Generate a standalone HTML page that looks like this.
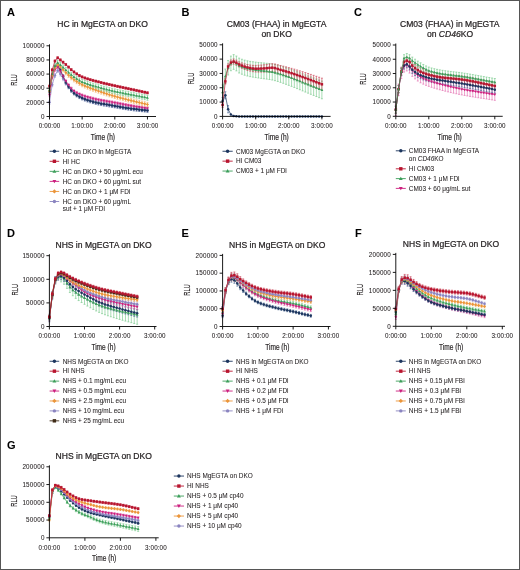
<!DOCTYPE html>
<html><head><meta charset="utf-8"><style>
html,body{margin:0;padding:0;background:#fff;}
svg{display:block;filter:blur(0.35px);}
text{font-family:"Liberation Sans", sans-serif;stroke:#231f20;stroke-width:0.06px;}
</style></head><body>
<svg width="520" height="570" viewBox="0 0 520 570">
<rect x="0" y="0" width="520" height="570" fill="#fff"/>
<text x="7.00" y="16.30" font-size="11" text-anchor="start" font-weight="bold" fill="#000" >A</text>
<text x="102.50" y="26.70" font-size="8.55" text-anchor="middle" font-weight="normal" fill="#231f20" style="stroke-width:0.22px">HC in MgEGTA on DKO</text>
<path d="M49.50 100.38V104.34M48.50 100.38h2M48.50 104.34h2M52.22 82.66V86.62M51.22 82.66h2M51.22 86.62h2M54.94 73.54V77.50M53.94 73.54h2M53.94 77.50h2M57.66 68.57V72.52M56.66 68.57h2M56.66 72.52h2M60.38 72.12V76.08M59.38 72.12h2M59.38 76.08h2M63.10 76.76V80.72M62.10 76.76h2M62.10 80.72h2M65.83 81.29V85.25M64.83 81.29h2M64.83 85.25h2M68.55 84.83V88.79M67.55 84.83h2M67.55 88.79h2M71.27 87.93V91.89M70.27 87.93h2M70.27 91.89h2M73.99 90.48V94.44M72.99 90.48h2M72.99 94.44h2M76.71 92.58V96.54M75.71 92.58h2M75.71 96.54h2M79.43 94.36V98.32M78.43 94.36h2M78.43 98.32h2M82.15 95.78V99.74M81.15 95.78h2M81.15 99.74h2M84.87 96.94V100.90M83.87 96.94h2M83.87 100.90h2M87.59 97.97V101.93M86.59 97.97h2M86.59 101.93h2M90.31 98.89V102.85M89.31 98.89h2M89.31 102.85h2M93.03 99.71V103.67M92.03 99.71h2M92.03 103.67h2M95.75 100.44V104.40M94.75 100.44h2M94.75 104.40h2M98.47 101.09V105.05M97.47 101.09h2M97.47 105.05h2M101.20 101.66V105.62M100.20 101.66h2M100.20 105.62h2M103.92 102.17V106.13M102.92 102.17h2M102.92 106.13h2M106.64 102.63V106.59M105.64 102.63h2M105.64 106.59h2M109.36 103.06V107.02M108.36 103.06h2M108.36 107.02h2M112.08 103.49V107.45M111.08 103.49h2M111.08 107.45h2M114.80 103.92V107.87M113.80 103.92h2M113.80 107.87h2M117.52 104.36V108.32M116.52 104.36h2M116.52 108.32h2M120.24 104.80V108.75M119.24 104.80h2M119.24 108.75h2M122.96 105.22V109.18M121.96 105.22h2M121.96 109.18h2M125.68 105.64V109.60M124.68 105.64h2M124.68 109.60h2M128.40 106.03V109.99M127.40 106.03h2M127.40 109.99h2M131.12 106.39V110.35M130.12 106.39h2M130.12 110.35h2M133.85 106.72V110.68M132.85 106.72h2M132.85 110.68h2M136.57 107.02V110.98M135.57 107.02h2M135.57 110.98h2M139.29 107.31V111.27M138.29 107.31h2M138.29 111.27h2M142.01 107.59V111.55M141.01 107.59h2M141.01 111.55h2M144.73 107.87V111.83M143.73 107.87h2M143.73 111.83h2M147.45 108.16V112.12M146.45 108.16h2M146.45 112.12h2" stroke="#aaa4d6" stroke-width="0.6" fill="none"/>
<path d="M49.50 89.99V93.52M48.50 89.99h2M48.50 93.52h2M52.22 73.68V77.22M51.22 73.68h2M51.22 77.22h2M54.94 65.25V68.79M53.94 65.25h2M53.94 68.79h2M57.66 63.83V67.36M56.66 63.83h2M56.66 67.36h2M60.38 68.09V71.63M59.38 68.09h2M59.38 71.63h2M63.10 74.54V78.07M62.10 74.54h2M62.10 78.07h2M65.83 80.80V84.33M64.83 80.80h2M64.83 84.33h2M68.55 85.10V88.64M67.55 85.10h2M67.55 88.64h2M71.27 88.68V92.22M70.27 88.68h2M70.27 92.22h2M73.99 91.40V94.94M72.99 91.40h2M72.99 94.94h2M76.71 93.43V96.97M75.71 93.43h2M75.71 96.97h2M79.43 95.06V98.59M78.43 95.06h2M78.43 98.59h2M82.15 96.35V99.89M81.15 96.35h2M81.15 99.89h2M84.87 97.43V100.96M83.87 97.43h2M83.87 100.96h2M87.59 98.38V101.92M86.59 98.38h2M86.59 101.92h2M90.31 99.23V102.77M89.31 99.23h2M89.31 102.77h2M93.03 99.99V103.53M92.03 99.99h2M92.03 103.53h2M95.75 100.67V104.21M94.75 100.67h2M94.75 104.21h2M98.47 101.30V104.83M97.47 101.30h2M97.47 104.83h2M101.20 101.86V105.40M100.20 101.86h2M100.20 105.40h2M103.92 102.36V105.89M102.92 102.36h2M102.92 105.89h2M106.64 102.81V106.34M105.64 102.81h2M105.64 106.34h2M109.36 103.24V106.78M108.36 103.24h2M108.36 106.78h2M112.08 103.67V107.21M111.08 103.67h2M111.08 107.21h2M114.80 104.13V107.66M113.80 104.13h2M113.80 107.66h2M117.52 104.61V108.15M116.52 104.61h2M116.52 108.15h2M120.24 105.12V108.65M119.24 105.12h2M119.24 108.65h2M122.96 105.62V109.16M121.96 105.62h2M121.96 109.16h2M125.68 106.11V109.64M124.68 106.11h2M124.68 109.64h2M128.40 106.56V110.09M127.40 106.56h2M127.40 110.09h2M131.12 106.96V110.49M130.12 106.96h2M130.12 110.49h2M133.85 107.30V110.83M132.85 107.30h2M132.85 110.83h2M136.57 107.61V111.14M135.57 107.61h2M135.57 111.14h2M139.29 107.89V111.43M138.29 107.89h2M138.29 111.43h2M142.01 108.16V111.70M141.01 108.16h2M141.01 111.70h2M144.73 108.44V111.97M143.73 108.44h2M143.73 111.97h2M147.45 108.72V112.26M146.45 108.72h2M146.45 112.26h2" stroke="#3a5a8a" stroke-width="0.6" fill="none"/>
<path d="M49.50 93.88V96.70M48.50 93.88h2M48.50 96.70h2M52.22 76.16V78.99M51.22 76.16h2M51.22 78.99h2M54.94 68.44V71.27M53.94 68.44h2M53.94 71.27h2M57.66 65.60V68.42M56.66 65.60h2M56.66 68.42h2M60.38 69.86V72.68M59.38 69.86h2M59.38 72.68h2M63.10 74.93V77.76M62.10 74.93h2M62.10 77.76h2M65.83 79.74V82.56M64.83 79.74h2M64.83 82.56h2M68.55 83.64V86.47M67.55 83.64h2M67.55 86.47h2M71.27 87.08V89.91M70.27 87.08h2M70.27 89.91h2M73.99 89.63V92.46M72.99 89.63h2M72.99 92.46h2M76.71 91.39V94.21M75.71 91.39h2M75.71 94.21h2M79.43 92.76V95.59M78.43 92.76h2M78.43 95.59h2M82.15 93.88V96.70M81.15 93.88h2M81.15 96.70h2M84.87 94.85V97.68M83.87 94.85h2M83.87 97.68h2M87.59 95.72V98.55M86.59 95.72h2M86.59 98.55h2M90.31 96.51V99.33M89.31 96.51h2M89.31 99.33h2M93.03 97.22V100.05M92.03 97.22h2M92.03 100.05h2M95.75 97.87V100.70M94.75 97.87h2M94.75 100.70h2M98.47 98.47V101.30M97.47 98.47h2M97.47 101.30h2M101.20 99.02V101.84M100.20 99.02h2M100.20 101.84h2M103.92 99.50V102.33M102.92 99.50h2M102.92 102.33h2M106.64 99.95V102.78M105.64 99.95h2M105.64 102.78h2M109.36 100.38V103.21M108.36 100.38h2M108.36 103.21h2M112.08 100.82V103.65M111.08 100.82h2M111.08 103.65h2M114.80 101.30V104.13M113.80 101.30h2M113.80 104.13h2M117.52 101.82V104.65M116.52 101.82h2M116.52 104.65h2M120.24 102.36V105.19M119.24 102.36h2M119.24 105.19h2M122.96 102.92V105.74M121.96 102.92h2M121.96 105.74h2M125.68 103.47V106.29M124.68 103.47h2M124.68 106.29h2M128.40 103.99V106.82M127.40 103.99h2M127.40 106.82h2M131.12 104.48V107.31M130.12 104.48h2M130.12 107.31h2M133.85 104.93V107.76M132.85 104.93h2M132.85 107.76h2M136.57 105.35V108.18M135.57 105.35h2M135.57 108.18h2M139.29 105.76V108.58M138.29 105.76h2M138.29 108.58h2M142.01 106.15V108.98M141.01 106.15h2M141.01 108.98h2M144.73 106.55V109.38M143.73 106.55h2M143.73 109.38h2M147.45 106.96V109.78M146.45 106.96h2M146.45 109.78h2" stroke="#e060a8" stroke-width="0.6" fill="none"/>
<path d="M49.50 88.93V93.17M48.50 88.93h2M48.50 93.17h2M52.22 73.33V77.57M51.22 73.33h2M51.22 77.57h2M54.94 65.61V69.85M53.94 65.61h2M53.94 69.85h2M57.66 62.77V67.01M56.66 62.77h2M56.66 67.01h2M60.38 64.90V69.14M59.38 64.90h2M59.38 69.14h2M63.10 67.67V71.92M62.10 67.67h2M62.10 71.92h2M65.83 70.54V74.79M64.83 70.54h2M64.83 74.79h2M68.55 73.10V77.34M67.55 73.10h2M67.55 77.34h2M71.27 75.49V79.74M70.27 75.49h2M70.27 79.74h2M73.99 77.61V81.86M72.99 77.61h2M72.99 81.86h2M76.71 79.47V83.71M75.71 79.47h2M75.71 83.71h2M79.43 81.12V85.37M78.43 81.12h2M78.43 85.37h2M82.15 82.56V86.81M81.15 82.56h2M81.15 86.81h2M84.87 83.82V88.06M83.87 83.82h2M83.87 88.06h2M87.59 84.96V89.20M86.59 84.96h2M86.59 89.20h2M90.31 86.01V90.26M89.31 86.01h2M89.31 90.26h2M93.03 87.01V91.25M92.03 87.01h2M92.03 91.25h2M95.75 87.97V92.21M94.75 87.97h2M94.75 92.21h2M98.47 88.93V93.17M97.47 88.93h2M97.47 93.17h2M101.20 89.88V94.12M100.20 89.88h2M100.20 94.12h2M103.92 90.81V95.05M102.92 90.81h2M102.92 95.05h2M106.64 91.71V95.95M105.64 91.71h2M105.64 95.95h2M109.36 92.58V96.83M108.36 92.58h2M108.36 96.83h2M112.08 93.43V97.67M111.08 93.43h2M111.08 97.67h2M114.80 94.23V98.47M113.80 94.23h2M113.80 98.47h2M117.52 95.00V99.24M116.52 95.00h2M116.52 99.24h2M120.24 95.73V99.97M119.24 95.73h2M119.24 99.97h2M122.96 96.43V100.67M121.96 96.43h2M121.96 100.67h2M125.68 97.12V101.36M124.68 97.12h2M124.68 101.36h2M128.40 97.80V102.04M127.40 97.80h2M127.40 102.04h2M131.12 98.47V102.71M130.12 98.47h2M130.12 102.71h2M133.85 99.14V103.38M132.85 99.14h2M132.85 103.38h2M136.57 99.79V104.03M135.57 99.79h2M135.57 104.03h2M139.29 100.44V104.68M138.29 100.44h2M138.29 104.68h2M142.01 101.08V105.32M141.01 101.08h2M141.01 105.32h2M144.73 101.72V105.96M143.73 101.72h2M143.73 105.96h2M147.45 102.36V106.60M146.45 102.36h2M146.45 106.60h2" stroke="#f2b062" stroke-width="0.6" fill="none"/>
<path d="M49.50 87.16V92.11M48.50 87.16h2M48.50 92.11h2M52.22 71.56V76.51M51.22 71.56h2M51.22 76.51h2M54.94 63.14V68.09M53.94 63.14h2M53.94 68.09h2M57.66 60.29V65.24M56.66 60.29h2M56.66 65.24h2M60.38 62.42V67.37M59.38 62.42h2M59.38 67.37h2M63.10 64.86V69.81M62.10 64.86h2M62.10 69.81h2M65.83 67.36V72.31M64.83 67.36h2M64.83 72.31h2M68.55 69.84V74.79M67.55 69.84h2M67.55 74.79h2M71.27 72.27V77.22M70.27 72.27h2M70.27 77.22h2M73.99 74.43V79.38M72.99 74.43h2M72.99 79.38h2M76.71 76.31V81.26M75.71 76.31h2M75.71 81.26h2M79.43 78.00V82.95M78.43 78.00h2M78.43 82.95h2M82.15 79.38V84.33M81.15 79.38h2M81.15 84.33h2M84.87 80.49V85.44M83.87 80.49h2M83.87 85.44h2M87.59 81.47V86.42M86.59 81.47h2M86.59 86.42h2M90.31 82.34V87.29M89.31 82.34h2M89.31 87.29h2M93.03 83.14V88.09M92.03 83.14h2M92.03 88.09h2M95.75 83.91V88.86M94.75 83.91h2M94.75 88.86h2M98.47 84.69V89.63M97.47 84.69h2M97.47 89.63h2M101.20 85.46V90.41M100.20 85.46h2M100.20 90.41h2M103.92 86.21V91.16M102.92 86.21h2M102.92 91.16h2M106.64 86.94V91.89M105.64 86.94h2M105.64 91.89h2M109.36 87.64V92.59M108.36 87.64h2M108.36 92.59h2M112.08 88.30V93.25M111.08 88.30h2M111.08 93.25h2M114.80 88.93V93.88M113.80 88.93h2M113.80 93.88h2M117.52 89.51V94.46M116.52 89.51h2M116.52 94.46h2M120.24 90.05V95.00M119.24 90.05h2M119.24 95.00h2M122.96 90.57V95.52M121.96 90.57h2M121.96 95.52h2M125.68 91.08V96.03M124.68 91.08h2M124.68 96.03h2M128.40 91.59V96.54M127.40 91.59h2M127.40 96.54h2M131.12 92.11V97.06M130.12 92.11h2M130.12 97.06h2M133.85 92.64V97.59M132.85 92.64h2M132.85 97.59h2M136.57 93.17V98.12M135.57 93.17h2M135.57 98.12h2M139.29 93.70V98.65M138.29 93.70h2M138.29 98.65h2M142.01 94.23V99.18M141.01 94.23h2M141.01 99.18h2M144.73 94.76V99.71M143.73 94.76h2M143.73 99.71h2M147.45 95.29V100.24M146.45 95.29h2M146.45 100.24h2" stroke="#6cc482" stroke-width="0.6" fill="none"/>
<path d="M49.50 85.04V87.16M48.50 85.04h2M48.50 87.16h2M52.22 68.73V70.85M51.22 68.73h2M51.22 70.85h2M54.94 59.96V62.08M53.94 59.96h2M53.94 62.08h2M57.66 56.76V58.88M56.66 56.76h2M56.66 58.88h2M60.38 58.89V61.01M59.38 58.89h2M59.38 61.01h2M63.10 61.14V63.26M62.10 61.14h2M62.10 63.26h2M65.83 63.47V65.60M64.83 63.47h2M64.83 65.60h2M68.55 66.01V68.14M67.55 66.01h2M67.55 68.14h2M71.27 68.62V70.74M70.27 68.62h2M70.27 70.74h2M73.99 70.90V73.02M72.99 70.90h2M72.99 73.02h2M76.71 72.81V74.93M75.71 72.81h2M75.71 74.93h2M79.43 74.50V76.62M78.43 74.50h2M78.43 76.62h2M82.15 75.85V77.97M81.15 75.85h2M81.15 77.97h2M84.87 76.91V79.03M83.87 76.91h2M83.87 79.03h2M87.59 77.82V79.94M86.59 77.82h2M86.59 79.94h2M90.31 78.63V80.76M89.31 78.63h2M89.31 80.76h2M93.03 79.38V81.50M92.03 79.38h2M92.03 81.50h2M95.75 80.08V82.21M94.75 80.08h2M94.75 82.21h2M98.47 80.80V82.92M97.47 80.80h2M97.47 82.92h2M101.20 81.50V83.62M100.20 81.50h2M100.20 83.62h2M103.92 82.18V84.30M102.92 82.18h2M102.92 84.30h2M106.64 82.82V84.94M105.64 82.82h2M105.64 84.94h2M109.36 83.45V85.57M108.36 83.45h2M108.36 85.57h2M112.08 84.07V86.19M111.08 84.07h2M111.08 86.19h2M114.80 84.69V86.81M113.80 84.69h2M113.80 86.81h2M117.52 85.29V87.41M116.52 85.29h2M116.52 87.41h2M120.24 85.89V88.01M119.24 85.89h2M119.24 88.01h2M122.96 86.47V88.59M121.96 86.47h2M121.96 88.59h2M125.68 87.05V89.18M124.68 87.05h2M124.68 89.18h2M128.40 87.63V89.76M127.40 87.63h2M127.40 89.76h2M131.12 88.22V90.34M130.12 88.22h2M130.12 90.34h2M133.85 88.81V90.93M132.85 88.81h2M132.85 90.93h2M136.57 89.40V91.52M135.57 89.40h2M135.57 91.52h2M139.29 89.99V92.11M138.29 89.99h2M138.29 92.11h2M142.01 90.58V92.70M141.01 90.58h2M141.01 92.70h2M144.73 91.17V93.29M143.73 91.17h2M143.73 93.29h2M147.45 91.75V93.88M146.45 91.75h2M146.45 93.88h2" stroke="#c8384c" stroke-width="0.6" fill="none"/>
<polyline points="49.50,102.36 52.22,84.64 54.94,75.52 57.66,70.54 60.38,74.10 63.10,78.74 65.83,83.27 68.55,86.81 71.27,89.91 73.99,92.46 76.71,94.56 79.43,96.34 82.15,97.76 84.87,98.92 87.59,99.95 90.31,100.87 93.03,101.69 95.75,102.42 98.47,103.07 101.20,103.64 103.92,104.15 106.64,104.61 109.36,105.04 112.08,105.47 114.80,105.89 117.52,106.34 120.24,106.77 122.96,107.20 125.68,107.62 128.40,108.01 131.12,108.37 133.85,108.70 136.57,109.00 139.29,109.29 142.01,109.57 144.73,109.85 147.45,110.14" fill="none" stroke="#8a84c0" stroke-width="0.7"/><circle cx="49.50" cy="102.36" r="1.25" fill="#8a84c0"/><circle cx="52.22" cy="84.64" r="1.25" fill="#8a84c0"/><circle cx="54.94" cy="75.52" r="1.25" fill="#8a84c0"/><circle cx="57.66" cy="70.54" r="1.25" fill="#8a84c0"/><circle cx="60.38" cy="74.10" r="1.25" fill="#8a84c0"/><circle cx="63.10" cy="78.74" r="1.25" fill="#8a84c0"/><circle cx="65.83" cy="83.27" r="1.25" fill="#8a84c0"/><circle cx="68.55" cy="86.81" r="1.25" fill="#8a84c0"/><circle cx="71.27" cy="89.91" r="1.25" fill="#8a84c0"/><circle cx="73.99" cy="92.46" r="1.25" fill="#8a84c0"/><circle cx="76.71" cy="94.56" r="1.25" fill="#8a84c0"/><circle cx="79.43" cy="96.34" r="1.25" fill="#8a84c0"/><circle cx="82.15" cy="97.76" r="1.25" fill="#8a84c0"/><circle cx="84.87" cy="98.92" r="1.25" fill="#8a84c0"/><circle cx="87.59" cy="99.95" r="1.25" fill="#8a84c0"/><circle cx="90.31" cy="100.87" r="1.25" fill="#8a84c0"/><circle cx="93.03" cy="101.69" r="1.25" fill="#8a84c0"/><circle cx="95.75" cy="102.42" r="1.25" fill="#8a84c0"/><circle cx="98.47" cy="103.07" r="1.25" fill="#8a84c0"/><circle cx="101.20" cy="103.64" r="1.25" fill="#8a84c0"/><circle cx="103.92" cy="104.15" r="1.25" fill="#8a84c0"/><circle cx="106.64" cy="104.61" r="1.25" fill="#8a84c0"/><circle cx="109.36" cy="105.04" r="1.25" fill="#8a84c0"/><circle cx="112.08" cy="105.47" r="1.25" fill="#8a84c0"/><circle cx="114.80" cy="105.89" r="1.25" fill="#8a84c0"/><circle cx="117.52" cy="106.34" r="1.25" fill="#8a84c0"/><circle cx="120.24" cy="106.77" r="1.25" fill="#8a84c0"/><circle cx="122.96" cy="107.20" r="1.25" fill="#8a84c0"/><circle cx="125.68" cy="107.62" r="1.25" fill="#8a84c0"/><circle cx="128.40" cy="108.01" r="1.25" fill="#8a84c0"/><circle cx="131.12" cy="108.37" r="1.25" fill="#8a84c0"/><circle cx="133.85" cy="108.70" r="1.25" fill="#8a84c0"/><circle cx="136.57" cy="109.00" r="1.25" fill="#8a84c0"/><circle cx="139.29" cy="109.29" r="1.25" fill="#8a84c0"/><circle cx="142.01" cy="109.57" r="1.25" fill="#8a84c0"/><circle cx="144.73" cy="109.85" r="1.25" fill="#8a84c0"/><circle cx="147.45" cy="110.14" r="1.25" fill="#8a84c0"/>
<polyline points="49.50,91.75 52.22,75.45 54.94,67.02 57.66,65.60 60.38,69.86 63.10,76.31 65.83,82.56 68.55,86.87 71.27,90.45 73.99,93.17 76.71,95.20 79.43,96.83 82.15,98.12 84.87,99.19 87.59,100.15 90.31,101.00 93.03,101.76 95.75,102.44 98.47,103.07 101.20,103.63 103.92,104.12 106.64,104.58 109.36,105.01 112.08,105.44 114.80,105.89 117.52,106.38 120.24,106.89 122.96,107.39 125.68,107.88 128.40,108.33 131.12,108.72 133.85,109.06 136.57,109.37 139.29,109.66 142.01,109.93 144.73,110.21 147.45,110.49" fill="none" stroke="#1c355e" stroke-width="0.7"/><circle cx="49.50" cy="91.75" r="1.25" fill="#1c355e"/><circle cx="52.22" cy="75.45" r="1.25" fill="#1c355e"/><circle cx="54.94" cy="67.02" r="1.25" fill="#1c355e"/><circle cx="57.66" cy="65.60" r="1.25" fill="#1c355e"/><circle cx="60.38" cy="69.86" r="1.25" fill="#1c355e"/><circle cx="63.10" cy="76.31" r="1.25" fill="#1c355e"/><circle cx="65.83" cy="82.56" r="1.25" fill="#1c355e"/><circle cx="68.55" cy="86.87" r="1.25" fill="#1c355e"/><circle cx="71.27" cy="90.45" r="1.25" fill="#1c355e"/><circle cx="73.99" cy="93.17" r="1.25" fill="#1c355e"/><circle cx="76.71" cy="95.20" r="1.25" fill="#1c355e"/><circle cx="79.43" cy="96.83" r="1.25" fill="#1c355e"/><circle cx="82.15" cy="98.12" r="1.25" fill="#1c355e"/><circle cx="84.87" cy="99.19" r="1.25" fill="#1c355e"/><circle cx="87.59" cy="100.15" r="1.25" fill="#1c355e"/><circle cx="90.31" cy="101.00" r="1.25" fill="#1c355e"/><circle cx="93.03" cy="101.76" r="1.25" fill="#1c355e"/><circle cx="95.75" cy="102.44" r="1.25" fill="#1c355e"/><circle cx="98.47" cy="103.07" r="1.25" fill="#1c355e"/><circle cx="101.20" cy="103.63" r="1.25" fill="#1c355e"/><circle cx="103.92" cy="104.12" r="1.25" fill="#1c355e"/><circle cx="106.64" cy="104.58" r="1.25" fill="#1c355e"/><circle cx="109.36" cy="105.01" r="1.25" fill="#1c355e"/><circle cx="112.08" cy="105.44" r="1.25" fill="#1c355e"/><circle cx="114.80" cy="105.89" r="1.25" fill="#1c355e"/><circle cx="117.52" cy="106.38" r="1.25" fill="#1c355e"/><circle cx="120.24" cy="106.89" r="1.25" fill="#1c355e"/><circle cx="122.96" cy="107.39" r="1.25" fill="#1c355e"/><circle cx="125.68" cy="107.88" r="1.25" fill="#1c355e"/><circle cx="128.40" cy="108.33" r="1.25" fill="#1c355e"/><circle cx="131.12" cy="108.72" r="1.25" fill="#1c355e"/><circle cx="133.85" cy="109.06" r="1.25" fill="#1c355e"/><circle cx="136.57" cy="109.37" r="1.25" fill="#1c355e"/><circle cx="139.29" cy="109.66" r="1.25" fill="#1c355e"/><circle cx="142.01" cy="109.93" r="1.25" fill="#1c355e"/><circle cx="144.73" cy="110.21" r="1.25" fill="#1c355e"/><circle cx="147.45" cy="110.49" r="1.25" fill="#1c355e"/>
<polyline points="49.50,95.29 52.22,77.57 54.94,69.85 57.66,67.01 60.38,71.27 63.10,76.34 65.83,81.15 68.55,85.06 71.27,88.49 73.99,91.05 76.71,92.80 79.43,94.17 82.15,95.29 84.87,96.26 87.59,97.14 90.31,97.92 93.03,98.63 95.75,99.28 98.47,99.89 101.20,100.43 103.92,100.92 106.64,101.36 109.36,101.80 112.08,102.24 114.80,102.71 117.52,103.23 120.24,103.78 122.96,104.33 125.68,104.88 128.40,105.41 131.12,105.89 133.85,106.34 136.57,106.77 139.29,107.17 142.01,107.57 144.73,107.96 147.45,108.37" fill="none" stroke="#cc1f7e" stroke-width="0.7"/><path d="M49.50 96.73L50.94 94.21L48.06 94.21Z" fill="#cc1f7e"/><path d="M52.22 79.01L53.66 76.49L50.78 76.49Z" fill="#cc1f7e"/><path d="M54.94 71.29L56.38 68.78L53.50 68.78Z" fill="#cc1f7e"/><path d="M57.66 68.45L59.10 65.93L56.23 65.93Z" fill="#cc1f7e"/><path d="M60.38 72.71L61.82 70.19L58.95 70.19Z" fill="#cc1f7e"/><path d="M63.10 77.78L64.54 75.27L61.67 75.27Z" fill="#cc1f7e"/><path d="M65.83 82.59L67.26 80.07L64.39 80.07Z" fill="#cc1f7e"/><path d="M68.55 86.50L69.98 83.98L67.11 83.98Z" fill="#cc1f7e"/><path d="M71.27 89.93L72.70 87.41L69.83 87.41Z" fill="#cc1f7e"/><path d="M73.99 92.49L75.42 89.97L72.55 89.97Z" fill="#cc1f7e"/><path d="M76.71 94.24L78.15 91.72L75.27 91.72Z" fill="#cc1f7e"/><path d="M79.43 95.61L80.87 93.10L77.99 93.10Z" fill="#cc1f7e"/><path d="M82.15 96.73L83.59 94.21L80.71 94.21Z" fill="#cc1f7e"/><path d="M84.87 97.70L86.31 95.18L83.43 95.18Z" fill="#cc1f7e"/><path d="M87.59 98.57L89.03 96.06L86.15 96.06Z" fill="#cc1f7e"/><path d="M90.31 99.36L91.75 96.84L88.88 96.84Z" fill="#cc1f7e"/><path d="M93.03 100.07L94.47 97.55L91.60 97.55Z" fill="#cc1f7e"/><path d="M95.75 100.72L97.19 98.20L94.32 98.20Z" fill="#cc1f7e"/><path d="M98.47 101.32L99.91 98.81L97.04 98.81Z" fill="#cc1f7e"/><path d="M101.20 101.87L102.63 99.35L99.76 99.35Z" fill="#cc1f7e"/><path d="M103.92 102.35L105.35 99.84L102.48 99.84Z" fill="#cc1f7e"/><path d="M106.64 102.80L108.07 100.28L105.20 100.28Z" fill="#cc1f7e"/><path d="M109.36 103.23L110.80 100.72L107.92 100.72Z" fill="#cc1f7e"/><path d="M112.08 103.68L113.52 101.16L110.64 101.16Z" fill="#cc1f7e"/><path d="M114.80 104.15L116.24 101.64L113.36 101.64Z" fill="#cc1f7e"/><path d="M117.52 104.67L118.96 102.15L116.08 102.15Z" fill="#cc1f7e"/><path d="M120.24 105.21L121.68 102.70L118.80 102.70Z" fill="#cc1f7e"/><path d="M122.96 105.77L124.40 103.25L121.52 103.25Z" fill="#cc1f7e"/><path d="M125.68 106.32L127.12 103.80L124.25 103.80Z" fill="#cc1f7e"/><path d="M128.40 106.84L129.84 104.33L126.97 104.33Z" fill="#cc1f7e"/><path d="M131.12 107.33L132.56 104.82L129.69 104.82Z" fill="#cc1f7e"/><path d="M133.85 107.78L135.28 105.27L132.41 105.27Z" fill="#cc1f7e"/><path d="M136.57 108.20L138.00 105.69L135.13 105.69Z" fill="#cc1f7e"/><path d="M139.29 108.61L140.72 106.09L137.85 106.09Z" fill="#cc1f7e"/><path d="M142.01 109.01L143.45 106.49L140.57 106.49Z" fill="#cc1f7e"/><path d="M144.73 109.40L146.17 106.89L143.29 106.89Z" fill="#cc1f7e"/><path d="M147.45 109.81L148.89 107.29L146.01 107.29Z" fill="#cc1f7e"/>
<polyline points="49.50,91.05 52.22,75.45 54.94,67.73 57.66,64.89 60.38,67.02 63.10,69.80 65.83,72.67 68.55,75.22 71.27,77.61 73.99,79.74 76.71,81.59 79.43,83.25 82.15,84.69 84.87,85.94 87.59,87.08 90.31,88.14 93.03,89.13 95.75,90.09 98.47,91.05 101.20,92.00 103.92,92.93 106.64,93.83 109.36,94.71 112.08,95.55 114.80,96.35 117.52,97.12 120.24,97.85 122.96,98.55 125.68,99.24 128.40,99.92 131.12,100.59 133.85,101.26 136.57,101.91 139.29,102.56 142.01,103.20 144.73,103.84 147.45,104.48" fill="none" stroke="#eb953a" stroke-width="0.7"/><path d="M49.50 89.49L51.06 91.05L49.50 92.61L47.94 91.05Z" fill="#eb953a"/><path d="M52.22 73.89L53.78 75.45L52.22 77.02L50.66 75.45Z" fill="#eb953a"/><path d="M54.94 66.17L56.50 67.73L54.94 69.30L53.38 67.73Z" fill="#eb953a"/><path d="M57.66 63.33L59.23 64.89L57.66 66.45L56.10 64.89Z" fill="#eb953a"/><path d="M60.38 65.46L61.95 67.02L60.38 68.58L58.82 67.02Z" fill="#eb953a"/><path d="M63.10 68.23L64.67 69.80L63.10 71.36L61.54 69.80Z" fill="#eb953a"/><path d="M65.83 71.10L67.39 72.67L65.83 74.23L64.26 72.67Z" fill="#eb953a"/><path d="M68.55 73.65L70.11 75.22L68.55 76.78L66.98 75.22Z" fill="#eb953a"/><path d="M71.27 76.05L72.83 77.61L71.27 79.18L69.70 77.61Z" fill="#eb953a"/><path d="M73.99 78.17L75.55 79.74L73.99 81.30L72.42 79.74Z" fill="#eb953a"/><path d="M76.71 80.03L78.27 81.59L76.71 83.15L75.15 81.59Z" fill="#eb953a"/><path d="M79.43 81.68L80.99 83.25L79.43 84.81L77.87 83.25Z" fill="#eb953a"/><path d="M82.15 83.12L83.71 84.69L82.15 86.25L80.59 84.69Z" fill="#eb953a"/><path d="M84.87 84.38L86.43 85.94L84.87 87.50L83.31 85.94Z" fill="#eb953a"/><path d="M87.59 85.52L89.15 87.08L87.59 88.64L86.03 87.08Z" fill="#eb953a"/><path d="M90.31 86.57L91.88 88.14L90.31 89.70L88.75 88.14Z" fill="#eb953a"/><path d="M93.03 87.57L94.60 89.13L93.03 90.69L91.47 89.13Z" fill="#eb953a"/><path d="M95.75 88.53L97.32 90.09L95.75 91.65L94.19 90.09Z" fill="#eb953a"/><path d="M98.47 89.49L100.04 91.05L98.47 92.61L96.91 91.05Z" fill="#eb953a"/><path d="M101.20 90.44L102.76 92.00L101.20 93.56L99.63 92.00Z" fill="#eb953a"/><path d="M103.92 91.37L105.48 92.93L103.92 94.49L102.35 92.93Z" fill="#eb953a"/><path d="M106.64 92.27L108.20 93.83L106.64 95.40L105.07 93.83Z" fill="#eb953a"/><path d="M109.36 93.14L110.92 94.71L109.36 96.27L107.80 94.71Z" fill="#eb953a"/><path d="M112.08 93.98L113.64 95.55L112.08 97.11L110.52 95.55Z" fill="#eb953a"/><path d="M114.80 94.79L116.36 96.35L114.80 97.91L113.24 96.35Z" fill="#eb953a"/><path d="M117.52 95.55L119.08 97.12L117.52 98.68L115.96 97.12Z" fill="#eb953a"/><path d="M120.24 96.29L121.80 97.85L120.24 99.41L118.68 97.85Z" fill="#eb953a"/><path d="M122.96 96.99L124.52 98.55L122.96 100.12L121.40 98.55Z" fill="#eb953a"/><path d="M125.68 97.68L127.25 99.24L125.68 100.80L124.12 99.24Z" fill="#eb953a"/><path d="M128.40 98.36L129.97 99.92L128.40 101.48L126.84 99.92Z" fill="#eb953a"/><path d="M131.12 99.03L132.69 100.59L131.12 102.16L129.56 100.59Z" fill="#eb953a"/><path d="M133.85 99.70L135.41 101.26L133.85 102.82L132.28 101.26Z" fill="#eb953a"/><path d="M136.57 100.35L138.13 101.91L136.57 103.48L135.00 101.91Z" fill="#eb953a"/><path d="M139.29 101.00L140.85 102.56L139.29 104.12L137.72 102.56Z" fill="#eb953a"/><path d="M142.01 101.63L143.57 103.20L142.01 104.76L140.45 103.20Z" fill="#eb953a"/><path d="M144.73 102.27L146.29 103.84L144.73 105.40L143.17 103.84Z" fill="#eb953a"/><path d="M147.45 102.92L149.01 104.48L147.45 106.04L145.89 104.48Z" fill="#eb953a"/>
<polyline points="49.50,89.63 52.22,74.04 54.94,65.61 57.66,62.77 60.38,64.90 63.10,67.33 65.83,69.84 68.55,72.31 71.27,74.75 73.99,76.91 76.71,78.79 79.43,80.48 82.15,81.86 84.87,82.97 87.59,83.94 90.31,84.81 93.03,85.62 95.75,86.39 98.47,87.16 101.20,87.94 103.92,88.69 106.64,89.42 109.36,90.11 112.08,90.78 114.80,91.40 117.52,91.98 120.24,92.53 122.96,93.05 125.68,93.56 128.40,94.06 131.12,94.58 133.85,95.11 136.57,95.64 139.29,96.17 142.01,96.70 144.73,97.23 147.45,97.76" fill="none" stroke="#3c9e5a" stroke-width="0.7"/><path d="M49.50 88.20L50.94 90.71L48.06 90.71Z" fill="#3c9e5a"/><path d="M52.22 72.60L53.66 75.11L50.78 75.11Z" fill="#3c9e5a"/><path d="M54.94 64.18L56.38 66.69L53.50 66.69Z" fill="#3c9e5a"/><path d="M57.66 61.33L59.10 63.85L56.23 63.85Z" fill="#3c9e5a"/><path d="M60.38 63.46L61.82 65.98L58.95 65.98Z" fill="#3c9e5a"/><path d="M63.10 65.89L64.54 68.41L61.67 68.41Z" fill="#3c9e5a"/><path d="M65.83 68.40L67.26 70.92L64.39 70.92Z" fill="#3c9e5a"/><path d="M68.55 70.88L69.98 73.39L67.11 73.39Z" fill="#3c9e5a"/><path d="M71.27 73.31L72.70 75.83L69.83 75.83Z" fill="#3c9e5a"/><path d="M73.99 75.47L75.42 77.99L72.55 77.99Z" fill="#3c9e5a"/><path d="M76.71 77.35L78.15 79.87L75.27 79.87Z" fill="#3c9e5a"/><path d="M79.43 79.04L80.87 81.55L77.99 81.55Z" fill="#3c9e5a"/><path d="M82.15 80.42L83.59 82.94L80.71 82.94Z" fill="#3c9e5a"/><path d="M84.87 81.53L86.31 84.05L83.43 84.05Z" fill="#3c9e5a"/><path d="M87.59 82.50L89.03 85.02L86.15 85.02Z" fill="#3c9e5a"/><path d="M90.31 83.37L91.75 85.89L88.88 85.89Z" fill="#3c9e5a"/><path d="M93.03 84.18L94.47 86.69L91.60 86.69Z" fill="#3c9e5a"/><path d="M95.75 84.95L97.19 87.46L94.32 87.46Z" fill="#3c9e5a"/><path d="M98.47 85.72L99.91 88.24L97.04 88.24Z" fill="#3c9e5a"/><path d="M101.20 86.50L102.63 89.01L99.76 89.01Z" fill="#3c9e5a"/><path d="M103.92 87.25L105.35 89.77L102.48 89.77Z" fill="#3c9e5a"/><path d="M106.64 87.98L108.07 90.49L105.20 90.49Z" fill="#3c9e5a"/><path d="M109.36 88.67L110.80 91.19L107.92 91.19Z" fill="#3c9e5a"/><path d="M112.08 89.34L113.52 91.85L110.64 91.85Z" fill="#3c9e5a"/><path d="M114.80 89.96L116.24 92.48L113.36 92.48Z" fill="#3c9e5a"/><path d="M117.52 90.55L118.96 93.06L116.08 93.06Z" fill="#3c9e5a"/><path d="M120.24 91.09L121.68 93.61L118.80 93.61Z" fill="#3c9e5a"/><path d="M122.96 91.61L124.40 94.13L121.52 94.13Z" fill="#3c9e5a"/><path d="M125.68 92.12L127.12 94.63L124.25 94.63Z" fill="#3c9e5a"/><path d="M128.40 92.63L129.84 95.14L126.97 95.14Z" fill="#3c9e5a"/><path d="M131.12 93.15L132.56 95.66L129.69 95.66Z" fill="#3c9e5a"/><path d="M133.85 93.68L135.28 96.19L132.41 96.19Z" fill="#3c9e5a"/><path d="M136.57 94.21L138.00 96.72L135.13 96.72Z" fill="#3c9e5a"/><path d="M139.29 94.74L140.72 97.25L137.85 97.25Z" fill="#3c9e5a"/><path d="M142.01 95.27L143.45 97.78L140.57 97.78Z" fill="#3c9e5a"/><path d="M144.73 95.80L146.17 98.31L143.29 98.31Z" fill="#3c9e5a"/><path d="M147.45 96.33L148.89 98.84L146.01 98.84Z" fill="#3c9e5a"/>
<polyline points="49.50,86.10 52.22,69.79 54.94,61.02 57.66,57.82 60.38,59.95 63.10,62.20 65.83,64.54 68.55,67.08 71.27,69.68 73.99,71.96 76.71,73.87 79.43,75.56 82.15,76.91 84.87,77.97 87.59,78.88 90.31,79.69 93.03,80.44 95.75,81.14 98.47,81.86 101.20,82.56 103.92,83.24 106.64,83.88 109.36,84.51 112.08,85.13 114.80,85.75 117.52,86.35 120.24,86.95 122.96,87.53 125.68,88.11 128.40,88.70 131.12,89.28 133.85,89.87 136.57,90.46 139.29,91.05 142.01,91.64 144.73,92.23 147.45,92.82" fill="none" stroke="#b8152f" stroke-width="0.7"/><rect x="48.25" y="84.85" width="2.50" height="2.50" fill="#b8152f"/><rect x="50.97" y="68.54" width="2.50" height="2.50" fill="#b8152f"/><rect x="53.69" y="59.77" width="2.50" height="2.50" fill="#b8152f"/><rect x="56.41" y="56.57" width="2.50" height="2.50" fill="#b8152f"/><rect x="59.13" y="58.70" width="2.50" height="2.50" fill="#b8152f"/><rect x="61.85" y="60.95" width="2.50" height="2.50" fill="#b8152f"/><rect x="64.58" y="63.29" width="2.50" height="2.50" fill="#b8152f"/><rect x="67.30" y="65.83" width="2.50" height="2.50" fill="#b8152f"/><rect x="70.02" y="68.43" width="2.50" height="2.50" fill="#b8152f"/><rect x="72.74" y="70.71" width="2.50" height="2.50" fill="#b8152f"/><rect x="75.46" y="72.62" width="2.50" height="2.50" fill="#b8152f"/><rect x="78.18" y="74.31" width="2.50" height="2.50" fill="#b8152f"/><rect x="80.90" y="75.66" width="2.50" height="2.50" fill="#b8152f"/><rect x="83.62" y="76.72" width="2.50" height="2.50" fill="#b8152f"/><rect x="86.34" y="77.63" width="2.50" height="2.50" fill="#b8152f"/><rect x="89.06" y="78.44" width="2.50" height="2.50" fill="#b8152f"/><rect x="91.78" y="79.19" width="2.50" height="2.50" fill="#b8152f"/><rect x="94.50" y="79.89" width="2.50" height="2.50" fill="#b8152f"/><rect x="97.22" y="80.61" width="2.50" height="2.50" fill="#b8152f"/><rect x="99.95" y="81.31" width="2.50" height="2.50" fill="#b8152f"/><rect x="102.67" y="81.99" width="2.50" height="2.50" fill="#b8152f"/><rect x="105.39" y="82.63" width="2.50" height="2.50" fill="#b8152f"/><rect x="108.11" y="83.26" width="2.50" height="2.50" fill="#b8152f"/><rect x="110.83" y="83.88" width="2.50" height="2.50" fill="#b8152f"/><rect x="113.55" y="84.50" width="2.50" height="2.50" fill="#b8152f"/><rect x="116.27" y="85.10" width="2.50" height="2.50" fill="#b8152f"/><rect x="118.99" y="85.70" width="2.50" height="2.50" fill="#b8152f"/><rect x="121.71" y="86.28" width="2.50" height="2.50" fill="#b8152f"/><rect x="124.43" y="86.86" width="2.50" height="2.50" fill="#b8152f"/><rect x="127.15" y="87.45" width="2.50" height="2.50" fill="#b8152f"/><rect x="129.88" y="88.03" width="2.50" height="2.50" fill="#b8152f"/><rect x="132.60" y="88.62" width="2.50" height="2.50" fill="#b8152f"/><rect x="135.32" y="89.21" width="2.50" height="2.50" fill="#b8152f"/><rect x="138.04" y="89.80" width="2.50" height="2.50" fill="#b8152f"/><rect x="140.76" y="90.39" width="2.50" height="2.50" fill="#b8152f"/><rect x="143.48" y="90.98" width="2.50" height="2.50" fill="#b8152f"/><rect x="146.20" y="91.57" width="2.50" height="2.50" fill="#b8152f"/>
<path d="M49.50 44.30V116.50H156.00" stroke="#000" stroke-width="0.9" fill="none"/>
<text x="44.70" y="118.75" font-size="6.3" text-anchor="end" font-weight="normal" fill="#231f20" letter-spacing="0.2">0</text>
<text x="44.70" y="104.61" font-size="6.3" text-anchor="end" font-weight="normal" fill="#231f20" letter-spacing="0.2">20000</text>
<text x="44.70" y="90.47" font-size="6.3" text-anchor="end" font-weight="normal" fill="#231f20" letter-spacing="0.2">40000</text>
<text x="44.70" y="76.33" font-size="6.3" text-anchor="end" font-weight="normal" fill="#231f20" letter-spacing="0.2">60000</text>
<text x="44.70" y="62.19" font-size="6.3" text-anchor="end" font-weight="normal" fill="#231f20" letter-spacing="0.2">80000</text>
<text x="44.70" y="48.05" font-size="6.3" text-anchor="end" font-weight="normal" fill="#231f20" letter-spacing="0.2">100000</text>
<text x="49.55" y="128.40" font-size="6.3" text-anchor="middle" font-weight="normal" fill="#231f20" letter-spacing="0.1">0:00:00</text>
<text x="82.20" y="128.40" font-size="6.3" text-anchor="middle" font-weight="normal" fill="#231f20" letter-spacing="0.1">1:00:00</text>
<text x="114.85" y="128.40" font-size="6.3" text-anchor="middle" font-weight="normal" fill="#231f20" letter-spacing="0.1">2:00:00</text>
<text x="147.50" y="128.40" font-size="6.3" text-anchor="middle" font-weight="normal" fill="#231f20" letter-spacing="0.1">3:00:00</text>
<path d="M46.50 116.50H49.50M46.50 102.36H49.50M46.50 88.22H49.50M46.50 74.08H49.50M46.50 59.94H49.50M46.50 45.80H49.50M49.50 116.50V119.50M82.15 116.50V119.50M114.80 116.50V119.50M147.45 116.50V119.50" stroke="#000" stroke-width="0.9" fill="none"/>
<text x="0" y="0" font-size="8.4" text-anchor="middle" fill="#231f20" textLength="11.6" lengthAdjust="spacingAndGlyphs" style="stroke-width:0.18px" transform="translate(17.00 80.00) rotate(-90)">RLU</text>
<text x="102.90" y="139.60" font-size="8.4" text-anchor="middle" fill="#231f20" textLength="24.2" lengthAdjust="spacingAndGlyphs" style="stroke-width:0.18px">Time (h)</text>
<path d="M49.60 151.25H59.20" stroke="#1c355e" stroke-width="0.9"/>
<circle cx="54.40" cy="151.25" r="1.70" fill="#1c355e"/>
<text x="62.70" y="153.55" font-size="6.45" text-anchor="start" font-weight="normal" fill="#231f20" >HC on DKO in MgEGTA</text>
<path d="M49.60 161.30H59.20" stroke="#b8152f" stroke-width="0.9"/>
<rect x="52.70" y="159.60" width="3.40" height="3.40" fill="#b8152f"/>
<text x="62.70" y="163.60" font-size="6.45" text-anchor="start" font-weight="normal" fill="#231f20" >HI HC</text>
<path d="M49.60 171.35H59.20" stroke="#3c9e5a" stroke-width="0.9"/>
<path d="M54.40 169.40L56.36 172.82L52.45 172.82Z" fill="#3c9e5a"/>
<text x="62.70" y="173.65" font-size="6.45" text-anchor="start" font-weight="normal" fill="#231f20" >HC on DKO + 50 μg/mL ecu</text>
<path d="M49.60 181.40H59.20" stroke="#cc1f7e" stroke-width="0.9"/>
<path d="M54.40 183.36L56.36 179.93L52.45 179.93Z" fill="#cc1f7e"/>
<text x="62.70" y="183.70" font-size="6.45" text-anchor="start" font-weight="normal" fill="#231f20" >HC on DKO + 60 μg/mL sut</text>
<path d="M49.60 191.45H59.20" stroke="#eb953a" stroke-width="0.9"/>
<path d="M54.40 189.33L56.53 191.45L54.40 193.58L52.28 191.45Z" fill="#eb953a"/>
<text x="62.70" y="193.75" font-size="6.45" text-anchor="start" font-weight="normal" fill="#231f20" >HC on DKO + 1 μM FDi</text>
<path d="M49.60 201.50H59.20" stroke="#8a84c0" stroke-width="0.9"/>
<circle cx="54.40" cy="201.50" r="1.70" fill="#8a84c0"/>
<text x="62.70" y="203.80" font-size="6.45" text-anchor="start" font-weight="normal" fill="#231f20" >HC on DKO + 60 μg/mL</text>
<text x="62.70" y="211.20" font-size="6.45" text-anchor="start" font-weight="normal" fill="#231f20" >sut + 1 μM FDi</text>
<text x="181.50" y="16.30" font-size="11" text-anchor="start" font-weight="bold" fill="#000" >B</text>
<text x="276.60" y="26.60" font-size="8.55" text-anchor="middle" font-weight="normal" fill="#231f20" style="stroke-width:0.22px">CM03 (FHAA) in MgEGTA</text>
<text x="276.60" y="37.30" font-size="8.55" text-anchor="middle" font-weight="normal" fill="#231f20" style="stroke-width:0.22px">on DKO</text>
<path d="M222.60 84.90V99.22M221.60 84.90h2M221.60 99.22h2M225.36 69.05V83.47M224.36 69.05h2M224.36 83.47h2M228.12 60.48V74.99M227.12 60.48h2M227.12 74.99h2M230.88 56.11V70.72M229.88 56.11h2M229.88 70.72h2M233.63 54.63V69.33M232.63 54.63h2M232.63 69.33h2M236.39 56.06V70.86M235.39 56.06h2M235.39 70.86h2M239.15 58.12V73.01M238.15 58.12h2M238.15 73.01h2M241.91 59.24V74.22M240.91 59.24h2M240.91 74.22h2M244.67 60.14V75.23M243.67 60.14h2M243.67 75.23h2M247.43 60.84V76.02M246.43 60.84h2M246.43 76.02h2M250.18 61.35V76.63M249.18 61.35h2M249.18 76.63h2M252.94 61.76V77.13M251.94 61.76h2M251.94 77.13h2M255.70 62.13V77.59M254.70 62.13h2M254.70 77.59h2M258.46 62.46V78.02M257.46 62.46h2M257.46 78.02h2M261.22 62.74V78.39M260.22 62.74h2M260.22 78.39h2M263.98 62.99V78.75M262.98 62.99h2M262.98 78.75h2M266.73 63.27V79.11M265.73 63.27h2M265.73 79.11h2M269.49 63.59V79.53M268.49 63.59h2M268.49 79.53h2M272.25 63.99V80.03M271.25 63.99h2M271.25 80.03h2M275.01 64.53V80.66M274.01 64.53h2M274.01 80.66h2M277.77 65.22V81.45M276.77 65.22h2M276.77 81.45h2M280.52 66.02V82.35M279.52 66.02h2M279.52 82.35h2M283.28 66.90V83.32M282.28 66.90h2M282.28 83.32h2M286.04 67.81V84.32M285.04 67.81h2M285.04 84.32h2M288.80 68.71V85.33M287.80 68.71h2M287.80 85.33h2M291.56 69.65V86.35M290.56 69.65h2M290.56 86.35h2M294.32 70.65V87.45M293.32 70.65h2M293.32 87.45h2M297.07 71.69V88.59M296.07 71.69h2M296.07 88.59h2M299.83 72.76V89.75M298.83 72.76h2M298.83 89.75h2M302.59 73.83V90.92M301.59 73.83h2M301.59 90.92h2M305.35 74.87V92.06M304.35 74.87h2M304.35 92.06h2M308.11 75.90V93.18M307.11 75.90h2M307.11 93.18h2M310.87 76.92V94.30M309.87 76.92h2M309.87 94.30h2M313.62 77.95V95.42M312.62 77.95h2M312.62 95.42h2M316.38 78.98V96.54M315.38 78.98h2M315.38 96.54h2M319.14 80.00V97.66M318.14 80.00h2M318.14 97.66h2M321.90 81.03V98.79M320.90 81.03h2M320.90 98.79h2" stroke="#6cc482" stroke-width="0.6" fill="none"/>
<path d="M222.60 102.37V107.52M221.60 102.37h2M221.60 107.52h2M225.36 78.81V83.96M224.36 78.81h2M224.36 83.96h2M228.12 63.87V69.03M227.12 63.87h2M227.12 69.03h2M230.88 59.98V65.13M229.88 59.98h2M229.88 65.13h2M233.63 58.98V64.13M232.63 58.98h2M232.63 64.13h2M236.39 60.11V65.27M235.39 60.11h2M235.39 65.27h2M239.15 61.84V67.00M238.15 61.84h2M238.15 67.00h2M241.91 62.90V68.29M240.91 62.90h2M240.91 68.29h2M244.67 63.83V69.46M243.67 63.83h2M243.67 69.46h2M247.43 64.49V70.36M246.43 64.49h2M246.43 70.36h2M250.18 64.97V71.08M249.18 64.97h2M249.18 71.08h2M252.94 65.34V71.69M251.94 65.34h2M251.94 71.69h2M255.70 65.42V72.01M254.70 65.42h2M254.70 72.01h2M258.46 65.26V72.08M257.46 65.26h2M257.46 72.08h2M261.22 65.03V72.10M260.22 65.03h2M260.22 72.10h2M263.98 64.78V72.08M262.98 64.78h2M262.98 72.08h2M266.73 64.41V71.95M265.73 64.41h2M265.73 71.95h2M269.49 63.98V71.76M268.49 63.98h2M268.49 71.76h2M272.25 63.70V71.72M271.25 63.70h2M271.25 71.72h2M275.01 63.97V72.23M274.01 63.97h2M274.01 72.23h2M277.77 64.72V73.21M276.77 64.72h2M276.77 73.21h2M280.52 65.49V74.23M279.52 65.49h2M279.52 74.23h2M283.28 66.15V75.12M282.28 66.15h2M282.28 75.12h2M286.04 66.84V76.05M285.04 66.84h2M285.04 76.05h2M288.80 67.57V77.02M287.80 67.57h2M287.80 77.02h2M291.56 68.34V78.03M290.56 68.34h2M290.56 78.03h2M294.32 69.14V79.07M293.32 69.14h2M293.32 79.07h2M297.07 69.98V80.14M296.07 69.98h2M296.07 80.14h2M299.83 70.83V81.24M298.83 70.83h2M298.83 81.24h2M302.59 71.70V82.35M301.59 71.70h2M301.59 82.35h2M305.35 72.58V83.46M304.35 72.58h2M304.35 83.46h2M308.11 73.48V84.60M307.11 73.48h2M307.11 84.60h2M310.87 74.40V85.76M309.87 74.40h2M309.87 85.76h2M313.62 75.34V86.93M312.62 75.34h2M312.62 86.93h2M316.38 76.28V88.12M315.38 76.28h2M315.38 88.12h2M319.14 77.23V89.30M318.14 77.23h2M318.14 89.30h2M321.90 78.17V90.48M320.90 78.17h2M320.90 90.48h2" stroke="#c8384c" stroke-width="0.6" fill="none"/>
<path d="M222.60 97.50V104.66M221.60 97.50h2M221.60 104.66h2M225.36 91.77V98.93M224.36 91.77h2M224.36 98.93h2M228.12 105.63V112.79M227.12 105.63h2M227.12 112.79h2" stroke="#3a5a8a" stroke-width="0.6" fill="none"/>
<polyline points="222.60,92.06 225.36,76.26 228.12,67.73 230.88,63.42 233.63,61.98 236.39,63.46 239.15,65.56 241.91,66.73 244.67,67.68 247.43,68.43 250.18,68.99 252.94,69.45 255.70,69.86 258.46,70.24 261.22,70.56 263.98,70.87 266.73,71.19 269.49,71.56 272.25,72.01 275.01,72.60 277.77,73.34 280.52,74.19 283.28,75.11 286.04,76.07 288.80,77.02 291.56,78.00 294.32,79.05 297.07,80.14 299.83,81.26 302.59,82.37 305.35,83.46 308.11,84.54 310.87,85.61 313.62,86.69 316.38,87.76 319.14,88.83 321.90,89.91" fill="none" stroke="#3c9e5a" stroke-width="0.7"/><path d="M222.60 90.62L224.04 93.13L221.16 93.13Z" fill="#3c9e5a"/><path d="M225.36 74.82L226.80 77.34L223.92 77.34Z" fill="#3c9e5a"/><path d="M228.12 66.30L229.55 68.81L226.68 68.81Z" fill="#3c9e5a"/><path d="M230.88 61.98L232.31 64.49L229.44 64.49Z" fill="#3c9e5a"/><path d="M233.63 60.55L235.07 63.06L232.20 63.06Z" fill="#3c9e5a"/><path d="M236.39 62.02L237.83 64.54L234.95 64.54Z" fill="#3c9e5a"/><path d="M239.15 64.13L240.59 66.64L237.71 66.64Z" fill="#3c9e5a"/><path d="M241.91 65.29L243.35 67.81L240.47 67.81Z" fill="#3c9e5a"/><path d="M244.67 66.25L246.10 68.76L243.23 68.76Z" fill="#3c9e5a"/><path d="M247.43 66.99L248.86 69.51L245.99 69.51Z" fill="#3c9e5a"/><path d="M250.18 67.55L251.62 70.07L248.75 70.07Z" fill="#3c9e5a"/><path d="M252.94 68.01L254.38 70.52L251.50 70.52Z" fill="#3c9e5a"/><path d="M255.70 68.42L257.14 70.94L254.26 70.94Z" fill="#3c9e5a"/><path d="M258.46 68.80L259.90 71.32L257.02 71.32Z" fill="#3c9e5a"/><path d="M261.22 69.13L262.65 71.64L259.78 71.64Z" fill="#3c9e5a"/><path d="M263.98 69.43L265.41 71.95L262.54 71.95Z" fill="#3c9e5a"/><path d="M266.73 69.75L268.17 72.27L265.30 72.27Z" fill="#3c9e5a"/><path d="M269.49 70.12L270.93 72.64L268.05 72.64Z" fill="#3c9e5a"/><path d="M272.25 70.57L273.69 73.09L270.81 73.09Z" fill="#3c9e5a"/><path d="M275.01 71.16L276.45 73.67L273.57 73.67Z" fill="#3c9e5a"/><path d="M277.77 71.90L279.20 74.41L276.33 74.41Z" fill="#3c9e5a"/><path d="M280.52 72.75L281.96 75.26L279.09 75.26Z" fill="#3c9e5a"/><path d="M283.28 73.67L284.72 76.19L281.85 76.19Z" fill="#3c9e5a"/><path d="M286.04 74.63L287.48 77.14L284.60 77.14Z" fill="#3c9e5a"/><path d="M288.80 75.58L290.24 78.10L287.36 78.10Z" fill="#3c9e5a"/><path d="M291.56 76.56L293.00 79.08L290.12 79.08Z" fill="#3c9e5a"/><path d="M294.32 77.61L295.75 80.13L292.88 80.13Z" fill="#3c9e5a"/><path d="M297.07 78.70L298.51 81.22L295.64 81.22Z" fill="#3c9e5a"/><path d="M299.83 79.82L301.27 82.33L298.40 82.33Z" fill="#3c9e5a"/><path d="M302.59 80.93L304.03 83.45L301.15 83.45Z" fill="#3c9e5a"/><path d="M305.35 82.03L306.79 84.54L303.91 84.54Z" fill="#3c9e5a"/><path d="M308.11 83.10L309.55 85.62L306.67 85.62Z" fill="#3c9e5a"/><path d="M310.87 84.17L312.30 86.69L309.43 86.69Z" fill="#3c9e5a"/><path d="M313.62 85.25L315.06 87.76L312.19 87.76Z" fill="#3c9e5a"/><path d="M316.38 86.32L317.82 88.84L314.95 88.84Z" fill="#3c9e5a"/><path d="M319.14 87.40L320.58 89.91L317.70 89.91Z" fill="#3c9e5a"/><path d="M321.90 88.47L323.34 90.99L320.46 90.99Z" fill="#3c9e5a"/>
<polyline points="222.60,104.94 225.36,81.39 228.12,66.45 230.88,62.56 233.63,61.55 236.39,62.69 239.15,64.42 241.91,65.59 244.67,66.64 247.43,67.43 250.18,68.03 252.94,68.51 255.70,68.71 258.46,68.67 261.22,68.56 263.98,68.43 266.73,68.18 269.49,67.87 272.25,67.71 275.01,68.10 277.77,68.97 280.52,69.86 283.28,70.64 286.04,71.45 288.80,72.29 291.56,73.18 294.32,74.11 297.07,75.06 299.83,76.03 302.59,77.02 305.35,78.02 308.11,79.04 310.87,80.08 313.62,81.14 316.38,82.20 319.14,83.27 321.90,84.32" fill="none" stroke="#b8152f" stroke-width="0.7"/><rect x="221.35" y="103.69" width="2.50" height="2.50" fill="#b8152f"/><rect x="224.11" y="80.14" width="2.50" height="2.50" fill="#b8152f"/><rect x="226.87" y="65.20" width="2.50" height="2.50" fill="#b8152f"/><rect x="229.62" y="61.31" width="2.50" height="2.50" fill="#b8152f"/><rect x="232.38" y="60.30" width="2.50" height="2.50" fill="#b8152f"/><rect x="235.14" y="61.44" width="2.50" height="2.50" fill="#b8152f"/><rect x="237.90" y="63.17" width="2.50" height="2.50" fill="#b8152f"/><rect x="240.66" y="64.34" width="2.50" height="2.50" fill="#b8152f"/><rect x="243.42" y="65.39" width="2.50" height="2.50" fill="#b8152f"/><rect x="246.18" y="66.18" width="2.50" height="2.50" fill="#b8152f"/><rect x="248.93" y="66.78" width="2.50" height="2.50" fill="#b8152f"/><rect x="251.69" y="67.26" width="2.50" height="2.50" fill="#b8152f"/><rect x="254.45" y="67.46" width="2.50" height="2.50" fill="#b8152f"/><rect x="257.21" y="67.42" width="2.50" height="2.50" fill="#b8152f"/><rect x="259.97" y="67.31" width="2.50" height="2.50" fill="#b8152f"/><rect x="262.73" y="67.18" width="2.50" height="2.50" fill="#b8152f"/><rect x="265.48" y="66.93" width="2.50" height="2.50" fill="#b8152f"/><rect x="268.24" y="66.62" width="2.50" height="2.50" fill="#b8152f"/><rect x="271.00" y="66.46" width="2.50" height="2.50" fill="#b8152f"/><rect x="273.76" y="66.85" width="2.50" height="2.50" fill="#b8152f"/><rect x="276.52" y="67.72" width="2.50" height="2.50" fill="#b8152f"/><rect x="279.27" y="68.61" width="2.50" height="2.50" fill="#b8152f"/><rect x="282.03" y="69.39" width="2.50" height="2.50" fill="#b8152f"/><rect x="284.79" y="70.20" width="2.50" height="2.50" fill="#b8152f"/><rect x="287.55" y="71.04" width="2.50" height="2.50" fill="#b8152f"/><rect x="290.31" y="71.93" width="2.50" height="2.50" fill="#b8152f"/><rect x="293.07" y="72.86" width="2.50" height="2.50" fill="#b8152f"/><rect x="295.82" y="73.81" width="2.50" height="2.50" fill="#b8152f"/><rect x="298.58" y="74.78" width="2.50" height="2.50" fill="#b8152f"/><rect x="301.34" y="75.77" width="2.50" height="2.50" fill="#b8152f"/><rect x="304.10" y="76.77" width="2.50" height="2.50" fill="#b8152f"/><rect x="306.86" y="77.79" width="2.50" height="2.50" fill="#b8152f"/><rect x="309.62" y="78.83" width="2.50" height="2.50" fill="#b8152f"/><rect x="312.38" y="79.89" width="2.50" height="2.50" fill="#b8152f"/><rect x="315.13" y="80.95" width="2.50" height="2.50" fill="#b8152f"/><rect x="317.89" y="82.02" width="2.50" height="2.50" fill="#b8152f"/><rect x="320.65" y="83.07" width="2.50" height="2.50" fill="#b8152f"/>
<polyline points="222.60,101.08 225.36,95.35 228.12,109.21 230.88,114.54 233.63,115.97 236.39,116.29 239.15,116.40 241.91,116.40 244.67,116.40 247.43,116.40 250.18,116.40 252.94,116.40 255.70,116.40 258.46,116.40 261.22,116.40 263.98,116.40 266.73,116.40 269.49,116.40 272.25,116.40 275.01,116.40 277.77,116.40 280.52,116.40 283.28,116.40 286.04,116.40 288.80,116.40 291.56,116.40 294.32,116.40 297.07,116.40 299.83,116.40 302.59,116.40 305.35,116.40 308.11,116.40 310.87,116.40 313.62,116.40 316.38,116.40 319.14,116.40 321.90,116.40" fill="none" stroke="#1c355e" stroke-width="0.7"/><circle cx="222.60" cy="101.08" r="1.25" fill="#1c355e"/><circle cx="225.36" cy="95.35" r="1.25" fill="#1c355e"/><circle cx="228.12" cy="109.21" r="1.25" fill="#1c355e"/><circle cx="230.88" cy="114.54" r="1.25" fill="#1c355e"/><circle cx="233.63" cy="115.97" r="1.25" fill="#1c355e"/><circle cx="236.39" cy="116.29" r="1.25" fill="#1c355e"/><circle cx="239.15" cy="116.40" r="1.25" fill="#1c355e"/><circle cx="241.91" cy="116.40" r="1.25" fill="#1c355e"/><circle cx="244.67" cy="116.40" r="1.25" fill="#1c355e"/><circle cx="247.43" cy="116.40" r="1.25" fill="#1c355e"/><circle cx="250.18" cy="116.40" r="1.25" fill="#1c355e"/><circle cx="252.94" cy="116.40" r="1.25" fill="#1c355e"/><circle cx="255.70" cy="116.40" r="1.25" fill="#1c355e"/><circle cx="258.46" cy="116.40" r="1.25" fill="#1c355e"/><circle cx="261.22" cy="116.40" r="1.25" fill="#1c355e"/><circle cx="263.98" cy="116.40" r="1.25" fill="#1c355e"/><circle cx="266.73" cy="116.40" r="1.25" fill="#1c355e"/><circle cx="269.49" cy="116.40" r="1.25" fill="#1c355e"/><circle cx="272.25" cy="116.40" r="1.25" fill="#1c355e"/><circle cx="275.01" cy="116.40" r="1.25" fill="#1c355e"/><circle cx="277.77" cy="116.40" r="1.25" fill="#1c355e"/><circle cx="280.52" cy="116.40" r="1.25" fill="#1c355e"/><circle cx="283.28" cy="116.40" r="1.25" fill="#1c355e"/><circle cx="286.04" cy="116.40" r="1.25" fill="#1c355e"/><circle cx="288.80" cy="116.40" r="1.25" fill="#1c355e"/><circle cx="291.56" cy="116.40" r="1.25" fill="#1c355e"/><circle cx="294.32" cy="116.40" r="1.25" fill="#1c355e"/><circle cx="297.07" cy="116.40" r="1.25" fill="#1c355e"/><circle cx="299.83" cy="116.40" r="1.25" fill="#1c355e"/><circle cx="302.59" cy="116.40" r="1.25" fill="#1c355e"/><circle cx="305.35" cy="116.40" r="1.25" fill="#1c355e"/><circle cx="308.11" cy="116.40" r="1.25" fill="#1c355e"/><circle cx="310.87" cy="116.40" r="1.25" fill="#1c355e"/><circle cx="313.62" cy="116.40" r="1.25" fill="#1c355e"/><circle cx="316.38" cy="116.40" r="1.25" fill="#1c355e"/><circle cx="319.14" cy="116.40" r="1.25" fill="#1c355e"/><circle cx="321.90" cy="116.40" r="1.25" fill="#1c355e"/>
<path d="M222.60 43.30V116.40H330.60" stroke="#000" stroke-width="0.9" fill="none"/>
<text x="217.80" y="118.65" font-size="6.3" text-anchor="end" font-weight="normal" fill="#231f20" letter-spacing="0.2">0</text>
<text x="217.80" y="104.33" font-size="6.3" text-anchor="end" font-weight="normal" fill="#231f20" letter-spacing="0.2">10000</text>
<text x="217.80" y="90.01" font-size="6.3" text-anchor="end" font-weight="normal" fill="#231f20" letter-spacing="0.2">20000</text>
<text x="217.80" y="75.69" font-size="6.3" text-anchor="end" font-weight="normal" fill="#231f20" letter-spacing="0.2">30000</text>
<text x="217.80" y="61.37" font-size="6.3" text-anchor="end" font-weight="normal" fill="#231f20" letter-spacing="0.2">40000</text>
<text x="217.80" y="47.05" font-size="6.3" text-anchor="end" font-weight="normal" fill="#231f20" letter-spacing="0.2">50000</text>
<text x="222.65" y="128.30" font-size="6.3" text-anchor="middle" font-weight="normal" fill="#231f20" letter-spacing="0.1">0:00:00</text>
<text x="255.75" y="128.30" font-size="6.3" text-anchor="middle" font-weight="normal" fill="#231f20" letter-spacing="0.1">1:00:00</text>
<text x="288.85" y="128.30" font-size="6.3" text-anchor="middle" font-weight="normal" fill="#231f20" letter-spacing="0.1">2:00:00</text>
<text x="321.95" y="128.30" font-size="6.3" text-anchor="middle" font-weight="normal" fill="#231f20" letter-spacing="0.1">3:00:00</text>
<path d="M219.60 116.40H222.60M219.60 102.08H222.60M219.60 87.76H222.60M219.60 73.44H222.60M219.60 59.12H222.60M219.60 44.80H222.60M222.60 116.40V119.40M255.70 116.40V119.40M288.80 116.40V119.40M321.90 116.40V119.40" stroke="#000" stroke-width="0.9" fill="none"/>
<text x="0" y="0" font-size="8.4" text-anchor="middle" fill="#231f20" textLength="11.6" lengthAdjust="spacingAndGlyphs" style="stroke-width:0.18px" transform="translate(194.30 78.40) rotate(-90)">RLU</text>
<text x="276.70" y="139.60" font-size="8.4" text-anchor="middle" fill="#231f20" textLength="24.2" lengthAdjust="spacingAndGlyphs" style="stroke-width:0.18px">Time (h)</text>
<path d="M222.50 151.25H232.70" stroke="#1c355e" stroke-width="0.9"/>
<circle cx="227.60" cy="151.25" r="1.70" fill="#1c355e"/>
<text x="236.00" y="153.55" font-size="6.45" text-anchor="start" font-weight="normal" fill="#231f20" >CM03 MgEGTA on DKO</text>
<path d="M222.50 161.15H232.70" stroke="#b8152f" stroke-width="0.9"/>
<rect x="225.90" y="159.45" width="3.40" height="3.40" fill="#b8152f"/>
<text x="236.00" y="163.45" font-size="6.45" text-anchor="start" font-weight="normal" fill="#231f20" >HI CM03</text>
<path d="M222.50 171.05H232.70" stroke="#3c9e5a" stroke-width="0.9"/>
<path d="M227.60 169.09L229.56 172.52L225.64 172.52Z" fill="#3c9e5a"/>
<text x="236.00" y="173.35" font-size="6.45" text-anchor="start" font-weight="normal" fill="#231f20" >CM03 + 1 μM FDi</text>
<text x="354.00" y="16.30" font-size="11" text-anchor="start" font-weight="bold" fill="#000" >C</text>
<text x="449.75" y="26.60" font-size="8.55" text-anchor="middle" font-weight="normal" fill="#231f20" style="stroke-width:0.22px">CM03 (FHAA) in MgEGTA</text>
<text x="450.00" y="37.30" font-size="8.55" text-anchor="middle" font-weight="normal" fill="#231f20" style="stroke-width:0.22px">on <tspan font-style="italic">CD46</tspan>KO</text>
<path d="M395.80 104.04V115.44M394.80 104.04h2M394.80 115.44h2M398.55 84.14V95.55M397.55 84.14h2M397.55 95.55h2M401.30 67.14V78.55M400.30 67.14h2M400.30 78.55h2M404.05 60.69V72.09M403.05 60.69h2M403.05 72.09h2M406.80 59.55V70.95M405.80 59.55h2M405.80 70.95h2M409.55 61.67V73.08M408.55 61.67h2M408.55 73.08h2M412.30 64.96V76.37M411.30 64.96h2M411.30 76.37h2M415.05 67.48V78.89M414.05 67.48h2M414.05 78.89h2M417.80 69.64V81.04M416.80 69.64h2M416.80 81.04h2M420.55 71.38V82.79M419.55 71.38h2M419.55 82.79h2M423.30 72.76V84.17M422.30 72.76h2M422.30 84.17h2M426.05 73.92V85.33M425.05 73.92h2M425.05 85.33h2M428.80 74.95V86.35M427.80 74.95h2M427.80 86.35h2M431.55 75.90V87.31M430.55 75.90h2M430.55 87.31h2M434.30 76.78V88.19M433.30 76.78h2M433.30 88.19h2M437.05 77.60V89.00M436.05 77.60h2M436.05 89.00h2M439.80 78.36V89.77M438.80 78.36h2M438.80 89.77h2M442.55 79.10V90.50M441.55 79.10h2M441.55 90.50h2M445.30 79.80V91.21M444.30 79.80h2M444.30 91.21h2M448.05 80.48V91.89M447.05 80.48h2M447.05 91.89h2M450.80 81.14V92.55M449.80 81.14h2M449.80 92.55h2M453.55 81.77V93.18M452.55 81.77h2M452.55 93.18h2M456.30 82.38V93.78M455.30 82.38h2M455.30 93.78h2M459.05 82.95V94.36M458.05 82.95h2M458.05 94.36h2M461.80 83.50V94.91M460.80 83.50h2M460.80 94.91h2M464.55 84.02V95.43M463.55 84.02h2M463.55 95.43h2M467.30 84.52V95.93M466.30 84.52h2M466.30 95.93h2M470.05 85.00V96.41M469.05 85.00h2M469.05 96.41h2M472.80 85.46V96.87M471.80 85.46h2M471.80 96.87h2M475.55 85.90V97.31M474.55 85.90h2M474.55 97.31h2M478.30 86.34V97.75M477.30 86.34h2M477.30 97.75h2M481.05 86.77V98.17M480.05 86.77h2M480.05 98.17h2M483.80 87.19V98.60M482.80 87.19h2M482.80 98.60h2M486.55 87.61V99.02M485.55 87.61h2M485.55 99.02h2M489.30 88.04V99.45M488.30 88.04h2M488.30 99.45h2M492.05 88.48V99.88M491.05 88.48h2M491.05 99.88h2M494.80 88.92V100.33M493.80 88.92h2M493.80 100.33h2" stroke="#e060a8" stroke-width="0.6" fill="none"/>
<path d="M395.80 106.18V113.31M394.80 106.18h2M394.80 113.31h2M398.55 85.57V92.70M397.55 85.57h2M397.55 92.70h2M401.30 68.57V75.70M400.30 68.57h2M400.30 75.70h2M404.05 61.97V69.10M403.05 61.97h2M403.05 69.10h2M406.80 60.69V67.82M405.80 60.69h2M405.80 67.82h2M409.55 62.81V69.94M408.55 62.81h2M408.55 69.94h2M412.30 66.25V73.38M411.30 66.25h2M411.30 73.38h2M415.05 68.49V75.62M414.05 68.49h2M414.05 75.62h2M417.80 70.26V77.39M416.80 70.26h2M416.80 77.39h2M420.55 71.67V78.80M419.55 71.67h2M419.55 78.80h2M423.30 72.81V79.94M422.30 72.81h2M422.30 79.94h2M426.05 73.76V80.89M425.05 73.76h2M425.05 80.89h2M428.80 74.52V81.65M427.80 74.52h2M427.80 81.65h2M431.55 75.13V82.26M430.55 75.13h2M430.55 82.26h2M434.30 75.65V82.78M433.30 75.65h2M433.30 82.78h2M437.05 76.11V83.24M436.05 76.11h2M436.05 83.24h2M439.80 76.56V83.69M438.80 76.56h2M438.80 83.69h2M442.55 77.02V84.15M441.55 77.02h2M441.55 84.15h2M445.30 77.45V84.58M444.30 77.45h2M444.30 84.58h2M448.05 77.86V84.99M447.05 77.86h2M447.05 84.99h2M450.80 78.26V85.39M449.80 78.26h2M449.80 85.39h2M453.55 78.66V85.79M452.55 78.66h2M452.55 85.79h2M456.30 79.07V86.20M455.30 79.07h2M455.30 86.20h2M459.05 79.49V86.62M458.05 79.49h2M458.05 86.62h2M461.80 79.94V87.07M460.80 79.94h2M460.80 87.07h2M464.55 80.40V87.53M463.55 80.40h2M463.55 87.53h2M467.30 80.89V88.02M466.30 80.89h2M466.30 88.02h2M470.05 81.38V88.51M469.05 81.38h2M469.05 88.51h2M472.80 81.89V89.02M471.80 81.89h2M471.80 89.02h2M475.55 82.40V89.53M474.55 82.40h2M474.55 89.53h2M478.30 82.92V90.05M477.30 82.92h2M477.30 90.05h2M481.05 83.45V90.58M480.05 83.45h2M480.05 90.58h2M483.80 83.98V91.11M482.80 83.98h2M482.80 91.11h2M486.55 84.51V91.64M485.55 84.51h2M485.55 91.64h2M489.30 85.03V92.16M488.30 85.03h2M488.30 92.16h2M492.05 85.55V92.68M491.05 85.55h2M491.05 92.68h2M494.80 86.07V93.20M493.80 86.07h2M493.80 93.20h2" stroke="#3a5a8a" stroke-width="0.6" fill="none"/>
<path d="M395.80 106.18V113.31M394.80 106.18h2M394.80 113.31h2M398.55 85.56V92.69M397.55 85.56h2M397.55 92.69h2M401.30 67.87V75.00M400.30 67.87h2M400.30 75.00h2M404.05 58.26V65.39M403.05 58.26h2M403.05 65.39h2M406.80 57.12V64.25M405.80 57.12h2M405.80 64.25h2M409.55 58.25V65.38M408.55 58.25h2M408.55 65.38h2M412.30 61.97V69.10M411.30 61.97h2M411.30 69.10h2M415.05 64.49V71.62M414.05 64.49h2M414.05 71.62h2M417.80 66.53V73.66M416.80 66.53h2M416.80 73.66h2M420.55 68.10V75.23M419.55 68.10h2M419.55 75.23h2M423.30 69.30V76.43M422.30 69.30h2M422.30 76.43h2M426.05 70.28V77.41M425.05 70.28h2M425.05 77.41h2M428.80 71.10V78.23M427.80 71.10h2M427.80 78.23h2M431.55 71.83V78.96M430.55 71.83h2M430.55 78.96h2M434.30 72.50V79.63M433.30 72.50h2M433.30 79.63h2M437.05 73.09V80.22M436.05 73.09h2M436.05 80.22h2M439.80 73.58V80.71M438.80 73.58h2M438.80 80.71h2M442.55 73.97V81.10M441.55 73.97h2M441.55 81.10h2M445.30 74.29V81.42M444.30 74.29h2M444.30 81.42h2M448.05 74.57V81.70M447.05 74.57h2M447.05 81.70h2M450.80 74.82V81.95M449.80 74.82h2M449.80 81.95h2M453.55 75.06V82.19M452.55 75.06h2M452.55 82.19h2M456.30 75.32V82.45M455.30 75.32h2M455.30 82.45h2M459.05 75.61V82.74M458.05 75.61h2M458.05 82.74h2M461.80 75.94V83.07M460.80 75.94h2M460.80 83.07h2M464.55 76.34V83.47M463.55 76.34h2M463.55 83.47h2M467.30 76.79V83.92M466.30 76.79h2M466.30 83.92h2M470.05 77.27V84.40M469.05 77.27h2M469.05 84.40h2M472.80 77.79V84.92M471.80 77.79h2M471.80 84.92h2M475.55 78.34V85.47M474.55 78.34h2M474.55 85.47h2M478.30 78.91V86.04M477.30 78.91h2M477.30 86.04h2M481.05 79.49V86.62M480.05 79.49h2M480.05 86.62h2M483.80 80.08V87.21M482.80 80.08h2M482.80 87.21h2M486.55 80.66V87.79M485.55 80.66h2M485.55 87.79h2M489.30 81.25V88.38M488.30 81.25h2M488.30 88.38h2M492.05 81.81V88.94M491.05 81.81h2M491.05 88.94h2M494.80 82.36V89.49M493.80 82.36h2M493.80 89.49h2" stroke="#c8384c" stroke-width="0.6" fill="none"/>
<path d="M395.80 106.18V113.31M394.80 106.18h2M394.80 113.31h2M398.55 85.56V92.69M397.55 85.56h2M397.55 92.69h2M401.30 67.88V75.01M400.30 67.88h2M400.30 75.01h2M404.05 54.70V61.83M403.05 54.70h2M403.05 61.83h2M406.80 53.56V60.69M405.80 53.56h2M405.80 60.69h2M409.55 54.69V61.82M408.55 54.69h2M408.55 61.82h2M412.30 57.12V64.25M411.30 57.12h2M411.30 64.25h2M415.05 59.21V66.34M414.05 59.21h2M414.05 66.34h2M417.80 61.11V68.24M416.80 61.11h2M416.80 68.24h2M420.55 62.82V69.95M419.55 62.82h2M419.55 69.95h2M423.30 64.45V71.58M422.30 64.45h2M422.30 71.58h2M426.05 65.94V73.07M425.05 65.94h2M425.05 73.07h2M428.80 67.10V74.23M427.80 67.10h2M427.80 74.23h2M431.55 67.97V75.10M430.55 67.97h2M430.55 75.10h2M434.30 68.70V75.83M433.30 68.70h2M433.30 75.83h2M437.05 69.32V76.45M436.05 69.32h2M436.05 76.45h2M439.80 69.86V76.99M438.80 69.86h2M438.80 76.99h2M442.55 70.32V77.45M441.55 70.32h2M441.55 77.45h2M445.30 70.73V77.86M444.30 70.73h2M444.30 77.86h2M448.05 71.09V78.22M447.05 71.09h2M447.05 78.22h2M450.80 71.43V78.56M449.80 71.43h2M449.80 78.56h2M453.55 71.75V78.88M452.55 71.75h2M452.55 78.88h2M456.30 72.07V79.20M455.30 72.07h2M455.30 79.20h2M459.05 72.42V79.55M458.05 72.42h2M458.05 79.55h2M461.80 72.81V79.94M460.80 72.81h2M460.80 79.94h2M464.55 73.23V80.36M463.55 73.23h2M463.55 80.36h2M467.30 73.67V80.80M466.30 73.67h2M466.30 80.80h2M470.05 74.12V81.25M469.05 74.12h2M469.05 81.25h2M472.80 74.59V81.72M471.80 74.59h2M471.80 81.72h2M475.55 75.07V82.20M474.55 75.07h2M474.55 82.20h2M478.30 75.56V82.69M477.30 75.56h2M477.30 82.69h2M481.05 76.05V83.18M480.05 76.05h2M480.05 83.18h2M483.80 76.55V83.68M482.80 76.55h2M482.80 83.68h2M486.55 77.05V84.18M485.55 77.05h2M485.55 84.18h2M489.30 77.54V84.67M488.30 77.54h2M488.30 84.67h2M492.05 78.03V85.16M491.05 78.03h2M491.05 85.16h2M494.80 78.51V85.64M493.80 78.51h2M493.80 85.64h2" stroke="#6cc482" stroke-width="0.6" fill="none"/>
<polyline points="395.80,109.74 398.55,89.85 401.30,72.84 404.05,66.39 406.80,65.25 409.55,67.38 412.30,70.67 415.05,73.19 417.80,75.34 420.55,77.09 423.30,78.47 426.05,79.62 428.80,80.65 431.55,81.61 434.30,82.48 437.05,83.30 439.80,84.07 442.55,84.80 445.30,85.51 448.05,86.19 450.80,86.85 453.55,87.48 456.30,88.08 459.05,88.66 461.80,89.21 464.55,89.73 467.30,90.23 470.05,90.70 472.80,91.16 475.55,91.61 478.30,92.04 481.05,92.47 483.80,92.89 486.55,93.32 489.30,93.75 492.05,94.18 494.80,94.62" fill="none" stroke="#cc1f7e" stroke-width="0.7"/><path d="M395.80 111.18L397.24 108.66L394.36 108.66Z" fill="#cc1f7e"/><path d="M398.55 91.28L399.99 88.77L397.11 88.77Z" fill="#cc1f7e"/><path d="M401.30 74.28L402.74 71.77L399.86 71.77Z" fill="#cc1f7e"/><path d="M404.05 67.83L405.49 65.31L402.61 65.31Z" fill="#cc1f7e"/><path d="M406.80 66.69L408.24 64.17L405.36 64.17Z" fill="#cc1f7e"/><path d="M409.55 68.82L410.99 66.30L408.11 66.30Z" fill="#cc1f7e"/><path d="M412.30 72.11L413.74 69.59L410.86 69.59Z" fill="#cc1f7e"/><path d="M415.05 74.62L416.49 72.11L413.61 72.11Z" fill="#cc1f7e"/><path d="M417.80 76.78L419.24 74.26L416.36 74.26Z" fill="#cc1f7e"/><path d="M420.55 78.52L421.99 76.01L419.11 76.01Z" fill="#cc1f7e"/><path d="M423.30 79.90L424.74 77.39L421.86 77.39Z" fill="#cc1f7e"/><path d="M426.05 81.06L427.49 78.54L424.61 78.54Z" fill="#cc1f7e"/><path d="M428.80 82.09L430.24 79.57L427.36 79.57Z" fill="#cc1f7e"/><path d="M431.55 83.04L432.99 80.53L430.11 80.53Z" fill="#cc1f7e"/><path d="M434.30 83.92L435.74 81.41L432.86 81.41Z" fill="#cc1f7e"/><path d="M437.05 84.74L438.49 82.22L435.61 82.22Z" fill="#cc1f7e"/><path d="M439.80 85.50L441.24 82.99L438.36 82.99Z" fill="#cc1f7e"/><path d="M442.55 86.24L443.99 83.72L441.11 83.72Z" fill="#cc1f7e"/><path d="M445.30 86.94L446.74 84.43L443.86 84.43Z" fill="#cc1f7e"/><path d="M448.05 87.63L449.49 85.11L446.61 85.11Z" fill="#cc1f7e"/><path d="M450.80 88.28L452.24 85.77L449.36 85.77Z" fill="#cc1f7e"/><path d="M453.55 88.91L454.99 86.40L452.11 86.40Z" fill="#cc1f7e"/><path d="M456.30 89.52L457.74 87.00L454.86 87.00Z" fill="#cc1f7e"/><path d="M459.05 90.09L460.49 87.58L457.61 87.58Z" fill="#cc1f7e"/><path d="M461.80 90.64L463.24 88.13L460.36 88.13Z" fill="#cc1f7e"/><path d="M464.55 91.17L465.99 88.65L463.11 88.65Z" fill="#cc1f7e"/><path d="M467.30 91.66L468.74 89.15L465.86 89.15Z" fill="#cc1f7e"/><path d="M470.05 92.14L471.49 89.63L468.61 89.63Z" fill="#cc1f7e"/><path d="M472.80 92.60L474.24 90.08L471.36 90.08Z" fill="#cc1f7e"/><path d="M475.55 93.05L476.99 90.53L474.11 90.53Z" fill="#cc1f7e"/><path d="M478.30 93.48L479.74 90.96L476.86 90.96Z" fill="#cc1f7e"/><path d="M481.05 93.91L482.49 91.39L479.61 91.39Z" fill="#cc1f7e"/><path d="M483.80 94.33L485.24 91.82L482.36 91.82Z" fill="#cc1f7e"/><path d="M486.55 94.76L487.99 92.24L485.11 92.24Z" fill="#cc1f7e"/><path d="M489.30 95.18L490.74 92.67L487.86 92.67Z" fill="#cc1f7e"/><path d="M492.05 95.62L493.49 93.10L490.61 93.10Z" fill="#cc1f7e"/><path d="M494.80 96.06L496.24 93.55L493.36 93.55Z" fill="#cc1f7e"/>
<polyline points="395.80,109.74 398.55,89.13 401.30,72.13 404.05,65.53 406.80,64.25 409.55,66.38 412.30,69.81 415.05,72.05 417.80,73.83 420.55,75.23 423.30,76.37 426.05,77.32 428.80,78.08 431.55,78.70 434.30,79.21 437.05,79.68 439.80,80.13 442.55,80.58 445.30,81.01 448.05,81.43 450.80,81.83 453.55,82.23 456.30,82.64 459.05,83.06 461.80,83.50 464.55,83.97 467.30,84.45 470.05,84.95 472.80,85.45 475.55,85.97 478.30,86.49 481.05,87.01 483.80,87.54 486.55,88.07 489.30,88.60 492.05,89.12 494.80,89.63" fill="none" stroke="#1c355e" stroke-width="0.7"/><circle cx="395.80" cy="109.74" r="1.25" fill="#1c355e"/><circle cx="398.55" cy="89.13" r="1.25" fill="#1c355e"/><circle cx="401.30" cy="72.13" r="1.25" fill="#1c355e"/><circle cx="404.05" cy="65.53" r="1.25" fill="#1c355e"/><circle cx="406.80" cy="64.25" r="1.25" fill="#1c355e"/><circle cx="409.55" cy="66.38" r="1.25" fill="#1c355e"/><circle cx="412.30" cy="69.81" r="1.25" fill="#1c355e"/><circle cx="415.05" cy="72.05" r="1.25" fill="#1c355e"/><circle cx="417.80" cy="73.83" r="1.25" fill="#1c355e"/><circle cx="420.55" cy="75.23" r="1.25" fill="#1c355e"/><circle cx="423.30" cy="76.37" r="1.25" fill="#1c355e"/><circle cx="426.05" cy="77.32" r="1.25" fill="#1c355e"/><circle cx="428.80" cy="78.08" r="1.25" fill="#1c355e"/><circle cx="431.55" cy="78.70" r="1.25" fill="#1c355e"/><circle cx="434.30" cy="79.21" r="1.25" fill="#1c355e"/><circle cx="437.05" cy="79.68" r="1.25" fill="#1c355e"/><circle cx="439.80" cy="80.13" r="1.25" fill="#1c355e"/><circle cx="442.55" cy="80.58" r="1.25" fill="#1c355e"/><circle cx="445.30" cy="81.01" r="1.25" fill="#1c355e"/><circle cx="448.05" cy="81.43" r="1.25" fill="#1c355e"/><circle cx="450.80" cy="81.83" r="1.25" fill="#1c355e"/><circle cx="453.55" cy="82.23" r="1.25" fill="#1c355e"/><circle cx="456.30" cy="82.64" r="1.25" fill="#1c355e"/><circle cx="459.05" cy="83.06" r="1.25" fill="#1c355e"/><circle cx="461.80" cy="83.50" r="1.25" fill="#1c355e"/><circle cx="464.55" cy="83.97" r="1.25" fill="#1c355e"/><circle cx="467.30" cy="84.45" r="1.25" fill="#1c355e"/><circle cx="470.05" cy="84.95" r="1.25" fill="#1c355e"/><circle cx="472.80" cy="85.45" r="1.25" fill="#1c355e"/><circle cx="475.55" cy="85.97" r="1.25" fill="#1c355e"/><circle cx="478.30" cy="86.49" r="1.25" fill="#1c355e"/><circle cx="481.05" cy="87.01" r="1.25" fill="#1c355e"/><circle cx="483.80" cy="87.54" r="1.25" fill="#1c355e"/><circle cx="486.55" cy="88.07" r="1.25" fill="#1c355e"/><circle cx="489.30" cy="88.60" r="1.25" fill="#1c355e"/><circle cx="492.05" cy="89.12" r="1.25" fill="#1c355e"/><circle cx="494.80" cy="89.63" r="1.25" fill="#1c355e"/>
<polyline points="395.80,109.74 398.55,89.13 401.30,71.43 404.05,61.83 406.80,60.69 409.55,61.82 412.30,65.53 415.05,68.06 417.80,70.10 420.55,71.67 423.30,72.87 426.05,73.84 428.80,74.66 431.55,75.40 434.30,76.07 437.05,76.66 439.80,77.14 442.55,77.53 445.30,77.85 448.05,78.13 450.80,78.38 453.55,78.63 456.30,78.88 459.05,79.17 461.80,79.51 464.55,79.91 467.30,80.35 470.05,80.84 472.80,81.36 475.55,81.90 478.30,82.47 481.05,83.05 483.80,83.64 486.55,84.23 489.30,84.81 492.05,85.38 494.80,85.93" fill="none" stroke="#b8152f" stroke-width="0.7"/><rect x="394.55" y="108.49" width="2.50" height="2.50" fill="#b8152f"/><rect x="397.30" y="87.88" width="2.50" height="2.50" fill="#b8152f"/><rect x="400.05" y="70.18" width="2.50" height="2.50" fill="#b8152f"/><rect x="402.80" y="60.58" width="2.50" height="2.50" fill="#b8152f"/><rect x="405.55" y="59.44" width="2.50" height="2.50" fill="#b8152f"/><rect x="408.30" y="60.57" width="2.50" height="2.50" fill="#b8152f"/><rect x="411.05" y="64.28" width="2.50" height="2.50" fill="#b8152f"/><rect x="413.80" y="66.81" width="2.50" height="2.50" fill="#b8152f"/><rect x="416.55" y="68.85" width="2.50" height="2.50" fill="#b8152f"/><rect x="419.30" y="70.42" width="2.50" height="2.50" fill="#b8152f"/><rect x="422.05" y="71.62" width="2.50" height="2.50" fill="#b8152f"/><rect x="424.80" y="72.59" width="2.50" height="2.50" fill="#b8152f"/><rect x="427.55" y="73.41" width="2.50" height="2.50" fill="#b8152f"/><rect x="430.30" y="74.15" width="2.50" height="2.50" fill="#b8152f"/><rect x="433.05" y="74.82" width="2.50" height="2.50" fill="#b8152f"/><rect x="435.80" y="75.41" width="2.50" height="2.50" fill="#b8152f"/><rect x="438.55" y="75.89" width="2.50" height="2.50" fill="#b8152f"/><rect x="441.30" y="76.28" width="2.50" height="2.50" fill="#b8152f"/><rect x="444.05" y="76.60" width="2.50" height="2.50" fill="#b8152f"/><rect x="446.80" y="76.88" width="2.50" height="2.50" fill="#b8152f"/><rect x="449.55" y="77.13" width="2.50" height="2.50" fill="#b8152f"/><rect x="452.30" y="77.38" width="2.50" height="2.50" fill="#b8152f"/><rect x="455.05" y="77.63" width="2.50" height="2.50" fill="#b8152f"/><rect x="457.80" y="77.92" width="2.50" height="2.50" fill="#b8152f"/><rect x="460.55" y="78.26" width="2.50" height="2.50" fill="#b8152f"/><rect x="463.30" y="78.66" width="2.50" height="2.50" fill="#b8152f"/><rect x="466.05" y="79.10" width="2.50" height="2.50" fill="#b8152f"/><rect x="468.80" y="79.59" width="2.50" height="2.50" fill="#b8152f"/><rect x="471.55" y="80.11" width="2.50" height="2.50" fill="#b8152f"/><rect x="474.30" y="80.65" width="2.50" height="2.50" fill="#b8152f"/><rect x="477.05" y="81.22" width="2.50" height="2.50" fill="#b8152f"/><rect x="479.80" y="81.80" width="2.50" height="2.50" fill="#b8152f"/><rect x="482.55" y="82.39" width="2.50" height="2.50" fill="#b8152f"/><rect x="485.30" y="82.98" width="2.50" height="2.50" fill="#b8152f"/><rect x="488.05" y="83.56" width="2.50" height="2.50" fill="#b8152f"/><rect x="490.80" y="84.13" width="2.50" height="2.50" fill="#b8152f"/><rect x="493.55" y="84.68" width="2.50" height="2.50" fill="#b8152f"/>
<polyline points="395.80,109.74 398.55,89.13 401.30,71.44 404.05,58.26 406.80,57.12 409.55,58.26 412.30,60.69 415.05,62.77 417.80,64.67 420.55,66.39 423.30,68.01 426.05,69.50 428.80,70.67 431.55,71.53 434.30,72.26 437.05,72.88 439.80,73.42 442.55,73.89 445.30,74.30 448.05,74.66 450.80,74.99 453.55,75.31 456.30,75.64 459.05,75.99 461.80,76.37 464.55,76.79 467.30,77.23 470.05,77.69 472.80,78.16 475.55,78.64 478.30,79.13 481.05,79.62 483.80,80.12 486.55,80.61 489.30,81.11 492.05,81.60 494.80,82.08" fill="none" stroke="#3c9e5a" stroke-width="0.7"/><path d="M395.80 108.30L397.24 110.82L394.36 110.82Z" fill="#3c9e5a"/><path d="M398.55 87.69L399.99 90.21L397.11 90.21Z" fill="#3c9e5a"/><path d="M401.30 70.00L402.74 72.52L399.86 72.52Z" fill="#3c9e5a"/><path d="M404.05 56.82L405.49 59.34L402.61 59.34Z" fill="#3c9e5a"/><path d="M406.80 55.68L408.24 58.20L405.36 58.20Z" fill="#3c9e5a"/><path d="M409.55 56.82L410.99 59.33L408.11 59.33Z" fill="#3c9e5a"/><path d="M412.30 59.25L413.74 61.76L410.86 61.76Z" fill="#3c9e5a"/><path d="M415.05 61.33L416.49 63.85L413.61 63.85Z" fill="#3c9e5a"/><path d="M417.80 63.23L419.24 65.75L416.36 65.75Z" fill="#3c9e5a"/><path d="M420.55 64.95L421.99 67.47L419.11 67.47Z" fill="#3c9e5a"/><path d="M423.30 66.58L424.74 69.09L421.86 69.09Z" fill="#3c9e5a"/><path d="M426.05 68.07L427.49 70.58L424.61 70.58Z" fill="#3c9e5a"/><path d="M428.80 69.23L430.24 71.75L427.36 71.75Z" fill="#3c9e5a"/><path d="M431.55 70.09L432.99 72.61L430.11 72.61Z" fill="#3c9e5a"/><path d="M434.30 70.83L435.74 73.34L432.86 73.34Z" fill="#3c9e5a"/><path d="M437.05 71.45L438.49 73.96L435.61 73.96Z" fill="#3c9e5a"/><path d="M439.80 71.98L441.24 74.50L438.36 74.50Z" fill="#3c9e5a"/><path d="M442.55 72.45L443.99 74.97L441.11 74.97Z" fill="#3c9e5a"/><path d="M445.30 72.86L446.74 75.37L443.86 75.37Z" fill="#3c9e5a"/><path d="M448.05 73.22L449.49 75.74L446.61 75.74Z" fill="#3c9e5a"/><path d="M450.80 73.55L452.24 76.07L449.36 76.07Z" fill="#3c9e5a"/><path d="M453.55 73.88L454.99 76.39L452.11 76.39Z" fill="#3c9e5a"/><path d="M456.30 74.20L457.74 76.72L454.86 76.72Z" fill="#3c9e5a"/><path d="M459.05 74.55L460.49 77.07L457.61 77.07Z" fill="#3c9e5a"/><path d="M461.80 74.93L463.24 77.45L460.36 77.45Z" fill="#3c9e5a"/><path d="M464.55 75.35L465.99 77.87L463.11 77.87Z" fill="#3c9e5a"/><path d="M467.30 75.79L468.74 78.31L465.86 78.31Z" fill="#3c9e5a"/><path d="M470.05 76.25L471.49 78.77L468.61 78.77Z" fill="#3c9e5a"/><path d="M472.80 76.72L474.24 79.23L471.36 79.23Z" fill="#3c9e5a"/><path d="M475.55 77.20L476.99 79.71L474.11 79.71Z" fill="#3c9e5a"/><path d="M478.30 77.69L479.74 80.20L476.86 80.20Z" fill="#3c9e5a"/><path d="M481.05 78.18L482.49 80.70L479.61 80.70Z" fill="#3c9e5a"/><path d="M483.80 78.68L485.24 81.19L482.36 81.19Z" fill="#3c9e5a"/><path d="M486.55 79.18L487.99 81.69L485.11 81.69Z" fill="#3c9e5a"/><path d="M489.30 79.67L490.74 82.19L487.86 82.19Z" fill="#3c9e5a"/><path d="M492.05 80.16L493.49 82.67L490.61 82.67Z" fill="#3c9e5a"/><path d="M494.80 80.64L496.24 83.15L493.36 83.15Z" fill="#3c9e5a"/>
<path d="M395.80 43.50V116.30H502.70" stroke="#000" stroke-width="0.9" fill="none"/>
<text x="391.00" y="118.55" font-size="6.3" text-anchor="end" font-weight="normal" fill="#231f20" letter-spacing="0.2">0</text>
<text x="391.00" y="104.29" font-size="6.3" text-anchor="end" font-weight="normal" fill="#231f20" letter-spacing="0.2">10000</text>
<text x="391.00" y="90.03" font-size="6.3" text-anchor="end" font-weight="normal" fill="#231f20" letter-spacing="0.2">20000</text>
<text x="391.00" y="75.77" font-size="6.3" text-anchor="end" font-weight="normal" fill="#231f20" letter-spacing="0.2">30000</text>
<text x="391.00" y="61.51" font-size="6.3" text-anchor="end" font-weight="normal" fill="#231f20" letter-spacing="0.2">40000</text>
<text x="391.00" y="47.25" font-size="6.3" text-anchor="end" font-weight="normal" fill="#231f20" letter-spacing="0.2">50000</text>
<text x="395.85" y="128.20" font-size="6.3" text-anchor="middle" font-weight="normal" fill="#231f20" letter-spacing="0.1">0:00:00</text>
<text x="428.85" y="128.20" font-size="6.3" text-anchor="middle" font-weight="normal" fill="#231f20" letter-spacing="0.1">1:00:00</text>
<text x="461.85" y="128.20" font-size="6.3" text-anchor="middle" font-weight="normal" fill="#231f20" letter-spacing="0.1">2:00:00</text>
<text x="494.85" y="128.20" font-size="6.3" text-anchor="middle" font-weight="normal" fill="#231f20" letter-spacing="0.1">3:00:00</text>
<path d="M392.80 116.30H395.80M392.80 102.04H395.80M392.80 87.78H395.80M392.80 73.52H395.80M392.80 59.26H395.80M392.80 45.00H395.80M395.80 116.30V119.30M428.80 116.30V119.30M461.80 116.30V119.30M494.80 116.30V119.30" stroke="#000" stroke-width="0.9" fill="none"/>
<text x="0" y="0" font-size="8.4" text-anchor="middle" fill="#231f20" textLength="11.6" lengthAdjust="spacingAndGlyphs" style="stroke-width:0.18px" transform="translate(365.80 79.00) rotate(-90)">RLU</text>
<text x="449.70" y="139.60" font-size="8.4" text-anchor="middle" fill="#231f20" textLength="24.2" lengthAdjust="spacingAndGlyphs" style="stroke-width:0.18px">Time (h)</text>
<path d="M395.80 150.80H405.80" stroke="#1c355e" stroke-width="0.9"/>
<circle cx="400.80" cy="150.80" r="1.70" fill="#1c355e"/>
<text x="408.80" y="153.10" font-size="6.45" text-anchor="start" font-weight="normal" fill="#231f20" >CM03 FHAA in MgEGTA</text>
<text x="408.80" y="160.50" font-size="6.45" text-anchor="start" font-weight="normal" fill="#231f20" >on <tspan font-style="italic">CD46</tspan>KO</text>
<path d="M395.80 168.80H405.80" stroke="#b8152f" stroke-width="0.9"/>
<rect x="399.10" y="167.10" width="3.40" height="3.40" fill="#b8152f"/>
<text x="408.80" y="171.10" font-size="6.45" text-anchor="start" font-weight="normal" fill="#231f20" >HI CM03</text>
<path d="M395.80 178.60H405.80" stroke="#3c9e5a" stroke-width="0.9"/>
<path d="M400.80 176.64L402.75 180.07L398.85 180.07Z" fill="#3c9e5a"/>
<text x="408.80" y="180.90" font-size="6.45" text-anchor="start" font-weight="normal" fill="#231f20" >CM03 + 1 μM FDi</text>
<path d="M395.80 188.40H405.80" stroke="#cc1f7e" stroke-width="0.9"/>
<path d="M400.80 190.36L402.75 186.93L398.85 186.93Z" fill="#cc1f7e"/>
<text x="408.80" y="190.70" font-size="6.45" text-anchor="start" font-weight="normal" fill="#231f20" >CM03 + 60 μg/mL sut</text>
<text x="7.00" y="236.90" font-size="11" text-anchor="start" font-weight="bold" fill="#000" >D</text>
<text x="103.60" y="248.10" font-size="8.55" text-anchor="middle" font-weight="normal" fill="#231f20" style="stroke-width:0.22px">NHS in MgEGTA on DKO</text>
<path d="M49.40 316.59V320.36M48.40 316.59h2M48.40 320.36h2M52.32 294.33V298.11M51.32 294.33h2M51.32 298.11h2M55.25 279.32V283.10M54.25 279.32h2M54.25 283.10h2M58.17 275.52V279.30M57.17 275.52h2M57.17 279.30h2M61.10 271.98V281.90M60.10 271.98h2M60.10 281.90h2M64.03 274.01V284.28M63.03 274.01h2M63.03 284.28h2M66.95 277.77V288.39M65.95 277.77h2M65.95 288.39h2M69.88 281.57V292.54M68.88 281.57h2M68.88 292.54h2M72.80 284.40V295.73M71.80 284.40h2M71.80 295.73h2M75.72 286.68V298.36M74.72 286.68h2M74.72 298.36h2M78.65 288.53V300.57M77.65 288.53h2M77.65 300.57h2M81.57 290.13V302.52M80.57 290.13h2M80.57 302.52h2M84.50 291.57V304.32M83.50 291.57h2M83.50 304.32h2M87.42 292.97V306.07M86.42 292.97h2M86.42 306.07h2M90.35 294.33V307.78M89.35 294.33h2M89.35 307.78h2M93.28 295.61V309.42M92.28 295.61h2M92.28 309.42h2M96.20 296.80V310.96M95.20 296.80h2M95.20 310.96h2M99.12 297.86V312.37M98.12 297.86h2M98.12 312.37h2M102.05 298.77V313.64M101.05 298.77h2M101.05 313.64h2M104.97 299.54V314.76M103.97 299.54h2M103.97 314.76h2M107.90 300.22V315.79M106.90 300.22h2M106.90 315.79h2M110.83 300.83V316.76M109.83 300.83h2M109.83 316.76h2M113.75 301.38V317.67M112.75 301.38h2M112.75 317.67h2M116.68 301.91V318.55M115.68 301.91h2M115.68 318.55h2M119.60 302.43V319.42M118.60 302.43h2M118.60 319.42h2M122.53 302.93V320.27M121.53 302.93h2M121.53 320.27h2M125.45 303.39V321.09M124.45 303.39h2M124.45 321.09h2M128.38 303.84V321.89M127.38 303.84h2M127.38 321.89h2M131.30 304.27V322.68M130.30 304.27h2M130.30 322.68h2M134.22 304.70V323.46M133.22 304.70h2M133.22 323.46h2M137.15 305.14V324.26M136.15 305.14h2M136.15 324.26h2" stroke="#6cc482" stroke-width="0.6" fill="none"/>
<path d="M49.40 314.23V321.78M48.40 314.23h2M48.40 321.78h2M52.32 291.50V299.05M51.32 291.50h2M51.32 299.05h2M55.25 276.49V284.04M54.25 276.49h2M54.25 284.04h2M58.17 272.69V280.24M57.17 272.69h2M57.17 280.24h2M61.10 272.22V279.77M60.10 272.22h2M60.10 279.77h2M64.03 273.87V281.42M63.03 273.87h2M63.03 281.42h2M66.95 276.94V284.49M65.95 276.94h2M65.95 284.49h2M69.88 280.47V288.02M68.88 280.47h2M68.88 288.02h2M72.80 283.19V290.74M71.80 283.19h2M71.80 290.74h2M75.72 285.44V292.99M74.72 285.44h2M74.72 292.99h2M78.65 287.34V294.89M77.65 287.34h2M77.65 294.89h2M81.57 289.02V296.57M80.57 289.02h2M80.57 296.57h2M84.50 290.63V298.18M83.50 290.63h2M83.50 298.18h2M87.42 292.26V299.82M86.42 292.26h2M86.42 299.82h2M90.35 293.90V301.46M89.35 293.90h2M89.35 301.46h2M93.28 295.50V303.05M92.28 295.50h2M92.28 303.05h2M96.20 297.02V304.57M95.20 297.02h2M95.20 304.57h2M99.12 298.40V305.95M98.12 298.40h2M98.12 305.95h2M102.05 299.60V307.15M101.05 299.60h2M101.05 307.15h2M104.97 300.63V308.18M103.97 300.63h2M103.97 308.18h2M107.90 301.55V309.10M106.90 301.55h2M106.90 309.10h2M110.83 302.40V309.95M109.83 302.40h2M109.83 309.95h2M113.75 303.20V310.75M112.75 303.20h2M112.75 310.75h2M116.68 303.98V311.54M115.68 303.98h2M115.68 311.54h2M119.60 304.79V312.34M118.60 304.79h2M118.60 312.34h2M122.53 305.60V313.15M121.53 305.60h2M121.53 313.15h2M125.45 306.39V313.95M124.45 306.39h2M124.45 313.95h2M128.38 307.18V314.73M127.38 307.18h2M127.38 314.73h2M131.30 307.95V315.50M130.30 307.95h2M130.30 315.50h2M134.22 308.73V316.28M133.22 308.73h2M133.22 316.28h2M137.15 309.51V317.06M136.15 309.51h2M136.15 317.06h2" stroke="#3a5a8a" stroke-width="0.6" fill="none"/>
<path d="M49.40 315.17V320.84M48.40 315.17h2M48.40 320.84h2M52.32 292.44V298.11M51.32 292.44h2M51.32 298.11h2M55.25 277.44V283.10M54.25 277.44h2M54.25 283.10h2M58.17 272.69V278.36M57.17 272.69h2M57.17 278.36h2M61.10 271.75V277.41M60.10 271.75h2M60.10 277.41h2M64.03 273.34V279.00M63.03 273.34h2M63.03 279.00h2M66.95 276.00V281.66M65.95 276.00h2M65.95 281.66h2M69.88 278.18V283.84M68.88 278.18h2M68.88 283.84h2M72.80 280.39V286.06M71.80 280.39h2M71.80 286.06h2M75.72 282.60V288.27M74.72 282.60h2M74.72 288.27h2M78.65 284.94V290.61M77.65 284.94h2M77.65 290.61h2M81.57 287.28V292.95M80.57 287.28h2M80.57 292.95h2M84.50 289.21V294.88M83.50 289.21h2M83.50 294.88h2M87.42 290.72V296.38M86.42 290.72h2M86.42 296.38h2M90.35 292.07V297.73M89.35 292.07h2M89.35 297.73h2M93.28 293.28V298.94M92.28 293.28h2M92.28 298.94h2M96.20 294.38V300.04M95.20 294.38h2M95.20 300.04h2M99.12 295.37V301.04M98.12 295.37h2M98.12 301.04h2M102.05 296.29V301.96M101.05 296.29h2M101.05 301.96h2M104.97 297.13V302.80M103.97 297.13h2M103.97 302.80h2M107.90 297.89V303.56M106.90 297.89h2M106.90 303.56h2M110.83 298.60V304.26M109.83 298.60h2M109.83 304.26h2M113.75 299.26V304.92M112.75 299.26h2M112.75 304.92h2M116.68 299.90V305.57M115.68 299.90h2M115.68 305.57h2M119.60 300.54V306.20M118.60 300.54h2M118.60 306.20h2M122.53 301.17V306.83M121.53 301.17h2M121.53 306.83h2M125.45 301.77V307.43M124.45 301.77h2M124.45 307.43h2M128.38 302.35V308.01M127.38 302.35h2M127.38 308.01h2M131.30 302.92V308.59M130.30 302.92h2M130.30 308.59h2M134.22 303.50V309.16M133.22 303.50h2M133.22 309.16h2M137.15 304.08V309.74M136.15 304.08h2M136.15 309.74h2" stroke="#e060a8" stroke-width="0.6" fill="none"/>
<path d="M49.40 315.17V319.89M48.40 315.17h2M48.40 319.89h2M52.32 292.44V297.16M51.32 292.44h2M51.32 297.16h2M55.25 277.44V282.16M54.25 277.44h2M54.25 282.16h2M58.17 272.69V277.41M57.17 272.69h2M57.17 277.41h2M61.10 271.75V276.47M60.10 271.75h2M60.10 276.47h2M64.03 273.15V277.87M63.03 273.15h2M63.03 277.87h2M66.95 275.52V280.24M65.95 275.52h2M65.95 280.24h2M69.88 277.53V282.25M68.88 277.53h2M68.88 282.25h2M72.80 279.59V284.31M71.80 279.59h2M71.80 284.31h2M75.72 281.66V286.38M74.72 281.66h2M74.72 286.38h2M78.65 283.82V288.54M77.65 283.82h2M77.65 288.54h2M81.57 285.97V290.69M80.57 285.97h2M80.57 290.69h2M84.50 287.80V292.52M83.50 287.80h2M83.50 292.52h2M87.42 289.28V294.00M86.42 289.28h2M86.42 294.00h2M90.35 290.64V295.36M89.35 290.64h2M89.35 295.36h2M93.28 291.88V296.60M92.28 291.88h2M92.28 296.60h2M96.20 293.00V297.72M95.20 293.00h2M95.20 297.72h2M99.12 294.00V298.72M98.12 294.00h2M98.12 298.72h2M102.05 294.88V299.60M101.05 294.88h2M101.05 299.60h2M104.97 295.64V300.36M103.97 295.64h2M103.97 300.36h2M107.90 296.32V301.04M106.90 296.32h2M106.90 301.04h2M110.83 296.94V301.66M109.83 296.94h2M109.83 301.66h2M113.75 297.52V302.24M112.75 297.52h2M112.75 302.24h2M116.68 298.08V302.80M115.68 298.08h2M115.68 302.80h2M119.60 298.65V303.37M118.60 298.65h2M118.60 303.37h2M122.53 299.23V303.95M121.53 299.23h2M121.53 303.95h2M125.45 299.79V304.51M124.45 299.79h2M124.45 304.51h2M128.38 300.33V305.05M127.38 300.33h2M127.38 305.05h2M131.30 300.87V305.59M130.30 300.87h2M130.30 305.59h2M134.22 301.41V306.13M133.22 301.41h2M133.22 306.13h2M137.15 301.96V306.68M136.15 301.96h2M136.15 306.68h2" stroke="#aaa4d6" stroke-width="0.6" fill="none"/>
<path d="M49.40 315.17V318.95M48.40 315.17h2M48.40 318.95h2M52.32 292.44V296.22M51.32 292.44h2M51.32 296.22h2M55.25 277.44V281.22M54.25 277.44h2M54.25 281.22h2M58.17 272.69V276.47M57.17 272.69h2M57.17 276.47h2M61.10 271.75V275.52M60.10 271.75h2M60.10 275.52h2M64.03 273.31V277.09M63.03 273.31h2M63.03 277.09h2M66.95 276.00V279.77M65.95 276.00h2M65.95 279.77h2M69.88 278.42V282.19M68.88 278.42h2M68.88 282.19h2M72.80 280.43V284.21M71.80 280.43h2M71.80 284.21h2M75.72 282.13V285.91M74.72 282.13h2M74.72 285.91h2M78.65 283.53V287.31M77.65 283.53h2M77.65 287.31h2M81.57 284.76V288.53M80.57 284.76h2M80.57 288.53h2M84.50 285.91V289.68M83.50 285.91h2M83.50 289.68h2M87.42 287.06V290.83M86.42 287.06h2M86.42 290.83h2M90.35 288.20V291.97M89.35 288.20h2M89.35 291.97h2M93.28 289.30V293.07M92.28 289.30h2M92.28 293.07h2M96.20 290.32V294.10M95.20 290.32h2M95.20 294.10h2M99.12 291.25V295.03M98.12 291.25h2M98.12 295.03h2M102.05 292.04V295.82M101.05 292.04h2M101.05 295.82h2M104.97 292.72V296.49M103.97 292.72h2M103.97 296.49h2M107.90 293.32V297.10M106.90 293.32h2M106.90 297.10h2M110.83 293.87V297.65M109.83 293.87h2M109.83 297.65h2M113.75 294.38V298.15M112.75 294.38h2M112.75 298.15h2M116.68 294.87V298.64M115.68 294.87h2M115.68 298.64h2M119.60 295.35V299.12M118.60 295.35h2M118.60 299.12h2M122.53 295.82V299.59M121.53 295.82h2M121.53 299.59h2M125.45 296.26V300.04M124.45 296.26h2M124.45 300.04h2M128.38 296.68V300.46M127.38 296.68h2M127.38 300.46h2M131.30 297.10V300.88M130.30 297.10h2M130.30 300.88h2M134.22 297.52V301.29M133.22 297.52h2M133.22 301.29h2M137.15 297.94V301.72M136.15 297.94h2M136.15 301.72h2" stroke="#f2b062" stroke-width="0.6" fill="none"/>
<path d="M49.40 315.64V318.48M48.40 315.64h2M48.40 318.48h2M52.32 292.92V295.75M51.32 292.92h2M51.32 295.75h2M55.25 277.92V280.75M54.25 277.92h2M54.25 280.75h2M58.17 272.69V275.52M57.17 272.69h2M57.17 275.52h2M61.10 271.75V274.58M60.10 271.75h2M60.10 274.58h2M64.03 272.77V275.60M63.03 272.77h2M63.03 275.60h2M66.95 274.58V277.41M65.95 274.58h2M65.95 277.41h2M69.88 276.34V279.17M68.88 276.34h2M68.88 279.17h2M72.80 277.88V280.72M71.80 277.88h2M71.80 280.72h2M75.72 279.30V282.13M74.72 279.30h2M74.72 282.13h2M78.65 280.64V283.47M77.65 280.64h2M77.65 283.47h2M81.57 281.90V284.74M80.57 281.90h2M80.57 284.74h2M84.50 283.08V285.91M83.50 283.08h2M83.50 285.91h2M87.42 284.18V287.01M86.42 284.18h2M86.42 287.01h2M90.35 285.24V288.08M89.35 285.24h2M89.35 288.08h2M93.28 286.25V289.08M92.28 286.25h2M92.28 289.08h2M96.20 287.19V290.02M95.20 287.19h2M95.20 290.02h2M99.12 288.05V290.88M98.12 288.05h2M98.12 290.88h2M102.05 288.81V291.64M101.05 288.81h2M101.05 291.64h2M104.97 289.50V292.33M103.97 289.50h2M103.97 292.33h2M107.90 290.14V292.97M106.90 290.14h2M106.90 292.97h2M110.83 290.75V293.58M109.83 290.75h2M109.83 293.58h2M113.75 291.33V294.17M112.75 291.33h2M112.75 294.17h2M116.68 291.92V294.75M115.68 291.92h2M115.68 294.75h2M119.60 292.52V295.35M118.60 292.52h2M118.60 295.35h2M122.53 293.12V295.95M121.53 293.12h2M121.53 295.95h2M125.45 293.71V296.55M124.45 293.71h2M124.45 296.55h2M128.38 294.30V297.13M127.38 294.30h2M127.38 297.13h2M131.30 294.88V297.72M130.30 294.88h2M130.30 297.72h2M134.22 295.47V298.30M133.22 295.47h2M133.22 298.30h2M137.15 296.06V298.89M136.15 296.06h2M136.15 298.89h2" stroke="#6a4a32" stroke-width="0.6" fill="none"/>
<path d="M49.40 315.64V318.48M48.40 315.64h2M48.40 318.48h2M52.32 292.44V295.28M51.32 292.44h2M51.32 295.28h2M55.25 277.45V280.28M54.25 277.45h2M54.25 280.28h2M58.17 271.75V274.58M57.17 271.75h2M57.17 274.58h2M61.10 270.80V273.64M60.10 270.80h2M60.10 273.64h2M64.03 271.83V274.66M63.03 271.83h2M63.03 274.66h2M66.95 273.64V276.47M65.95 273.64h2M65.95 276.47h2M69.88 275.39V278.22M68.88 275.39h2M68.88 278.22h2M72.80 276.94V279.77M71.80 276.94h2M71.80 279.77h2M75.72 278.36V281.19M74.72 278.36h2M74.72 281.19h2M78.65 279.69V282.53M77.65 279.69h2M77.65 282.53h2M81.57 280.96V283.79M80.57 280.96h2M80.57 283.79h2M84.50 282.13V284.96M83.50 282.13h2M83.50 284.96h2M87.42 283.23V286.07M86.42 283.23h2M86.42 286.07h2M90.35 284.30V287.13M89.35 284.30h2M89.35 287.13h2M93.28 285.31V288.14M92.28 285.31h2M92.28 288.14h2M96.20 286.25V289.08M95.20 286.25h2M95.20 289.08h2M99.12 287.10V289.93M98.12 287.10h2M98.12 289.93h2M102.05 287.86V290.70M101.05 287.86h2M101.05 290.70h2M104.97 288.56V291.39M103.97 288.56h2M103.97 291.39h2M107.90 289.20V292.03M106.90 289.20h2M106.90 292.03h2M110.83 289.80V292.63M109.83 289.80h2M109.83 292.63h2M113.75 290.39V293.22M112.75 290.39h2M112.75 293.22h2M116.68 290.97V293.81M115.68 290.97h2M115.68 293.81h2M119.60 291.57V294.40M118.60 291.57h2M118.60 294.40h2M122.53 292.18V295.01M121.53 292.18h2M121.53 295.01h2M125.45 292.77V295.60M124.45 292.77h2M124.45 295.60h2M128.38 293.36V296.19M127.38 293.36h2M127.38 296.19h2M131.30 293.94V296.77M130.30 293.94h2M130.30 296.77h2M134.22 294.52V297.36M133.22 294.52h2M133.22 297.36h2M137.15 295.11V297.94M136.15 295.11h2M136.15 297.94h2" stroke="#c8384c" stroke-width="0.6" fill="none"/>
<polyline points="49.40,318.48 52.32,296.22 55.25,281.21 58.17,277.41 61.10,276.94 64.03,279.14 66.95,283.08 69.88,287.05 72.80,290.07 75.72,292.52 78.65,294.55 81.57,296.32 84.50,297.94 87.42,299.52 90.35,301.05 93.28,302.51 96.20,303.88 99.12,305.12 102.05,306.20 104.97,307.15 107.90,308.01 110.83,308.79 113.75,309.52 116.68,310.23 119.60,310.92 122.53,311.60 125.45,312.24 128.38,312.86 131.30,313.47 134.22,314.08 137.15,314.70" fill="none" stroke="#3c9e5a" stroke-width="0.7"/><path d="M49.40 317.04L50.84 319.55L47.96 319.55Z" fill="#3c9e5a"/><path d="M52.32 294.78L53.76 297.30L50.89 297.30Z" fill="#3c9e5a"/><path d="M55.25 279.77L56.69 282.29L53.81 282.29Z" fill="#3c9e5a"/><path d="M58.17 275.97L59.61 278.49L56.74 278.49Z" fill="#3c9e5a"/><path d="M61.10 275.50L62.54 278.02L59.66 278.02Z" fill="#3c9e5a"/><path d="M64.03 277.70L65.46 280.22L62.59 280.22Z" fill="#3c9e5a"/><path d="M66.95 281.64L68.39 284.15L65.51 284.15Z" fill="#3c9e5a"/><path d="M69.88 285.62L71.31 288.13L68.44 288.13Z" fill="#3c9e5a"/><path d="M72.80 288.63L74.24 291.14L71.36 291.14Z" fill="#3c9e5a"/><path d="M75.72 291.08L77.16 293.59L74.29 293.59Z" fill="#3c9e5a"/><path d="M78.65 293.11L80.09 295.63L77.21 295.63Z" fill="#3c9e5a"/><path d="M81.57 294.88L83.01 297.40L80.14 297.40Z" fill="#3c9e5a"/><path d="M84.50 296.51L85.94 299.02L83.06 299.02Z" fill="#3c9e5a"/><path d="M87.42 298.08L88.86 300.60L85.99 300.60Z" fill="#3c9e5a"/><path d="M90.35 299.61L91.79 302.13L88.91 302.13Z" fill="#3c9e5a"/><path d="M93.28 301.08L94.71 303.59L91.84 303.59Z" fill="#3c9e5a"/><path d="M96.20 302.44L97.64 304.96L94.76 304.96Z" fill="#3c9e5a"/><path d="M99.12 303.68L100.56 306.20L97.69 306.20Z" fill="#3c9e5a"/><path d="M102.05 304.77L103.49 307.28L100.61 307.28Z" fill="#3c9e5a"/><path d="M104.97 305.71L106.41 308.23L103.54 308.23Z" fill="#3c9e5a"/><path d="M107.90 306.57L109.34 309.09L106.46 309.09Z" fill="#3c9e5a"/><path d="M110.83 307.35L112.26 309.87L109.39 309.87Z" fill="#3c9e5a"/><path d="M113.75 308.09L115.19 310.60L112.31 310.60Z" fill="#3c9e5a"/><path d="M116.68 308.79L118.11 311.31L115.24 311.31Z" fill="#3c9e5a"/><path d="M119.60 309.49L121.04 312.00L118.16 312.00Z" fill="#3c9e5a"/><path d="M122.53 310.16L123.96 312.68L121.09 312.68Z" fill="#3c9e5a"/><path d="M125.45 310.81L126.89 313.32L124.01 313.32Z" fill="#3c9e5a"/><path d="M128.38 311.43L129.81 313.94L126.94 313.94Z" fill="#3c9e5a"/><path d="M131.30 312.03L132.74 314.55L129.86 314.55Z" fill="#3c9e5a"/><path d="M134.22 312.64L135.66 315.16L132.79 315.16Z" fill="#3c9e5a"/><path d="M137.15 313.26L138.59 315.78L135.71 315.78Z" fill="#3c9e5a"/>
<polyline points="49.40,318.00 52.32,295.28 55.25,280.27 58.17,276.47 61.10,276.00 64.03,277.64 66.95,280.72 69.88,284.25 72.80,286.96 75.72,289.21 78.65,291.11 81.57,292.80 84.50,294.40 87.42,296.04 90.35,297.68 93.28,299.28 96.20,300.79 99.12,302.17 102.05,303.37 104.97,304.40 107.90,305.33 110.83,306.17 113.75,306.97 116.68,307.76 119.60,308.56 122.53,309.38 125.45,310.17 128.38,310.95 131.30,311.73 134.22,312.50 137.15,313.28" fill="none" stroke="#1c355e" stroke-width="0.7"/><circle cx="49.40" cy="318.00" r="1.25" fill="#1c355e"/><circle cx="52.32" cy="295.28" r="1.25" fill="#1c355e"/><circle cx="55.25" cy="280.27" r="1.25" fill="#1c355e"/><circle cx="58.17" cy="276.47" r="1.25" fill="#1c355e"/><circle cx="61.10" cy="276.00" r="1.25" fill="#1c355e"/><circle cx="64.03" cy="277.64" r="1.25" fill="#1c355e"/><circle cx="66.95" cy="280.72" r="1.25" fill="#1c355e"/><circle cx="69.88" cy="284.25" r="1.25" fill="#1c355e"/><circle cx="72.80" cy="286.96" r="1.25" fill="#1c355e"/><circle cx="75.72" cy="289.21" r="1.25" fill="#1c355e"/><circle cx="78.65" cy="291.11" r="1.25" fill="#1c355e"/><circle cx="81.57" cy="292.80" r="1.25" fill="#1c355e"/><circle cx="84.50" cy="294.40" r="1.25" fill="#1c355e"/><circle cx="87.42" cy="296.04" r="1.25" fill="#1c355e"/><circle cx="90.35" cy="297.68" r="1.25" fill="#1c355e"/><circle cx="93.28" cy="299.28" r="1.25" fill="#1c355e"/><circle cx="96.20" cy="300.79" r="1.25" fill="#1c355e"/><circle cx="99.12" cy="302.17" r="1.25" fill="#1c355e"/><circle cx="102.05" cy="303.37" r="1.25" fill="#1c355e"/><circle cx="104.97" cy="304.40" r="1.25" fill="#1c355e"/><circle cx="107.90" cy="305.33" r="1.25" fill="#1c355e"/><circle cx="110.83" cy="306.17" r="1.25" fill="#1c355e"/><circle cx="113.75" cy="306.97" r="1.25" fill="#1c355e"/><circle cx="116.68" cy="307.76" r="1.25" fill="#1c355e"/><circle cx="119.60" cy="308.56" r="1.25" fill="#1c355e"/><circle cx="122.53" cy="309.38" r="1.25" fill="#1c355e"/><circle cx="125.45" cy="310.17" r="1.25" fill="#1c355e"/><circle cx="128.38" cy="310.95" r="1.25" fill="#1c355e"/><circle cx="131.30" cy="311.73" r="1.25" fill="#1c355e"/><circle cx="134.22" cy="312.50" r="1.25" fill="#1c355e"/><circle cx="137.15" cy="313.28" r="1.25" fill="#1c355e"/>
<polyline points="49.40,318.00 52.32,295.28 55.25,280.27 58.17,275.52 61.10,274.58 64.03,276.17 66.95,278.83 69.88,281.01 72.80,283.22 75.72,285.44 78.65,287.77 81.57,290.11 84.50,292.04 87.42,293.55 90.35,294.90 93.28,296.11 96.20,297.21 99.12,298.21 102.05,299.12 104.97,299.96 107.90,300.73 110.83,301.43 113.75,302.09 116.68,302.73 119.60,303.37 122.53,304.00 125.45,304.60 128.38,305.18 131.30,305.76 134.22,306.33 137.15,306.91" fill="none" stroke="#cc1f7e" stroke-width="0.7"/><path d="M49.40 319.44L50.84 316.93L47.96 316.93Z" fill="#cc1f7e"/><path d="M52.32 296.71L53.76 294.20L50.89 294.20Z" fill="#cc1f7e"/><path d="M55.25 281.71L56.69 279.19L53.81 279.19Z" fill="#cc1f7e"/><path d="M58.17 276.96L59.61 274.45L56.74 274.45Z" fill="#cc1f7e"/><path d="M61.10 276.02L62.54 273.50L59.66 273.50Z" fill="#cc1f7e"/><path d="M64.03 277.61L65.46 275.09L62.59 275.09Z" fill="#cc1f7e"/><path d="M66.95 280.27L68.39 277.75L65.51 277.75Z" fill="#cc1f7e"/><path d="M69.88 282.45L71.31 279.93L68.44 279.93Z" fill="#cc1f7e"/><path d="M72.80 284.66L74.24 282.15L71.36 282.15Z" fill="#cc1f7e"/><path d="M75.72 286.87L77.16 284.36L74.29 284.36Z" fill="#cc1f7e"/><path d="M78.65 289.21L80.09 286.70L77.21 286.70Z" fill="#cc1f7e"/><path d="M81.57 291.55L83.01 289.04L80.14 289.04Z" fill="#cc1f7e"/><path d="M84.50 293.48L85.94 290.97L83.06 290.97Z" fill="#cc1f7e"/><path d="M87.42 294.99L88.86 292.47L85.99 292.47Z" fill="#cc1f7e"/><path d="M90.35 296.34L91.79 293.82L88.91 293.82Z" fill="#cc1f7e"/><path d="M93.28 297.55L94.71 295.03L91.84 295.03Z" fill="#cc1f7e"/><path d="M96.20 298.65L97.64 296.13L94.76 296.13Z" fill="#cc1f7e"/><path d="M99.12 299.64L100.56 297.13L97.69 297.13Z" fill="#cc1f7e"/><path d="M102.05 300.56L103.49 298.05L100.61 298.05Z" fill="#cc1f7e"/><path d="M104.97 301.40L106.41 298.89L103.54 298.89Z" fill="#cc1f7e"/><path d="M107.90 302.16L109.34 299.65L106.46 299.65Z" fill="#cc1f7e"/><path d="M110.83 302.87L112.26 300.35L109.39 300.35Z" fill="#cc1f7e"/><path d="M113.75 303.53L115.19 301.01L112.31 301.01Z" fill="#cc1f7e"/><path d="M116.68 304.17L118.11 301.66L115.24 301.66Z" fill="#cc1f7e"/><path d="M119.60 304.81L121.04 302.29L118.16 302.29Z" fill="#cc1f7e"/><path d="M122.53 305.44L123.96 302.92L121.09 302.92Z" fill="#cc1f7e"/><path d="M125.45 306.04L126.89 303.52L124.01 303.52Z" fill="#cc1f7e"/><path d="M128.38 306.62L129.81 304.10L126.94 304.10Z" fill="#cc1f7e"/><path d="M131.30 307.19L132.74 304.68L129.86 304.68Z" fill="#cc1f7e"/><path d="M134.22 307.77L135.66 305.25L132.79 305.25Z" fill="#cc1f7e"/><path d="M137.15 308.35L138.59 305.83L135.71 305.83Z" fill="#cc1f7e"/>
<polyline points="49.40,317.53 52.32,294.80 55.25,279.80 58.17,275.05 61.10,274.11 64.03,275.51 66.95,277.88 69.88,279.89 72.80,281.95 75.72,284.02 78.65,286.18 81.57,288.33 84.50,290.16 87.42,291.64 90.35,293.00 93.28,294.24 96.20,295.36 99.12,296.36 102.05,297.24 104.97,298.00 107.90,298.68 110.83,299.30 113.75,299.88 116.68,300.44 119.60,301.01 122.53,301.59 125.45,302.15 128.38,302.69 131.30,303.23 134.22,303.77 137.15,304.32" fill="none" stroke="#8a84c0" stroke-width="0.7"/><circle cx="49.40" cy="317.53" r="1.25" fill="#8a84c0"/><circle cx="52.32" cy="294.80" r="1.25" fill="#8a84c0"/><circle cx="55.25" cy="279.80" r="1.25" fill="#8a84c0"/><circle cx="58.17" cy="275.05" r="1.25" fill="#8a84c0"/><circle cx="61.10" cy="274.11" r="1.25" fill="#8a84c0"/><circle cx="64.03" cy="275.51" r="1.25" fill="#8a84c0"/><circle cx="66.95" cy="277.88" r="1.25" fill="#8a84c0"/><circle cx="69.88" cy="279.89" r="1.25" fill="#8a84c0"/><circle cx="72.80" cy="281.95" r="1.25" fill="#8a84c0"/><circle cx="75.72" cy="284.02" r="1.25" fill="#8a84c0"/><circle cx="78.65" cy="286.18" r="1.25" fill="#8a84c0"/><circle cx="81.57" cy="288.33" r="1.25" fill="#8a84c0"/><circle cx="84.50" cy="290.16" r="1.25" fill="#8a84c0"/><circle cx="87.42" cy="291.64" r="1.25" fill="#8a84c0"/><circle cx="90.35" cy="293.00" r="1.25" fill="#8a84c0"/><circle cx="93.28" cy="294.24" r="1.25" fill="#8a84c0"/><circle cx="96.20" cy="295.36" r="1.25" fill="#8a84c0"/><circle cx="99.12" cy="296.36" r="1.25" fill="#8a84c0"/><circle cx="102.05" cy="297.24" r="1.25" fill="#8a84c0"/><circle cx="104.97" cy="298.00" r="1.25" fill="#8a84c0"/><circle cx="107.90" cy="298.68" r="1.25" fill="#8a84c0"/><circle cx="110.83" cy="299.30" r="1.25" fill="#8a84c0"/><circle cx="113.75" cy="299.88" r="1.25" fill="#8a84c0"/><circle cx="116.68" cy="300.44" r="1.25" fill="#8a84c0"/><circle cx="119.60" cy="301.01" r="1.25" fill="#8a84c0"/><circle cx="122.53" cy="301.59" r="1.25" fill="#8a84c0"/><circle cx="125.45" cy="302.15" r="1.25" fill="#8a84c0"/><circle cx="128.38" cy="302.69" r="1.25" fill="#8a84c0"/><circle cx="131.30" cy="303.23" r="1.25" fill="#8a84c0"/><circle cx="134.22" cy="303.77" r="1.25" fill="#8a84c0"/><circle cx="137.15" cy="304.32" r="1.25" fill="#8a84c0"/>
<polyline points="49.40,317.06 52.32,294.33 55.25,279.33 58.17,274.58 61.10,273.64 64.03,275.20 66.95,277.88 69.88,280.31 72.80,282.32 75.72,284.02 78.65,285.42 81.57,286.65 84.50,287.80 87.42,288.94 90.35,290.08 93.28,291.18 96.20,292.21 99.12,293.14 102.05,293.93 104.97,294.61 107.90,295.21 110.83,295.76 113.75,296.27 116.68,296.75 119.60,297.24 122.53,297.70 125.45,298.15 128.38,298.57 131.30,298.99 134.22,299.41 137.15,299.83" fill="none" stroke="#eb953a" stroke-width="0.7"/><path d="M49.40 315.50L50.96 317.06L49.40 318.62L47.84 317.06Z" fill="#eb953a"/><path d="M52.32 292.77L53.89 294.33L52.32 295.89L50.76 294.33Z" fill="#eb953a"/><path d="M55.25 277.77L56.81 279.33L55.25 280.89L53.69 279.33Z" fill="#eb953a"/><path d="M58.17 273.02L59.74 274.58L58.17 276.14L56.61 274.58Z" fill="#eb953a"/><path d="M61.10 272.07L62.66 273.64L61.10 275.20L59.54 273.64Z" fill="#eb953a"/><path d="M64.03 273.63L65.59 275.20L64.03 276.76L62.46 275.20Z" fill="#eb953a"/><path d="M66.95 276.32L68.51 277.88L66.95 279.45L65.39 277.88Z" fill="#eb953a"/><path d="M69.88 278.74L71.44 280.31L69.88 281.87L68.31 280.31Z" fill="#eb953a"/><path d="M72.80 280.76L74.36 282.32L72.80 283.88L71.24 282.32Z" fill="#eb953a"/><path d="M75.72 282.46L77.29 284.02L75.72 285.58L74.16 284.02Z" fill="#eb953a"/><path d="M78.65 283.86L80.21 285.42L78.65 286.98L77.09 285.42Z" fill="#eb953a"/><path d="M81.57 285.08L83.14 286.65L81.57 288.21L80.01 286.65Z" fill="#eb953a"/><path d="M84.50 286.23L86.06 287.80L84.50 289.36L82.94 287.80Z" fill="#eb953a"/><path d="M87.42 287.38L88.99 288.94L87.42 290.51L85.86 288.94Z" fill="#eb953a"/><path d="M90.35 288.52L91.91 290.08L90.35 291.65L88.79 290.08Z" fill="#eb953a"/><path d="M93.28 289.62L94.84 291.18L93.28 292.75L91.71 291.18Z" fill="#eb953a"/><path d="M96.20 290.65L97.76 292.21L96.20 293.77L94.64 292.21Z" fill="#eb953a"/><path d="M99.12 291.58L100.69 293.14L99.12 294.70L97.56 293.14Z" fill="#eb953a"/><path d="M102.05 292.37L103.61 293.93L102.05 295.49L100.49 293.93Z" fill="#eb953a"/><path d="M104.97 293.04L106.54 294.61L104.97 296.17L103.41 294.61Z" fill="#eb953a"/><path d="M107.90 293.65L109.46 295.21L107.90 296.77L106.34 295.21Z" fill="#eb953a"/><path d="M110.83 294.19L112.39 295.76L110.83 297.32L109.26 295.76Z" fill="#eb953a"/><path d="M113.75 294.70L115.31 296.27L113.75 297.83L112.19 296.27Z" fill="#eb953a"/><path d="M116.68 295.19L118.24 296.75L116.68 298.32L115.11 296.75Z" fill="#eb953a"/><path d="M119.60 295.67L121.16 297.24L119.60 298.80L118.04 297.24Z" fill="#eb953a"/><path d="M122.53 296.14L124.09 297.70L122.53 299.27L120.96 297.70Z" fill="#eb953a"/><path d="M125.45 296.58L127.01 298.15L125.45 299.71L123.89 298.15Z" fill="#eb953a"/><path d="M128.38 297.01L129.94 298.57L128.38 300.14L126.81 298.57Z" fill="#eb953a"/><path d="M131.30 297.43L132.86 298.99L131.30 300.55L129.74 298.99Z" fill="#eb953a"/><path d="M134.22 297.84L135.79 299.41L134.22 300.97L132.66 299.41Z" fill="#eb953a"/><path d="M137.15 298.27L138.71 299.83L137.15 301.39L135.59 299.83Z" fill="#eb953a"/>
<polyline points="49.40,317.06 52.32,294.33 55.25,279.33 58.17,274.11 61.10,273.16 64.03,274.19 66.95,276.00 69.88,277.75 72.80,279.30 75.72,280.72 78.65,282.05 81.57,283.32 84.50,284.49 87.42,285.59 90.35,286.66 93.28,287.67 96.20,288.61 99.12,289.46 102.05,290.22 104.97,290.92 107.90,291.56 110.83,292.16 113.75,292.75 116.68,293.33 119.60,293.93 122.53,294.54 125.45,295.13 128.38,295.72 131.30,296.30 134.22,296.88 137.15,297.47" fill="none" stroke="#3e2a16" stroke-width="0.7"/><rect x="48.15" y="315.81" width="2.50" height="2.50" fill="#3e2a16"/><rect x="51.07" y="293.08" width="2.50" height="2.50" fill="#3e2a16"/><rect x="54.00" y="278.08" width="2.50" height="2.50" fill="#3e2a16"/><rect x="56.92" y="272.86" width="2.50" height="2.50" fill="#3e2a16"/><rect x="59.85" y="271.91" width="2.50" height="2.50" fill="#3e2a16"/><rect x="62.78" y="272.94" width="2.50" height="2.50" fill="#3e2a16"/><rect x="65.70" y="274.75" width="2.50" height="2.50" fill="#3e2a16"/><rect x="68.62" y="276.50" width="2.50" height="2.50" fill="#3e2a16"/><rect x="71.55" y="278.05" width="2.50" height="2.50" fill="#3e2a16"/><rect x="74.47" y="279.47" width="2.50" height="2.50" fill="#3e2a16"/><rect x="77.40" y="280.80" width="2.50" height="2.50" fill="#3e2a16"/><rect x="80.32" y="282.07" width="2.50" height="2.50" fill="#3e2a16"/><rect x="83.25" y="283.24" width="2.50" height="2.50" fill="#3e2a16"/><rect x="86.17" y="284.34" width="2.50" height="2.50" fill="#3e2a16"/><rect x="89.10" y="285.41" width="2.50" height="2.50" fill="#3e2a16"/><rect x="92.03" y="286.42" width="2.50" height="2.50" fill="#3e2a16"/><rect x="94.95" y="287.36" width="2.50" height="2.50" fill="#3e2a16"/><rect x="97.88" y="288.21" width="2.50" height="2.50" fill="#3e2a16"/><rect x="100.80" y="288.97" width="2.50" height="2.50" fill="#3e2a16"/><rect x="103.72" y="289.67" width="2.50" height="2.50" fill="#3e2a16"/><rect x="106.65" y="290.31" width="2.50" height="2.50" fill="#3e2a16"/><rect x="109.58" y="290.91" width="2.50" height="2.50" fill="#3e2a16"/><rect x="112.50" y="291.50" width="2.50" height="2.50" fill="#3e2a16"/><rect x="115.43" y="292.08" width="2.50" height="2.50" fill="#3e2a16"/><rect x="118.35" y="292.68" width="2.50" height="2.50" fill="#3e2a16"/><rect x="121.28" y="293.29" width="2.50" height="2.50" fill="#3e2a16"/><rect x="124.20" y="293.88" width="2.50" height="2.50" fill="#3e2a16"/><rect x="127.12" y="294.47" width="2.50" height="2.50" fill="#3e2a16"/><rect x="130.05" y="295.05" width="2.50" height="2.50" fill="#3e2a16"/><rect x="132.97" y="295.63" width="2.50" height="2.50" fill="#3e2a16"/><rect x="135.90" y="296.22" width="2.50" height="2.50" fill="#3e2a16"/>
<polyline points="49.40,317.06 52.32,293.86 55.25,278.86 58.17,273.16 61.10,272.22 64.03,273.24 66.95,275.05 69.88,276.81 72.80,278.36 75.72,279.77 78.65,281.11 81.57,282.38 84.50,283.55 87.42,284.65 90.35,285.72 93.28,286.72 96.20,287.66 99.12,288.52 102.05,289.28 104.97,289.97 107.90,290.61 110.83,291.22 113.75,291.81 116.68,292.39 119.60,292.99 122.53,293.59 125.45,294.19 128.38,294.77 131.30,295.36 134.22,295.94 137.15,296.53" fill="none" stroke="#b8152f" stroke-width="0.7"/><rect x="48.15" y="315.81" width="2.50" height="2.50" fill="#b8152f"/><rect x="51.07" y="292.61" width="2.50" height="2.50" fill="#b8152f"/><rect x="54.00" y="277.61" width="2.50" height="2.50" fill="#b8152f"/><rect x="56.92" y="271.91" width="2.50" height="2.50" fill="#b8152f"/><rect x="59.85" y="270.97" width="2.50" height="2.50" fill="#b8152f"/><rect x="62.78" y="271.99" width="2.50" height="2.50" fill="#b8152f"/><rect x="65.70" y="273.80" width="2.50" height="2.50" fill="#b8152f"/><rect x="68.62" y="275.56" width="2.50" height="2.50" fill="#b8152f"/><rect x="71.55" y="277.11" width="2.50" height="2.50" fill="#b8152f"/><rect x="74.47" y="278.52" width="2.50" height="2.50" fill="#b8152f"/><rect x="77.40" y="279.86" width="2.50" height="2.50" fill="#b8152f"/><rect x="80.32" y="281.13" width="2.50" height="2.50" fill="#b8152f"/><rect x="83.25" y="282.30" width="2.50" height="2.50" fill="#b8152f"/><rect x="86.17" y="283.40" width="2.50" height="2.50" fill="#b8152f"/><rect x="89.10" y="284.47" width="2.50" height="2.50" fill="#b8152f"/><rect x="92.03" y="285.47" width="2.50" height="2.50" fill="#b8152f"/><rect x="94.95" y="286.41" width="2.50" height="2.50" fill="#b8152f"/><rect x="97.88" y="287.27" width="2.50" height="2.50" fill="#b8152f"/><rect x="100.80" y="288.03" width="2.50" height="2.50" fill="#b8152f"/><rect x="103.72" y="288.72" width="2.50" height="2.50" fill="#b8152f"/><rect x="106.65" y="289.36" width="2.50" height="2.50" fill="#b8152f"/><rect x="109.58" y="289.97" width="2.50" height="2.50" fill="#b8152f"/><rect x="112.50" y="290.56" width="2.50" height="2.50" fill="#b8152f"/><rect x="115.43" y="291.14" width="2.50" height="2.50" fill="#b8152f"/><rect x="118.35" y="291.74" width="2.50" height="2.50" fill="#b8152f"/><rect x="121.28" y="292.34" width="2.50" height="2.50" fill="#b8152f"/><rect x="124.20" y="292.94" width="2.50" height="2.50" fill="#b8152f"/><rect x="127.12" y="293.52" width="2.50" height="2.50" fill="#b8152f"/><rect x="130.05" y="294.11" width="2.50" height="2.50" fill="#b8152f"/><rect x="132.97" y="294.69" width="2.50" height="2.50" fill="#b8152f"/><rect x="135.90" y="295.28" width="2.50" height="2.50" fill="#b8152f"/>
<path d="M49.40 254.20V326.50H156.50" stroke="#000" stroke-width="0.9" fill="none"/>
<text x="44.60" y="328.75" font-size="6.3" text-anchor="end" font-weight="normal" fill="#231f20" letter-spacing="0.2">0</text>
<text x="44.60" y="305.15" font-size="6.3" text-anchor="end" font-weight="normal" fill="#231f20" letter-spacing="0.2">50000</text>
<text x="44.60" y="281.55" font-size="6.3" text-anchor="end" font-weight="normal" fill="#231f20" letter-spacing="0.2">100000</text>
<text x="44.60" y="257.95" font-size="6.3" text-anchor="end" font-weight="normal" fill="#231f20" letter-spacing="0.2">150000</text>
<text x="49.45" y="338.40" font-size="6.3" text-anchor="middle" font-weight="normal" fill="#231f20" letter-spacing="0.1">0:00:00</text>
<text x="84.55" y="338.40" font-size="6.3" text-anchor="middle" font-weight="normal" fill="#231f20" letter-spacing="0.1">1:00:00</text>
<text x="119.65" y="338.40" font-size="6.3" text-anchor="middle" font-weight="normal" fill="#231f20" letter-spacing="0.1">2:00:00</text>
<text x="154.75" y="338.40" font-size="6.3" text-anchor="middle" font-weight="normal" fill="#231f20" letter-spacing="0.1">3:00:00</text>
<path d="M46.40 326.50H49.40M46.40 302.90H49.40M46.40 279.30H49.40M46.40 255.70H49.40M49.40 326.50V329.50M84.50 326.50V329.50M119.60 326.50V329.50M154.70 326.50V329.50" stroke="#000" stroke-width="0.9" fill="none"/>
<text x="0" y="0" font-size="8.4" text-anchor="middle" fill="#231f20" textLength="11.6" lengthAdjust="spacingAndGlyphs" style="stroke-width:0.18px" transform="translate(17.70 289.70) rotate(-90)">RLU</text>
<text x="103.50" y="349.60" font-size="8.4" text-anchor="middle" fill="#231f20" textLength="24.2" lengthAdjust="spacingAndGlyphs" style="stroke-width:0.18px">Time (h)</text>
<path d="M49.60 361.25H59.20" stroke="#1c355e" stroke-width="0.9"/>
<circle cx="54.40" cy="361.25" r="1.70" fill="#1c355e"/>
<text x="62.70" y="363.55" font-size="6.45" text-anchor="start" font-weight="normal" fill="#231f20" >NHS MgEGTA on DKO</text>
<path d="M49.60 371.18H59.20" stroke="#b8152f" stroke-width="0.9"/>
<rect x="52.70" y="369.48" width="3.40" height="3.40" fill="#b8152f"/>
<text x="62.70" y="373.48" font-size="6.45" text-anchor="start" font-weight="normal" fill="#231f20" >HI NHS</text>
<path d="M49.60 381.11H59.20" stroke="#3c9e5a" stroke-width="0.9"/>
<path d="M54.40 379.16L56.36 382.58L52.45 382.58Z" fill="#3c9e5a"/>
<text x="62.70" y="383.41" font-size="6.45" text-anchor="start" font-weight="normal" fill="#231f20" >NHS + 0.1 mg/mL ecu</text>
<path d="M49.60 391.04H59.20" stroke="#cc1f7e" stroke-width="0.9"/>
<path d="M54.40 393.00L56.36 389.57L52.45 389.57Z" fill="#cc1f7e"/>
<text x="62.70" y="393.34" font-size="6.45" text-anchor="start" font-weight="normal" fill="#231f20" >NHS + 0.5 mg/mL ecu</text>
<path d="M49.60 400.97H59.20" stroke="#eb953a" stroke-width="0.9"/>
<path d="M54.40 398.85L56.53 400.97L54.40 403.10L52.28 400.97Z" fill="#eb953a"/>
<text x="62.70" y="403.27" font-size="6.45" text-anchor="start" font-weight="normal" fill="#231f20" >NHS + 2.5 mg/mL ecu</text>
<path d="M49.60 410.90H59.20" stroke="#8a84c0" stroke-width="0.9"/>
<circle cx="54.40" cy="410.90" r="1.70" fill="#8a84c0"/>
<text x="62.70" y="413.20" font-size="6.45" text-anchor="start" font-weight="normal" fill="#231f20" >NHS + 10 mg/mL ecu</text>
<path d="M49.60 420.83H59.20" stroke="#3e2a16" stroke-width="0.9"/>
<rect x="52.70" y="419.13" width="3.40" height="3.40" fill="#3e2a16"/>
<text x="62.70" y="423.13" font-size="6.45" text-anchor="start" font-weight="normal" fill="#231f20" >NHS + 25 mg/mL ecu</text>
<text x="181.50" y="237.00" font-size="11" text-anchor="start" font-weight="bold" fill="#000" >E</text>
<text x="277.25" y="248.10" font-size="8.55" text-anchor="middle" font-weight="normal" fill="#231f20" style="stroke-width:0.22px">NHS in MgEGTA on DKO</text>
<path d="M222.60 314.03V317.64M221.60 314.03h2M221.60 317.64h2M225.54 289.43V293.78M224.54 289.43h2M224.54 293.78h2M228.48 279.45V284.71M227.48 279.45h2M227.48 284.71h2M231.42 276.26V282.18M230.42 276.26h2M230.42 282.18h2M234.36 277.30V283.28M233.36 277.30h2M233.36 283.28h2M237.30 280.71V286.13M236.30 280.71h2M236.30 286.13h2M240.23 285.13V289.66M239.23 285.13h2M239.23 289.66h2M243.17 288.75V292.47M242.17 288.75h2M242.17 292.47h2M246.11 292.03V295.24M245.11 292.03h2M245.11 295.24h2M249.05 294.80V297.77M248.05 294.80h2M248.05 297.77h2M251.99 297.19V300.07M250.99 297.19h2M250.99 300.07h2M254.93 299.29V302.14M253.93 299.29h2M253.93 302.14h2M257.87 300.90V303.75M256.87 300.90h2M256.87 303.75h2M260.81 302.09V304.93M259.81 302.09h2M259.81 304.93h2M263.75 303.10V305.94M262.75 303.10h2M262.75 305.94h2M266.69 303.97V306.82M265.69 303.97h2M265.69 306.82h2M269.63 304.76V307.60M268.63 304.76h2M268.63 307.60h2M272.57 305.50V308.34M271.57 305.50h2M271.57 308.34h2M275.50 306.24V309.08M274.50 306.24h2M274.50 309.08h2M278.44 306.95V309.80M277.44 306.95h2M277.44 309.80h2M281.38 307.62V310.46M280.38 307.62h2M280.38 310.46h2M284.32 308.25V311.09M283.32 308.25h2M283.32 311.09h2M287.26 308.86V311.71M286.26 308.86h2M286.26 311.71h2M290.20 309.49V312.33M289.20 309.49h2M289.20 312.33h2M293.14 310.15V312.99M292.14 310.15h2M292.14 312.99h2M296.08 310.84V313.68M295.08 310.84h2M295.08 313.68h2M299.02 311.54V314.39M298.02 311.54h2M298.02 314.39h2M301.96 312.26V315.10M300.96 312.26h2M300.96 315.10h2M304.90 312.98V315.82M303.90 312.98h2M303.90 315.82h2M307.84 313.70V316.54M306.84 313.70h2M306.84 316.54h2M310.77 314.41V317.26M309.77 314.41h2M309.77 317.26h2" stroke="#3a5a8a" stroke-width="0.6" fill="none"/>
<path d="M222.60 310.12V314.44M221.60 310.12h2M221.60 314.44h2M225.54 288.36V293.43M224.54 288.36h2M224.54 293.43h2M228.48 278.04V284.00M227.48 278.04h2M227.48 284.00h2M231.42 274.13V280.76M230.42 274.13h2M230.42 280.76h2M234.36 274.45V281.15M233.36 274.45h2M233.36 281.15h2M237.30 276.61V282.73M236.30 276.61h2M236.30 282.73h2M240.23 279.80V285.04M239.23 279.80h2M239.23 285.04h2M243.17 282.65V287.09M242.17 282.65h2M242.17 287.09h2M246.11 285.37V289.30M245.11 285.37h2M245.11 289.30h2M249.05 287.69V291.37M248.05 287.69h2M248.05 291.37h2M251.99 289.61V293.20M250.99 289.61h2M250.99 293.20h2M254.93 291.31V294.88M253.93 291.31h2M253.93 294.88h2M257.87 292.73V296.28M256.87 292.73h2M256.87 296.28h2M260.81 293.92V297.47M259.81 293.92h2M259.81 297.47h2M263.75 295.00V298.56M262.75 295.00h2M262.75 298.56h2M266.69 295.99V299.55M265.69 295.99h2M265.69 299.55h2M269.63 296.89V300.44M268.63 296.89h2M268.63 300.44h2M272.57 297.69V301.25M271.57 297.69h2M271.57 301.25h2M275.50 298.42V301.97M274.50 298.42h2M274.50 301.97h2M278.44 299.04V302.60M277.44 299.04h2M277.44 302.60h2M281.38 299.58V303.14M280.38 299.58h2M280.38 303.14h2M284.32 300.07V303.63M283.32 300.07h2M283.32 303.63h2M287.26 300.55V304.10M286.26 300.55h2M286.26 304.10h2M290.20 301.05V304.60M289.20 301.05h2M289.20 304.60h2M293.14 301.62V305.17M292.14 301.62h2M292.14 305.17h2M296.08 302.26V305.81M295.08 302.26h2M295.08 305.81h2M299.02 302.95V306.50M298.02 302.95h2M298.02 306.50h2M301.96 303.67V307.23M300.96 303.67h2M300.96 307.23h2M304.90 304.41V307.97M303.90 304.41h2M303.90 307.97h2M307.84 305.16V308.71M306.84 305.16h2M306.84 308.71h2M310.77 305.88V309.44M309.77 305.88h2M309.77 309.44h2" stroke="#6cc482" stroke-width="0.6" fill="none"/>
<path d="M222.60 311.90V316.21M221.60 311.90h2M221.60 316.21h2M225.54 288.36V293.43M224.54 288.36h2M224.54 293.43h2M228.48 278.04V284.00M227.48 278.04h2M227.48 284.00h2M231.42 274.13V280.76M230.42 274.13h2M230.42 280.76h2M234.36 274.45V281.15M233.36 274.45h2M233.36 281.15h2M237.30 276.75V282.88M236.30 276.75h2M236.30 282.88h2M240.23 280.15V285.39M239.23 280.15h2M239.23 285.39h2M243.17 283.13V287.57M242.17 283.13h2M242.17 287.57h2M246.11 285.97V289.90M245.11 285.97h2M245.11 289.90h2M249.05 288.40V292.08M248.05 288.40h2M248.05 292.08h2M251.99 290.45V294.04M250.99 290.45h2M250.99 294.04h2M254.93 292.28V295.84M253.93 292.28h2M253.93 295.84h2M257.87 293.79V297.35M256.87 293.79h2M256.87 297.35h2M260.81 295.05V298.61M259.81 295.05h2M259.81 298.61h2M263.75 296.19V299.74M262.75 296.19h2M262.75 299.74h2M266.69 297.22V300.77M265.69 297.22h2M265.69 300.77h2M269.63 298.16V301.71M268.63 298.16h2M268.63 301.71h2M272.57 299.02V302.58M271.57 299.02h2M271.57 302.58h2M275.50 299.84V303.39M274.50 299.84h2M274.50 303.39h2M278.44 300.58V304.14M277.44 300.58h2M277.44 304.14h2M281.38 301.25V304.81M280.38 301.25h2M280.38 304.81h2M284.32 301.88V305.43M283.32 301.88h2M283.32 305.43h2M287.26 302.48V306.04M286.26 302.48h2M286.26 306.04h2M290.20 303.10V306.65M289.20 303.10h2M289.20 306.65h2M293.14 303.75V307.30M292.14 303.75h2M292.14 307.30h2M296.08 304.44V307.99M295.08 304.44h2M295.08 307.99h2M299.02 305.14V308.70M298.02 305.14h2M298.02 308.70h2M301.96 305.86V309.41M300.96 305.86h2M300.96 309.41h2M304.90 306.58V310.13M303.90 306.58h2M303.90 310.13h2M307.84 307.30V310.85M306.84 307.30h2M306.84 310.85h2M310.77 308.01V311.57M309.77 308.01h2M309.77 311.57h2" stroke="#e060a8" stroke-width="0.6" fill="none"/>
<path d="M222.60 308.35V312.66M221.60 308.35h2M221.60 312.66h2M225.54 288.01V293.07M224.54 288.01h2M224.54 293.07h2M228.48 277.68V283.64M227.48 277.68h2M227.48 283.64h2M231.42 273.42V280.04M230.42 273.42h2M230.42 280.04h2M234.36 273.38V280.08M233.36 273.38h2M233.36 280.08h2M237.30 275.27V281.40M236.30 275.27h2M236.30 281.40h2M240.23 278.37V283.62M239.23 278.37h2M239.23 283.62h2M243.17 281.00V285.44M242.17 281.00h2M242.17 285.44h2M246.11 283.49V287.41M245.11 283.49h2M245.11 287.41h2M249.05 285.55V289.24M248.05 285.55h2M248.05 289.24h2M251.99 287.24V290.82M250.99 287.24h2M250.99 290.82h2M254.93 288.69V292.26M253.93 288.69h2M253.93 292.26h2M257.87 289.88V293.44M256.87 289.88h2M256.87 293.44h2M260.81 290.87V294.42M259.81 290.87h2M259.81 294.42h2M263.75 291.76V295.32M262.75 291.76h2M262.75 295.32h2M266.69 292.56V296.12M265.69 292.56h2M265.69 296.12h2M269.63 293.29V296.84M268.63 293.29h2M268.63 296.84h2M272.57 293.93V297.49M271.57 293.93h2M271.57 297.49h2M275.50 294.50V298.06M274.50 294.50h2M274.50 298.06h2M278.44 295.00V298.56M277.44 295.00h2M277.44 298.56h2M281.38 295.43V298.99M280.38 295.43h2M280.38 298.99h2M284.32 295.82V299.38M283.32 295.82h2M283.32 299.38h2M287.26 296.19V299.75M286.26 296.19h2M286.26 299.75h2M290.20 296.58V300.13M289.20 296.58h2M289.20 300.13h2M293.14 296.99V300.55M292.14 296.99h2M292.14 300.55h2M296.08 297.45V301.00M295.08 297.45h2M295.08 301.00h2M299.02 297.91V301.47M298.02 297.91h2M298.02 301.47h2M301.96 298.39V301.95M300.96 298.39h2M300.96 301.95h2M304.90 298.88V302.43M303.90 298.88h2M303.90 302.43h2M307.84 299.36V302.91M306.84 299.36h2M306.84 302.91h2M310.77 299.84V303.39M309.77 299.84h2M309.77 303.39h2" stroke="#f2b062" stroke-width="0.6" fill="none"/>
<path d="M222.60 304.79V309.10M221.60 304.79h2M221.60 309.10h2M225.54 288.01V293.08M224.54 288.01h2M224.54 293.08h2M228.48 277.68V283.64M227.48 277.68h2M227.48 283.64h2M231.42 273.42V280.04M230.42 273.42h2M230.42 280.04h2M234.36 273.38V280.08M233.36 273.38h2M233.36 280.08h2M237.30 275.14V281.27M236.30 275.14h2M236.30 281.27h2M240.23 278.02V283.26M239.23 278.02h2M239.23 283.26h2M243.17 280.39V284.83M242.17 280.39h2M242.17 284.83h2M246.11 282.60V286.52M245.11 282.60h2M245.11 286.52h2M249.05 284.49V288.17M248.05 284.49h2M248.05 288.17h2M251.99 286.14V289.73M250.99 286.14h2M250.99 289.73h2M254.93 287.63V291.19M253.93 287.63h2M253.93 291.19h2M257.87 288.82V292.37M256.87 288.82h2M256.87 292.37h2M260.81 289.74V293.30M259.81 289.74h2M259.81 293.30h2M263.75 290.57V294.12M262.75 290.57h2M262.75 294.12h2M266.69 291.30V294.85M265.69 291.30h2M265.69 294.85h2M269.63 291.95V295.50M268.63 291.95h2M268.63 295.50h2M272.57 292.54V296.09M271.57 292.54h2M271.57 296.09h2M275.50 293.08V296.64M274.50 293.08h2M274.50 296.64h2M278.44 293.57V297.12M277.44 293.57h2M277.44 297.12h2M281.38 294.00V297.55M280.38 294.00h2M280.38 297.55h2M284.32 294.39V297.94M283.32 294.39h2M283.32 297.94h2M287.26 294.77V298.32M286.26 294.77h2M286.26 298.32h2M290.20 295.15V298.71M289.20 295.15h2M289.20 298.71h2M293.14 295.57V299.13M292.14 295.57h2M292.14 299.13h2M296.08 296.02V299.58M295.08 296.02h2M295.08 299.58h2M299.02 296.49V300.05M298.02 296.49h2M298.02 300.05h2M301.96 296.97V300.52M300.96 296.97h2M300.96 300.52h2M304.90 297.45V301.01M303.90 297.45h2M303.90 301.01h2M307.84 297.94V301.49M306.84 297.94h2M306.84 301.49h2M310.77 298.42V301.97M309.77 298.42h2M309.77 301.97h2" stroke="#aaa4d6" stroke-width="0.6" fill="none"/>
<path d="M222.60 306.57V310.88M221.60 306.57h2M221.60 310.88h2M225.54 287.65V292.72M224.54 287.65h2M224.54 292.72h2M228.48 276.97V282.93M227.48 276.97h2M227.48 282.93h2M231.42 272.35V278.98M230.42 272.35h2M230.42 278.98h2M234.36 271.96V278.66M233.36 271.96h2M233.36 278.66h2M237.30 273.74V279.86M236.30 273.74h2M236.30 279.86h2M240.23 276.60V281.84M239.23 276.60h2M239.23 281.84h2M243.17 278.88V283.32M242.17 278.88h2M242.17 283.32h2M246.11 280.95V284.88M245.11 280.95h2M245.11 284.88h2M249.05 282.71V286.39M248.05 282.71h2M248.05 286.39h2M251.99 284.25V287.84M250.99 284.25h2M250.99 287.84h2M254.93 285.62V289.19M253.93 285.62h2M253.93 289.19h2M257.87 286.68V290.24M256.87 286.68h2M256.87 290.24h2M260.81 287.48V291.03M259.81 287.48h2M259.81 291.03h2M263.75 288.16V291.72M262.75 288.16h2M262.75 291.72h2M266.69 288.77V292.32M265.69 288.77h2M265.69 292.32h2M269.63 289.30V292.86M268.63 289.30h2M268.63 292.86h2M272.57 289.79V293.34M271.57 289.79h2M271.57 293.34h2M275.50 290.24V293.79M274.50 290.24h2M274.50 293.79h2M278.44 290.65V294.20M277.44 290.65h2M277.44 294.20h2M281.38 291.00V294.55M280.38 291.00h2M280.38 294.55h2M284.32 291.32V294.87M283.32 291.32h2M283.32 294.87h2M287.26 291.64V295.19M286.26 291.64h2M286.26 295.19h2M290.20 291.98V295.53M289.20 291.98h2M289.20 295.53h2M293.14 292.37V295.93M292.14 292.37h2M292.14 295.93h2M296.08 292.83V296.39M295.08 292.83h2M295.08 296.39h2M299.02 293.34V296.90M298.02 293.34h2M298.02 296.90h2M301.96 293.89V297.45M300.96 293.89h2M300.96 297.45h2M304.90 294.46V298.01M303.90 294.46h2M303.90 298.01h2M307.84 295.02V298.58M306.84 295.02h2M306.84 298.58h2M310.77 295.57V299.13M309.77 295.57h2M309.77 299.13h2" stroke="#c8384c" stroke-width="0.6" fill="none"/>
<polyline points="222.60,315.83 225.54,291.61 228.48,282.08 231.42,279.22 234.36,280.29 237.30,283.42 240.23,287.39 243.17,290.61 246.11,293.63 249.05,296.28 251.99,298.63 254.93,300.72 257.87,302.33 260.81,303.51 263.75,304.52 266.69,305.39 269.63,306.18 272.57,306.92 275.50,307.66 278.44,308.38 281.38,309.04 284.32,309.67 287.26,310.28 290.20,310.91 293.14,311.57 296.08,312.26 299.02,312.96 301.96,313.68 304.90,314.40 307.84,315.12 310.77,315.83" fill="none" stroke="#1c355e" stroke-width="0.7"/><circle cx="222.60" cy="315.83" r="1.25" fill="#1c355e"/><circle cx="225.54" cy="291.61" r="1.25" fill="#1c355e"/><circle cx="228.48" cy="282.08" r="1.25" fill="#1c355e"/><circle cx="231.42" cy="279.22" r="1.25" fill="#1c355e"/><circle cx="234.36" cy="280.29" r="1.25" fill="#1c355e"/><circle cx="237.30" cy="283.42" r="1.25" fill="#1c355e"/><circle cx="240.23" cy="287.39" r="1.25" fill="#1c355e"/><circle cx="243.17" cy="290.61" r="1.25" fill="#1c355e"/><circle cx="246.11" cy="293.63" r="1.25" fill="#1c355e"/><circle cx="249.05" cy="296.28" r="1.25" fill="#1c355e"/><circle cx="251.99" cy="298.63" r="1.25" fill="#1c355e"/><circle cx="254.93" cy="300.72" r="1.25" fill="#1c355e"/><circle cx="257.87" cy="302.33" r="1.25" fill="#1c355e"/><circle cx="260.81" cy="303.51" r="1.25" fill="#1c355e"/><circle cx="263.75" cy="304.52" r="1.25" fill="#1c355e"/><circle cx="266.69" cy="305.39" r="1.25" fill="#1c355e"/><circle cx="269.63" cy="306.18" r="1.25" fill="#1c355e"/><circle cx="272.57" cy="306.92" r="1.25" fill="#1c355e"/><circle cx="275.50" cy="307.66" r="1.25" fill="#1c355e"/><circle cx="278.44" cy="308.38" r="1.25" fill="#1c355e"/><circle cx="281.38" cy="309.04" r="1.25" fill="#1c355e"/><circle cx="284.32" cy="309.67" r="1.25" fill="#1c355e"/><circle cx="287.26" cy="310.28" r="1.25" fill="#1c355e"/><circle cx="290.20" cy="310.91" r="1.25" fill="#1c355e"/><circle cx="293.14" cy="311.57" r="1.25" fill="#1c355e"/><circle cx="296.08" cy="312.26" r="1.25" fill="#1c355e"/><circle cx="299.02" cy="312.96" r="1.25" fill="#1c355e"/><circle cx="301.96" cy="313.68" r="1.25" fill="#1c355e"/><circle cx="304.90" cy="314.40" r="1.25" fill="#1c355e"/><circle cx="307.84" cy="315.12" r="1.25" fill="#1c355e"/><circle cx="310.77" cy="315.83" r="1.25" fill="#1c355e"/>
<polyline points="222.60,312.28 225.54,290.90 228.48,281.02 231.42,277.44 234.36,277.80 237.30,279.67 240.23,282.42 243.17,284.87 246.11,287.34 249.05,289.53 251.99,291.41 254.93,293.10 257.87,294.50 260.81,295.70 263.75,296.78 266.69,297.77 269.63,298.66 272.57,299.47 275.50,300.19 278.44,300.82 281.38,301.36 284.32,301.85 287.26,302.32 290.20,302.83 293.14,303.39 296.08,304.03 299.02,304.72 301.96,305.45 304.90,306.19 307.84,306.93 310.77,307.66" fill="none" stroke="#3c9e5a" stroke-width="0.7"/><path d="M222.60 310.84L224.04 313.36L221.16 313.36Z" fill="#3c9e5a"/><path d="M225.54 289.46L226.98 291.97L224.10 291.97Z" fill="#3c9e5a"/><path d="M228.48 279.58L229.92 282.10L227.04 282.10Z" fill="#3c9e5a"/><path d="M231.42 276.00L232.85 278.52L229.98 278.52Z" fill="#3c9e5a"/><path d="M234.36 276.36L235.79 278.88L232.92 278.88Z" fill="#3c9e5a"/><path d="M237.30 278.23L238.73 280.75L235.86 280.75Z" fill="#3c9e5a"/><path d="M240.23 280.98L241.67 283.50L238.80 283.50Z" fill="#3c9e5a"/><path d="M243.17 283.43L244.61 285.94L241.74 285.94Z" fill="#3c9e5a"/><path d="M246.11 285.90L247.55 288.41L244.68 288.41Z" fill="#3c9e5a"/><path d="M249.05 288.09L250.49 290.61L247.62 290.61Z" fill="#3c9e5a"/><path d="M251.99 289.97L253.43 292.49L250.55 292.49Z" fill="#3c9e5a"/><path d="M254.93 291.66L256.37 294.17L253.49 294.17Z" fill="#3c9e5a"/><path d="M257.87 293.07L259.31 295.58L256.43 295.58Z" fill="#3c9e5a"/><path d="M260.81 294.26L262.25 296.77L259.37 296.77Z" fill="#3c9e5a"/><path d="M263.75 295.34L265.19 297.86L262.31 297.86Z" fill="#3c9e5a"/><path d="M266.69 296.33L268.12 298.85L265.25 298.85Z" fill="#3c9e5a"/><path d="M269.63 297.23L271.06 299.74L268.19 299.74Z" fill="#3c9e5a"/><path d="M272.57 298.03L274.00 300.55L271.13 300.55Z" fill="#3c9e5a"/><path d="M275.50 298.76L276.94 301.27L274.07 301.27Z" fill="#3c9e5a"/><path d="M278.44 299.38L279.88 301.90L277.01 301.90Z" fill="#3c9e5a"/><path d="M281.38 299.92L282.82 302.44L279.95 302.44Z" fill="#3c9e5a"/><path d="M284.32 300.41L285.76 302.93L282.88 302.93Z" fill="#3c9e5a"/><path d="M287.26 300.89L288.70 303.40L285.82 303.40Z" fill="#3c9e5a"/><path d="M290.20 301.39L291.64 303.91L288.76 303.91Z" fill="#3c9e5a"/><path d="M293.14 301.95L294.58 304.47L291.70 304.47Z" fill="#3c9e5a"/><path d="M296.08 302.60L297.52 305.11L294.64 305.11Z" fill="#3c9e5a"/><path d="M299.02 303.29L300.46 305.80L297.58 305.80Z" fill="#3c9e5a"/><path d="M301.96 304.01L303.39 306.53L300.52 306.53Z" fill="#3c9e5a"/><path d="M304.90 304.75L306.33 307.27L303.46 307.27Z" fill="#3c9e5a"/><path d="M307.84 305.50L309.27 308.01L306.40 308.01Z" fill="#3c9e5a"/><path d="M310.77 306.22L312.21 308.74L309.34 308.74Z" fill="#3c9e5a"/>
<polyline points="222.60,314.06 225.54,290.89 228.48,281.02 231.42,277.44 234.36,277.80 237.30,279.81 240.23,282.77 243.17,285.35 246.11,287.93 249.05,290.24 251.99,292.25 254.93,294.06 257.87,295.57 260.81,296.83 263.75,297.97 266.69,298.99 269.63,299.93 272.57,300.80 275.50,301.62 278.44,302.36 281.38,303.03 284.32,303.65 287.26,304.26 290.20,304.87 293.14,305.53 296.08,306.22 299.02,306.92 301.96,307.64 304.90,308.36 307.84,309.08 310.77,309.79" fill="none" stroke="#cc1f7e" stroke-width="0.7"/><path d="M222.60 315.50L224.04 312.98L221.16 312.98Z" fill="#cc1f7e"/><path d="M225.54 292.33L226.98 289.82L224.10 289.82Z" fill="#cc1f7e"/><path d="M228.48 282.45L229.92 279.94L227.04 279.94Z" fill="#cc1f7e"/><path d="M231.42 278.88L232.85 276.36L229.98 276.36Z" fill="#cc1f7e"/><path d="M234.36 279.24L235.79 276.72L232.92 276.72Z" fill="#cc1f7e"/><path d="M237.30 281.25L238.73 278.73L235.86 278.73Z" fill="#cc1f7e"/><path d="M240.23 284.21L241.67 281.70L238.80 281.70Z" fill="#cc1f7e"/><path d="M243.17 286.79L244.61 284.27L241.74 284.27Z" fill="#cc1f7e"/><path d="M246.11 289.37L247.55 286.86L244.68 286.86Z" fill="#cc1f7e"/><path d="M249.05 291.68L250.49 289.16L247.62 289.16Z" fill="#cc1f7e"/><path d="M251.99 293.69L253.43 291.17L250.55 291.17Z" fill="#cc1f7e"/><path d="M254.93 295.50L256.37 292.98L253.49 292.98Z" fill="#cc1f7e"/><path d="M257.87 297.01L259.31 294.49L256.43 294.49Z" fill="#cc1f7e"/><path d="M260.81 298.27L262.25 295.75L259.37 295.75Z" fill="#cc1f7e"/><path d="M263.75 299.40L265.19 296.89L262.31 296.89Z" fill="#cc1f7e"/><path d="M266.69 300.43L268.12 297.92L265.25 297.92Z" fill="#cc1f7e"/><path d="M269.63 301.37L271.06 298.86L268.19 298.86Z" fill="#cc1f7e"/><path d="M272.57 302.24L274.00 299.72L271.13 299.72Z" fill="#cc1f7e"/><path d="M275.50 303.05L276.94 300.54L274.07 300.54Z" fill="#cc1f7e"/><path d="M278.44 303.80L279.88 301.28L277.01 301.28Z" fill="#cc1f7e"/><path d="M281.38 304.47L282.82 301.95L279.95 301.95Z" fill="#cc1f7e"/><path d="M284.32 305.09L285.76 302.58L282.88 302.58Z" fill="#cc1f7e"/><path d="M287.26 305.70L288.70 303.18L285.82 303.18Z" fill="#cc1f7e"/><path d="M290.20 306.31L291.64 303.80L288.76 303.80Z" fill="#cc1f7e"/><path d="M293.14 306.96L294.58 304.45L291.70 304.45Z" fill="#cc1f7e"/><path d="M296.08 307.65L297.52 305.14L294.64 305.14Z" fill="#cc1f7e"/><path d="M299.02 308.36L300.46 305.84L297.58 305.84Z" fill="#cc1f7e"/><path d="M301.96 309.07L303.39 306.56L300.52 306.56Z" fill="#cc1f7e"/><path d="M304.90 309.79L306.33 307.28L303.46 307.28Z" fill="#cc1f7e"/><path d="M307.84 310.51L309.27 308.00L306.40 308.00Z" fill="#cc1f7e"/><path d="M310.77 311.23L312.21 308.71L309.34 308.71Z" fill="#cc1f7e"/>
<polyline points="222.60,310.50 225.54,290.54 228.48,280.66 231.42,276.73 234.36,276.73 237.30,278.33 240.23,281.00 243.17,283.22 246.11,285.45 249.05,287.39 251.99,289.03 254.93,290.47 257.87,291.66 260.81,292.65 263.75,293.54 266.69,294.34 269.63,295.06 272.57,295.71 275.50,296.28 278.44,296.78 281.38,297.21 284.32,297.60 287.26,297.97 290.20,298.35 293.14,298.77 296.08,299.22 299.02,299.69 301.96,300.17 304.90,300.65 307.84,301.14 310.77,301.62" fill="none" stroke="#eb953a" stroke-width="0.7"/><path d="M222.60 308.94L224.16 310.50L222.60 312.06L221.04 310.50Z" fill="#eb953a"/><path d="M225.54 288.98L227.10 290.54L225.54 292.10L223.98 290.54Z" fill="#eb953a"/><path d="M228.48 279.10L230.04 280.66L228.48 282.23L226.92 280.66Z" fill="#eb953a"/><path d="M231.42 275.17L232.98 276.73L231.42 278.29L229.85 276.73Z" fill="#eb953a"/><path d="M234.36 275.17L235.92 276.73L234.36 278.29L232.79 276.73Z" fill="#eb953a"/><path d="M237.30 276.77L238.86 278.33L237.30 279.90L235.73 278.33Z" fill="#eb953a"/><path d="M240.23 279.43L241.80 281.00L240.23 282.56L238.67 281.00Z" fill="#eb953a"/><path d="M243.17 281.66L244.74 283.22L243.17 284.79L241.61 283.22Z" fill="#eb953a"/><path d="M246.11 283.89L247.68 285.45L246.11 287.01L244.55 285.45Z" fill="#eb953a"/><path d="M249.05 285.83L250.62 287.39L249.05 288.96L247.49 287.39Z" fill="#eb953a"/><path d="M251.99 287.47L253.55 289.03L251.99 290.59L250.43 289.03Z" fill="#eb953a"/><path d="M254.93 288.91L256.49 290.47L254.93 292.04L253.37 290.47Z" fill="#eb953a"/><path d="M257.87 290.10L259.43 291.66L257.87 293.22L256.31 291.66Z" fill="#eb953a"/><path d="M260.81 291.08L262.37 292.65L260.81 294.21L259.25 292.65Z" fill="#eb953a"/><path d="M263.75 291.98L265.31 293.54L263.75 295.10L262.19 293.54Z" fill="#eb953a"/><path d="M266.69 292.78L268.25 294.34L266.69 295.90L265.12 294.34Z" fill="#eb953a"/><path d="M269.63 293.50L271.19 295.06L269.63 296.63L268.06 295.06Z" fill="#eb953a"/><path d="M272.57 294.15L274.13 295.71L272.57 297.27L271.00 295.71Z" fill="#eb953a"/><path d="M275.50 294.72L277.07 296.28L275.50 297.85L273.94 296.28Z" fill="#eb953a"/><path d="M278.44 295.22L280.01 296.78L278.44 298.34L276.88 296.78Z" fill="#eb953a"/><path d="M281.38 295.65L282.95 297.21L281.38 298.77L279.82 297.21Z" fill="#eb953a"/><path d="M284.32 296.04L285.88 297.60L284.32 299.16L282.76 297.60Z" fill="#eb953a"/><path d="M287.26 296.41L288.82 297.97L287.26 299.53L285.70 297.97Z" fill="#eb953a"/><path d="M290.20 296.79L291.76 298.35L290.20 299.92L288.64 298.35Z" fill="#eb953a"/><path d="M293.14 297.21L294.70 298.77L293.14 300.33L291.58 298.77Z" fill="#eb953a"/><path d="M296.08 297.66L297.64 299.22L296.08 300.79L294.52 299.22Z" fill="#eb953a"/><path d="M299.02 298.13L300.58 299.69L299.02 301.25L297.46 299.69Z" fill="#eb953a"/><path d="M301.96 298.61L303.52 300.17L301.96 301.73L300.39 300.17Z" fill="#eb953a"/><path d="M304.90 299.09L306.46 300.65L304.90 302.22L303.33 300.65Z" fill="#eb953a"/><path d="M307.84 299.57L309.40 301.14L307.84 302.70L306.27 301.14Z" fill="#eb953a"/><path d="M310.77 300.05L312.34 301.62L310.77 303.18L309.21 301.62Z" fill="#eb953a"/>
<polyline points="222.60,306.95 225.54,290.55 228.48,280.66 231.42,276.73 234.36,276.73 237.30,278.21 240.23,280.64 243.17,282.61 246.11,284.56 249.05,286.33 251.99,287.94 254.93,289.41 257.87,290.59 260.81,291.52 263.75,292.34 266.69,293.07 269.63,293.73 272.57,294.32 275.50,294.86 278.44,295.35 281.38,295.77 284.32,296.17 287.26,296.54 290.20,296.93 293.14,297.35 296.08,297.80 299.02,298.27 301.96,298.75 304.90,299.23 307.84,299.71 310.77,300.19" fill="none" stroke="#8a84c0" stroke-width="0.7"/><circle cx="222.60" cy="306.95" r="1.25" fill="#8a84c0"/><circle cx="225.54" cy="290.55" r="1.25" fill="#8a84c0"/><circle cx="228.48" cy="280.66" r="1.25" fill="#8a84c0"/><circle cx="231.42" cy="276.73" r="1.25" fill="#8a84c0"/><circle cx="234.36" cy="276.73" r="1.25" fill="#8a84c0"/><circle cx="237.30" cy="278.21" r="1.25" fill="#8a84c0"/><circle cx="240.23" cy="280.64" r="1.25" fill="#8a84c0"/><circle cx="243.17" cy="282.61" r="1.25" fill="#8a84c0"/><circle cx="246.11" cy="284.56" r="1.25" fill="#8a84c0"/><circle cx="249.05" cy="286.33" r="1.25" fill="#8a84c0"/><circle cx="251.99" cy="287.94" r="1.25" fill="#8a84c0"/><circle cx="254.93" cy="289.41" r="1.25" fill="#8a84c0"/><circle cx="257.87" cy="290.59" r="1.25" fill="#8a84c0"/><circle cx="260.81" cy="291.52" r="1.25" fill="#8a84c0"/><circle cx="263.75" cy="292.34" r="1.25" fill="#8a84c0"/><circle cx="266.69" cy="293.07" r="1.25" fill="#8a84c0"/><circle cx="269.63" cy="293.73" r="1.25" fill="#8a84c0"/><circle cx="272.57" cy="294.32" r="1.25" fill="#8a84c0"/><circle cx="275.50" cy="294.86" r="1.25" fill="#8a84c0"/><circle cx="278.44" cy="295.35" r="1.25" fill="#8a84c0"/><circle cx="281.38" cy="295.77" r="1.25" fill="#8a84c0"/><circle cx="284.32" cy="296.17" r="1.25" fill="#8a84c0"/><circle cx="287.26" cy="296.54" r="1.25" fill="#8a84c0"/><circle cx="290.20" cy="296.93" r="1.25" fill="#8a84c0"/><circle cx="293.14" cy="297.35" r="1.25" fill="#8a84c0"/><circle cx="296.08" cy="297.80" r="1.25" fill="#8a84c0"/><circle cx="299.02" cy="298.27" r="1.25" fill="#8a84c0"/><circle cx="301.96" cy="298.75" r="1.25" fill="#8a84c0"/><circle cx="304.90" cy="299.23" r="1.25" fill="#8a84c0"/><circle cx="307.84" cy="299.71" r="1.25" fill="#8a84c0"/><circle cx="310.77" cy="300.19" r="1.25" fill="#8a84c0"/>
<polyline points="222.60,308.73 225.54,290.19 228.48,279.95 231.42,275.66 234.36,275.31 237.30,276.80 240.23,279.22 243.17,281.10 246.11,282.91 249.05,284.55 251.99,286.04 254.93,287.40 257.87,288.46 260.81,289.25 263.75,289.94 266.69,290.54 269.63,291.08 272.57,291.56 275.50,292.02 278.44,292.42 281.38,292.77 284.32,293.10 287.26,293.41 290.20,293.76 293.14,294.15 296.08,294.61 299.02,295.12 301.96,295.67 304.90,296.24 307.84,296.80 310.77,297.35" fill="none" stroke="#b8152f" stroke-width="0.7"/><rect x="221.35" y="307.48" width="2.50" height="2.50" fill="#b8152f"/><rect x="224.29" y="288.94" width="2.50" height="2.50" fill="#b8152f"/><rect x="227.23" y="278.70" width="2.50" height="2.50" fill="#b8152f"/><rect x="230.17" y="274.41" width="2.50" height="2.50" fill="#b8152f"/><rect x="233.11" y="274.06" width="2.50" height="2.50" fill="#b8152f"/><rect x="236.05" y="275.55" width="2.50" height="2.50" fill="#b8152f"/><rect x="238.98" y="277.97" width="2.50" height="2.50" fill="#b8152f"/><rect x="241.92" y="279.85" width="2.50" height="2.50" fill="#b8152f"/><rect x="244.86" y="281.66" width="2.50" height="2.50" fill="#b8152f"/><rect x="247.80" y="283.30" width="2.50" height="2.50" fill="#b8152f"/><rect x="250.74" y="284.79" width="2.50" height="2.50" fill="#b8152f"/><rect x="253.68" y="286.15" width="2.50" height="2.50" fill="#b8152f"/><rect x="256.62" y="287.21" width="2.50" height="2.50" fill="#b8152f"/><rect x="259.56" y="288.00" width="2.50" height="2.50" fill="#b8152f"/><rect x="262.50" y="288.69" width="2.50" height="2.50" fill="#b8152f"/><rect x="265.44" y="289.29" width="2.50" height="2.50" fill="#b8152f"/><rect x="268.38" y="289.83" width="2.50" height="2.50" fill="#b8152f"/><rect x="271.32" y="290.31" width="2.50" height="2.50" fill="#b8152f"/><rect x="274.25" y="290.77" width="2.50" height="2.50" fill="#b8152f"/><rect x="277.19" y="291.17" width="2.50" height="2.50" fill="#b8152f"/><rect x="280.13" y="291.52" width="2.50" height="2.50" fill="#b8152f"/><rect x="283.07" y="291.85" width="2.50" height="2.50" fill="#b8152f"/><rect x="286.01" y="292.16" width="2.50" height="2.50" fill="#b8152f"/><rect x="288.95" y="292.51" width="2.50" height="2.50" fill="#b8152f"/><rect x="291.89" y="292.90" width="2.50" height="2.50" fill="#b8152f"/><rect x="294.83" y="293.36" width="2.50" height="2.50" fill="#b8152f"/><rect x="297.77" y="293.87" width="2.50" height="2.50" fill="#b8152f"/><rect x="300.71" y="294.42" width="2.50" height="2.50" fill="#b8152f"/><rect x="303.65" y="294.99" width="2.50" height="2.50" fill="#b8152f"/><rect x="306.59" y="295.55" width="2.50" height="2.50" fill="#b8152f"/><rect x="309.52" y="296.10" width="2.50" height="2.50" fill="#b8152f"/>
<path d="M222.60 253.90V326.50H330.60" stroke="#000" stroke-width="0.9" fill="none"/>
<text x="217.80" y="328.75" font-size="6.3" text-anchor="end" font-weight="normal" fill="#231f20" letter-spacing="0.2">0</text>
<text x="217.80" y="310.98" font-size="6.3" text-anchor="end" font-weight="normal" fill="#231f20" letter-spacing="0.2">50000</text>
<text x="217.80" y="293.20" font-size="6.3" text-anchor="end" font-weight="normal" fill="#231f20" letter-spacing="0.2">100000</text>
<text x="217.80" y="275.43" font-size="6.3" text-anchor="end" font-weight="normal" fill="#231f20" letter-spacing="0.2">150000</text>
<text x="217.80" y="257.65" font-size="6.3" text-anchor="end" font-weight="normal" fill="#231f20" letter-spacing="0.2">200000</text>
<text x="222.65" y="338.40" font-size="6.3" text-anchor="middle" font-weight="normal" fill="#231f20" letter-spacing="0.1">0:00:00</text>
<text x="257.92" y="338.40" font-size="6.3" text-anchor="middle" font-weight="normal" fill="#231f20" letter-spacing="0.1">1:00:00</text>
<text x="293.19" y="338.40" font-size="6.3" text-anchor="middle" font-weight="normal" fill="#231f20" letter-spacing="0.1">2:00:00</text>
<text x="328.46" y="338.40" font-size="6.3" text-anchor="middle" font-weight="normal" fill="#231f20" letter-spacing="0.1">3:00:00</text>
<path d="M219.60 326.50H222.60M219.60 308.73H222.60M219.60 290.95H222.60M219.60 273.18H222.60M219.60 255.40H222.60M222.60 326.50V329.50M257.87 326.50V329.50M293.14 326.50V329.50M328.41 326.50V329.50" stroke="#000" stroke-width="0.9" fill="none"/>
<text x="0" y="0" font-size="8.4" text-anchor="middle" fill="#231f20" textLength="11.6" lengthAdjust="spacingAndGlyphs" style="stroke-width:0.18px" transform="translate(189.60 290.00) rotate(-90)">RLU</text>
<text x="277.30" y="349.60" font-size="8.4" text-anchor="middle" fill="#231f20" textLength="24.2" lengthAdjust="spacingAndGlyphs" style="stroke-width:0.18px">Time (h)</text>
<path d="M222.50 361.25H232.70" stroke="#1c355e" stroke-width="0.9"/>
<circle cx="227.60" cy="361.25" r="1.70" fill="#1c355e"/>
<text x="236.00" y="363.55" font-size="6.45" text-anchor="start" font-weight="normal" fill="#231f20" >NHS in MgEGTA on DKO</text>
<path d="M222.50 371.18H232.70" stroke="#b8152f" stroke-width="0.9"/>
<rect x="225.90" y="369.48" width="3.40" height="3.40" fill="#b8152f"/>
<text x="236.00" y="373.48" font-size="6.45" text-anchor="start" font-weight="normal" fill="#231f20" >HI NHS</text>
<path d="M222.50 381.11H232.70" stroke="#3c9e5a" stroke-width="0.9"/>
<path d="M227.60 379.16L229.56 382.58L225.64 382.58Z" fill="#3c9e5a"/>
<text x="236.00" y="383.41" font-size="6.45" text-anchor="start" font-weight="normal" fill="#231f20" >NHS + 0.1 μM FDi</text>
<path d="M222.50 391.04H232.70" stroke="#cc1f7e" stroke-width="0.9"/>
<path d="M227.60 393.00L229.56 389.57L225.64 389.57Z" fill="#cc1f7e"/>
<text x="236.00" y="393.34" font-size="6.45" text-anchor="start" font-weight="normal" fill="#231f20" >NHS + 0.2 μM FDi</text>
<path d="M222.50 400.97H232.70" stroke="#eb953a" stroke-width="0.9"/>
<path d="M227.60 398.85L229.72 400.97L227.60 403.10L225.47 400.97Z" fill="#eb953a"/>
<text x="236.00" y="403.27" font-size="6.45" text-anchor="start" font-weight="normal" fill="#231f20" >NHS + 0.5 μM FDi</text>
<path d="M222.50 410.90H232.70" stroke="#8a84c0" stroke-width="0.9"/>
<circle cx="227.60" cy="410.90" r="1.70" fill="#8a84c0"/>
<text x="236.00" y="413.20" font-size="6.45" text-anchor="start" font-weight="normal" fill="#231f20" >NHS + 1 μM FDi</text>
<text x="355.00" y="237.00" font-size="11" text-anchor="start" font-weight="bold" fill="#000" >F</text>
<text x="451.00" y="247.30" font-size="8.55" text-anchor="middle" font-weight="normal" fill="#231f20" style="stroke-width:0.22px">NHS in MgEGTA on DKO</text>
<path d="M395.80 315.13V319.49M394.80 315.13h2M394.80 319.49h2M398.76 287.73V292.86M397.76 287.73h2M397.76 292.86h2M401.72 277.99V284.02M400.72 277.99h2M400.72 284.02h2M404.68 276.93V283.64M403.68 276.93h2M403.68 283.64h2M407.63 278.34V285.12M406.63 278.34h2M406.63 285.12h2M410.59 281.61V287.81M409.59 281.61h2M409.59 287.81h2M413.55 285.54V290.84M412.55 285.54h2M412.55 290.84h2M416.51 288.80V293.29M415.51 288.80h2M415.51 293.29h2M419.47 291.73V295.70M418.47 291.73h2M418.47 295.70h2M422.43 294.24V297.96M421.43 294.24h2M421.43 297.96h2M425.38 296.47V300.10M424.38 296.47h2M424.38 300.10h2M428.34 298.46V302.07M427.34 298.46h2M427.34 302.07h2M431.30 300.06V303.65M430.30 300.06h2M430.30 303.65h2M434.26 301.30V304.89M433.26 301.30h2M433.26 304.89h2M437.22 302.38V305.98M436.22 302.38h2M436.22 305.98h2M440.18 303.34V306.94M439.18 303.34h2M439.18 306.94h2M443.13 304.21V307.81M442.13 304.21h2M442.13 307.81h2M446.09 305.02V308.62M445.09 305.02h2M445.09 308.62h2M449.05 305.81V309.40M448.05 305.81h2M448.05 309.40h2M452.01 306.55V310.14M451.01 306.55h2M451.01 310.14h2M454.97 307.22V310.82M453.97 307.22h2M453.97 310.82h2M457.93 307.86V311.45M456.93 307.86h2M456.93 311.45h2M460.88 308.47V312.07M459.88 308.47h2M459.88 312.07h2M463.84 309.10V312.70M462.84 309.10h2M462.84 312.70h2M466.80 309.76V313.36M465.80 309.76h2M465.80 313.36h2M469.76 310.46V314.06M468.76 310.46h2M468.76 314.06h2M472.72 311.17V314.77M471.72 311.17h2M471.72 314.77h2M475.68 311.90V315.49M474.68 311.90h2M474.68 315.49h2M478.63 312.63V316.22M477.63 312.63h2M477.63 316.22h2M481.59 313.35V316.95M480.59 313.35h2M480.59 316.95h2M484.55 314.08V317.67M483.55 314.08h2M483.55 317.67h2" stroke="#e060a8" stroke-width="0.6" fill="none"/>
<path d="M395.80 310.10V313.74M394.80 310.10h2M394.80 313.74h2M398.76 288.10V292.50M397.76 288.10h2M397.76 292.50h2M401.72 278.71V284.02M400.72 278.71h2M400.72 284.02h2M404.68 278.37V284.35M403.68 278.37h2M403.68 284.35h2M407.63 280.14V286.20M406.63 280.14h2M406.63 286.20h2M410.59 283.34V288.82M409.59 283.34h2M409.59 288.82h2M413.55 286.98V291.56M412.55 286.98h2M412.55 291.56h2M416.51 290.11V293.88M415.51 290.11h2M415.51 293.88h2M419.47 292.92V296.17M418.47 292.92h2M418.47 296.17h2M422.43 295.32V298.32M421.43 295.32h2M421.43 298.32h2M425.38 297.42V300.33M424.38 297.42h2M424.38 300.33h2M428.34 299.29V302.17M427.34 299.29h2M427.34 302.17h2M431.30 300.77V303.65M430.30 300.77h2M430.30 303.65h2M434.26 301.94V304.82M433.26 301.94h2M433.26 304.82h2M437.22 302.96V305.84M436.22 302.96h2M436.22 305.84h2M440.18 303.87V306.74M439.18 303.87h2M439.18 306.74h2M443.13 304.68V307.56M442.13 304.68h2M442.13 307.56h2M446.09 305.44V308.32M445.09 305.44h2M445.09 308.32h2M449.05 306.17V309.04M448.05 306.17h2M448.05 309.04h2M452.01 306.85V309.73M451.01 306.85h2M451.01 309.73h2M454.97 307.47V310.35M453.97 307.47h2M453.97 310.35h2M457.93 308.06V310.93M456.93 308.06h2M456.93 310.93h2M460.88 308.62V311.49M459.88 308.62h2M459.88 311.49h2M463.84 309.18V312.06M462.84 309.18h2M462.84 312.06h2M466.80 309.76V312.64M465.80 309.76h2M465.80 312.64h2M469.76 310.36V313.24M468.76 310.36h2M468.76 313.24h2M472.72 310.96V313.84M471.72 310.96h2M471.72 313.84h2M475.68 311.56V314.44M474.68 311.56h2M474.68 314.44h2M478.63 312.16V315.04M477.63 312.16h2M477.63 315.04h2M481.59 312.76V315.63M480.59 312.76h2M480.59 315.63h2M484.55 313.36V316.23M483.55 313.36h2M483.55 316.23h2" stroke="#3a5a8a" stroke-width="0.6" fill="none"/>
<path d="M395.80 311.90V315.54M394.80 311.90h2M394.80 315.54h2M398.76 287.38V291.78M397.76 287.38h2M397.76 291.78h2M401.72 278.00V283.31M400.72 278.00h2M400.72 283.31h2M404.68 276.57V282.56M403.68 276.57h2M403.68 282.56h2M407.63 277.98V284.04M406.63 277.98h2M406.63 284.04h2M410.59 280.62V286.09M409.59 280.62h2M409.59 286.09h2M413.55 283.74V288.33M412.55 283.74h2M412.55 288.33h2M416.51 286.67V290.44M415.51 286.67h2M415.51 290.44h2M419.47 289.40V292.66M418.47 289.40h2M418.47 292.66h2M422.43 291.72V294.73M421.43 291.72h2M421.43 294.73h2M425.38 293.67V296.58M424.38 293.67h2M424.38 296.58h2M428.34 295.39V298.28M427.34 295.39h2M427.34 298.28h2M431.30 296.82V299.70M430.30 296.82h2M430.30 299.70h2M434.26 298.01V300.89M433.26 298.01h2M433.26 300.89h2M437.22 299.08V301.96M436.22 299.08h2M436.22 301.96h2M440.18 300.05V302.93M439.18 300.05h2M439.18 302.93h2M443.13 300.95V303.82M442.13 300.95h2M442.13 303.82h2M446.09 301.78V304.66M445.09 301.78h2M445.09 304.66h2M449.05 302.57V305.45M448.05 302.57h2M448.05 305.45h2M452.01 303.33V306.20M451.01 303.33h2M451.01 306.20h2M454.97 304.03V306.90M453.97 304.03h2M453.97 306.90h2M457.93 304.69V307.57M456.93 304.69h2M456.93 307.57h2M460.88 305.32V308.20M459.88 305.32h2M459.88 308.20h2M463.84 305.93V308.81M462.84 305.93h2M462.84 308.81h2M466.80 306.53V309.40M465.80 306.53h2M465.80 309.40h2M469.76 307.10V309.98M468.76 307.10h2M468.76 309.98h2M472.72 307.65V310.53M471.72 307.65h2M471.72 310.53h2M475.68 308.19V311.06M474.68 308.19h2M474.68 311.06h2M478.63 308.71V311.58M477.63 308.71h2M477.63 311.58h2M481.59 309.23V312.11M480.59 309.23h2M480.59 312.11h2M484.55 309.76V312.64M483.55 309.76h2M483.55 312.64h2" stroke="#6cc482" stroke-width="0.6" fill="none"/>
<path d="M395.80 308.30V311.94M394.80 308.30h2M394.80 311.94h2M398.76 287.38V291.78M397.76 287.38h2M397.76 291.78h2M401.72 278.00V283.31M400.72 278.00h2M400.72 283.31h2M404.68 276.21V282.20M403.68 276.21h2M403.68 282.20h2M407.63 277.26V283.32M406.63 277.26h2M406.63 283.32h2M410.59 279.51V284.99M409.59 279.51h2M409.59 284.99h2M413.55 282.31V286.89M412.55 282.31h2M412.55 286.89h2M416.51 284.96V288.74M415.51 284.96h2M415.51 288.74h2M419.47 287.48V290.73M418.47 287.48h2M418.47 290.73h2M422.43 289.57V292.57M421.43 289.57h2M421.43 292.57h2M425.38 291.26V294.17M424.38 291.26h2M424.38 294.17h2M428.34 292.72V295.60M427.34 292.72h2M427.34 295.60h2M431.30 293.94V296.82M430.30 293.94h2M430.30 296.82h2M434.26 294.99V297.87M433.26 294.99h2M433.26 297.87h2M437.22 295.95V298.82M436.22 295.95h2M436.22 298.82h2M440.18 296.82V299.70M439.18 296.82h2M439.18 299.70h2M443.13 297.62V300.49M442.13 297.62h2M442.13 300.49h2M446.09 298.33V301.21M445.09 298.33h2M445.09 301.21h2M449.05 298.98V301.85M448.05 298.98h2M448.05 301.85h2M452.01 299.54V302.42M451.01 299.54h2M451.01 302.42h2M454.97 300.04V302.92M453.97 300.04h2M453.97 302.92h2M457.93 300.49V303.37M456.93 300.49h2M456.93 303.37h2M460.88 300.93V303.80M459.88 300.93h2M459.88 303.80h2M463.84 301.37V304.25M462.84 301.37h2M462.84 304.25h2M466.80 301.85V304.73M465.80 301.85h2M465.80 304.73h2M469.76 302.37V305.25M468.76 302.37h2M468.76 305.25h2M472.72 302.90V305.78M471.72 302.90h2M471.72 305.78h2M475.68 303.45V306.32M474.68 303.45h2M474.68 306.32h2M478.63 304.00V306.87M477.63 304.00h2M477.63 306.87h2M481.59 304.55V307.42M480.59 304.55h2M480.59 307.42h2M484.55 305.09V307.97M483.55 305.09h2M483.55 307.97h2" stroke="#f2b062" stroke-width="0.6" fill="none"/>
<path d="M395.80 306.50V310.15M394.80 306.50h2M394.80 310.15h2M398.76 287.02V291.42M397.76 287.02h2M397.76 291.42h2M401.72 277.64V282.95M400.72 277.64h2M400.72 282.95h2M404.68 275.49V281.48M403.68 275.49h2M403.68 281.48h2M407.63 276.18V282.24M406.63 276.18h2M406.63 282.24h2M410.59 278.23V283.71M409.59 278.23h2M409.59 283.71h2M413.55 280.87V285.45M412.55 280.87h2M412.55 285.45h2M416.51 283.17V286.94M415.51 283.17h2M415.51 286.94h2M419.47 285.27V288.52M418.47 285.27h2M418.47 288.52h2M422.43 287.05V290.05M421.43 287.05h2M421.43 290.05h2M425.38 288.60V291.51M424.38 288.60h2M424.38 291.51h2M428.34 289.97V292.86M427.34 289.97h2M427.34 292.86h2M431.30 291.07V293.95M430.30 291.07h2M430.30 293.95h2M434.26 291.93V294.81M433.26 291.93h2M433.26 294.81h2M437.22 292.70V295.57M436.22 292.70h2M436.22 295.57h2M440.18 293.38V296.26M439.18 293.38h2M439.18 296.26h2M443.13 293.99V296.87M442.13 293.99h2M442.13 296.87h2M446.09 294.53V297.41M445.09 294.53h2M445.09 297.41h2M449.05 295.02V297.90M448.05 295.02h2M448.05 297.90h2M452.01 295.44V298.31M451.01 295.44h2M451.01 298.31h2M454.97 295.77V298.65M453.97 295.77h2M453.97 298.65h2M457.93 296.07V298.95M456.93 296.07h2M456.93 298.95h2M460.88 296.38V299.26M459.88 296.38h2M459.88 299.26h2M463.84 296.74V299.61M462.84 296.74h2M462.84 299.61h2M466.80 297.18V300.06M465.80 297.18h2M465.80 300.06h2M469.76 297.79V300.66M468.76 297.79h2M468.76 300.66h2M472.72 298.56V301.44M471.72 298.56h2M471.72 301.44h2M475.68 299.45V302.32M474.68 299.45h2M474.68 302.32h2M478.63 300.39V303.26M477.63 300.39h2M477.63 303.26h2M481.59 301.33V304.20M480.59 301.33h2M480.59 304.20h2M484.55 302.21V305.09M483.55 302.21h2M483.55 305.09h2" stroke="#aaa4d6" stroke-width="0.6" fill="none"/>
<path d="M395.80 306.86V311.22M394.80 306.86h2M394.80 311.22h2M398.76 286.30V291.42M397.76 286.30h2M397.76 291.42h2M401.72 276.56V282.59M400.72 276.56h2M400.72 282.59h2M404.68 274.42V281.12M403.68 274.42h2M403.68 281.12h2M407.63 274.74V281.52M406.63 274.74h2M406.63 281.52h2M410.59 276.71V282.91M409.59 276.71h2M409.59 282.91h2M413.55 279.43V284.73M412.55 279.43h2M412.55 284.73h2M416.51 281.59V286.08M415.51 281.59h2M415.51 286.08h2M419.47 283.46V287.43M418.47 283.46h2M418.47 287.43h2M422.43 284.89V288.62M421.43 284.89h2M421.43 288.62h2M425.38 285.95V289.58M424.38 285.95h2M424.38 289.58h2M428.34 286.80V290.40M427.34 286.80h2M427.34 290.40h2M431.30 287.47V291.07M430.30 287.47h2M430.30 291.07h2M434.26 288.02V291.62M433.26 288.02h2M433.26 291.62h2M437.22 288.51V292.10M436.22 288.51h2M436.22 292.10h2M440.18 288.94V292.53M439.18 288.94h2M439.18 292.53h2M443.13 289.33V292.92M442.13 289.33h2M442.13 292.92h2M446.09 289.67V293.27M445.09 289.67h2M445.09 293.27h2M449.05 289.99V293.59M448.05 289.99h2M448.05 293.59h2M452.01 290.26V293.85M451.01 290.26h2M451.01 293.85h2M454.97 290.47V294.07M453.97 290.47h2M453.97 294.07h2M457.93 290.67V294.26M456.93 290.67h2M456.93 294.26h2M460.88 290.87V294.47M459.88 290.87h2M459.88 294.47h2M463.84 291.11V294.71M462.84 291.11h2M462.84 294.71h2M466.80 291.43V295.02M465.80 291.43h2M465.80 295.02h2M469.76 291.90V295.49M468.76 291.90h2M468.76 295.49h2M472.72 292.55V296.14M471.72 292.55h2M471.72 296.14h2M475.68 293.32V296.91M474.68 293.32h2M474.68 296.91h2M478.63 294.14V297.74M477.63 294.14h2M477.63 297.74h2M481.59 294.97V298.57M480.59 294.97h2M480.59 298.57h2M484.55 295.74V299.34M483.55 295.74h2M483.55 299.34h2" stroke="#c8384c" stroke-width="0.6" fill="none"/>
<polyline points="395.80,317.31 398.76,290.29 401.72,281.01 404.68,280.28 407.63,281.73 410.59,284.71 413.55,288.19 416.51,291.05 419.47,293.71 422.43,296.10 425.38,298.28 428.34,300.27 431.30,301.85 434.26,303.09 437.22,304.18 440.18,305.14 443.13,306.01 446.09,306.82 449.05,307.61 452.01,308.35 454.97,309.02 457.93,309.65 460.88,310.27 463.84,310.90 466.80,311.56 469.76,312.26 472.72,312.97 475.68,313.69 478.63,314.42 481.59,315.15 484.55,315.87" fill="none" stroke="#cc1f7e" stroke-width="0.7"/><path d="M395.80 318.75L397.24 316.23L394.36 316.23Z" fill="#cc1f7e"/><path d="M398.76 291.73L400.20 289.22L397.32 289.22Z" fill="#cc1f7e"/><path d="M401.72 282.45L403.15 279.93L400.28 279.93Z" fill="#cc1f7e"/><path d="M404.68 281.72L406.11 279.21L403.24 279.21Z" fill="#cc1f7e"/><path d="M407.63 283.17L409.07 280.65L406.20 280.65Z" fill="#cc1f7e"/><path d="M410.59 286.15L412.03 283.63L409.15 283.63Z" fill="#cc1f7e"/><path d="M413.55 289.63L414.99 287.11L412.11 287.11Z" fill="#cc1f7e"/><path d="M416.51 292.49L417.95 289.97L415.07 289.97Z" fill="#cc1f7e"/><path d="M419.47 295.15L420.90 292.64L418.03 292.64Z" fill="#cc1f7e"/><path d="M422.43 297.54L423.86 295.02L420.99 295.02Z" fill="#cc1f7e"/><path d="M425.38 299.72L426.82 297.21L423.95 297.21Z" fill="#cc1f7e"/><path d="M428.34 301.70L429.78 299.19L426.90 299.19Z" fill="#cc1f7e"/><path d="M431.30 303.29L432.74 300.78L429.86 300.78Z" fill="#cc1f7e"/><path d="M434.26 304.53L435.70 302.02L432.82 302.02Z" fill="#cc1f7e"/><path d="M437.22 305.62L438.65 303.10L435.78 303.10Z" fill="#cc1f7e"/><path d="M440.18 306.58L441.61 304.06L438.74 304.06Z" fill="#cc1f7e"/><path d="M443.13 307.45L444.57 304.93L441.70 304.93Z" fill="#cc1f7e"/><path d="M446.09 308.26L447.53 305.74L444.65 305.74Z" fill="#cc1f7e"/><path d="M449.05 309.04L450.49 306.53L447.61 306.53Z" fill="#cc1f7e"/><path d="M452.01 309.78L453.45 307.27L450.57 307.27Z" fill="#cc1f7e"/><path d="M454.97 310.46L456.40 307.94L453.53 307.94Z" fill="#cc1f7e"/><path d="M457.93 311.09L459.36 308.58L456.49 308.58Z" fill="#cc1f7e"/><path d="M460.88 311.71L462.32 309.19L459.45 309.19Z" fill="#cc1f7e"/><path d="M463.84 312.34L465.28 309.82L462.40 309.82Z" fill="#cc1f7e"/><path d="M466.80 313.00L468.24 310.48L465.36 310.48Z" fill="#cc1f7e"/><path d="M469.76 313.70L471.20 311.18L468.32 311.18Z" fill="#cc1f7e"/><path d="M472.72 314.41L474.15 311.89L471.28 311.89Z" fill="#cc1f7e"/><path d="M475.68 315.13L477.11 312.62L474.24 312.62Z" fill="#cc1f7e"/><path d="M478.63 315.86L480.07 313.34L477.20 313.34Z" fill="#cc1f7e"/><path d="M481.59 316.59L483.03 314.07L480.15 314.07Z" fill="#cc1f7e"/><path d="M484.55 317.31L485.99 314.80L483.11 314.80Z" fill="#cc1f7e"/>
<polyline points="395.80,311.92 398.76,290.30 401.72,281.36 404.68,281.36 407.63,283.17 410.59,286.08 413.55,289.27 416.51,292.00 419.47,294.55 422.43,296.82 425.38,298.87 428.34,300.73 431.30,302.21 434.26,303.38 437.22,304.40 440.18,305.30 443.13,306.12 446.09,306.88 449.05,307.61 452.01,308.29 454.97,308.91 457.93,309.49 460.88,310.06 463.84,310.62 466.80,311.20 469.76,311.80 472.72,312.40 475.68,313.00 478.63,313.60 481.59,314.20 484.55,314.80" fill="none" stroke="#1c355e" stroke-width="0.7"/><circle cx="395.80" cy="311.92" r="1.25" fill="#1c355e"/><circle cx="398.76" cy="290.30" r="1.25" fill="#1c355e"/><circle cx="401.72" cy="281.36" r="1.25" fill="#1c355e"/><circle cx="404.68" cy="281.36" r="1.25" fill="#1c355e"/><circle cx="407.63" cy="283.17" r="1.25" fill="#1c355e"/><circle cx="410.59" cy="286.08" r="1.25" fill="#1c355e"/><circle cx="413.55" cy="289.27" r="1.25" fill="#1c355e"/><circle cx="416.51" cy="292.00" r="1.25" fill="#1c355e"/><circle cx="419.47" cy="294.55" r="1.25" fill="#1c355e"/><circle cx="422.43" cy="296.82" r="1.25" fill="#1c355e"/><circle cx="425.38" cy="298.87" r="1.25" fill="#1c355e"/><circle cx="428.34" cy="300.73" r="1.25" fill="#1c355e"/><circle cx="431.30" cy="302.21" r="1.25" fill="#1c355e"/><circle cx="434.26" cy="303.38" r="1.25" fill="#1c355e"/><circle cx="437.22" cy="304.40" r="1.25" fill="#1c355e"/><circle cx="440.18" cy="305.30" r="1.25" fill="#1c355e"/><circle cx="443.13" cy="306.12" r="1.25" fill="#1c355e"/><circle cx="446.09" cy="306.88" r="1.25" fill="#1c355e"/><circle cx="449.05" cy="307.61" r="1.25" fill="#1c355e"/><circle cx="452.01" cy="308.29" r="1.25" fill="#1c355e"/><circle cx="454.97" cy="308.91" r="1.25" fill="#1c355e"/><circle cx="457.93" cy="309.49" r="1.25" fill="#1c355e"/><circle cx="460.88" cy="310.06" r="1.25" fill="#1c355e"/><circle cx="463.84" cy="310.62" r="1.25" fill="#1c355e"/><circle cx="466.80" cy="311.20" r="1.25" fill="#1c355e"/><circle cx="469.76" cy="311.80" r="1.25" fill="#1c355e"/><circle cx="472.72" cy="312.40" r="1.25" fill="#1c355e"/><circle cx="475.68" cy="313.00" r="1.25" fill="#1c355e"/><circle cx="478.63" cy="313.60" r="1.25" fill="#1c355e"/><circle cx="481.59" cy="314.20" r="1.25" fill="#1c355e"/><circle cx="484.55" cy="314.80" r="1.25" fill="#1c355e"/>
<polyline points="395.80,313.72 398.76,289.58 401.72,280.65 404.68,279.56 407.63,281.01 410.59,283.36 413.55,286.04 416.51,288.55 419.47,291.03 422.43,293.23 425.38,295.13 428.34,296.83 431.30,298.26 434.26,299.45 437.22,300.52 440.18,301.49 443.13,302.38 446.09,303.22 449.05,304.01 452.01,304.76 454.97,305.47 457.93,306.13 460.88,306.76 463.84,307.37 466.80,307.97 469.76,308.54 472.72,309.09 475.68,309.62 478.63,310.15 481.59,310.67 484.55,311.20" fill="none" stroke="#3c9e5a" stroke-width="0.7"/><path d="M395.80 312.28L397.24 314.80L394.36 314.80Z" fill="#3c9e5a"/><path d="M398.76 288.14L400.20 290.66L397.32 290.66Z" fill="#3c9e5a"/><path d="M401.72 279.21L403.15 281.73L400.28 281.73Z" fill="#3c9e5a"/><path d="M404.68 278.13L406.11 280.64L403.24 280.64Z" fill="#3c9e5a"/><path d="M407.63 279.57L409.07 282.09L406.20 282.09Z" fill="#3c9e5a"/><path d="M410.59 281.92L412.03 284.43L409.15 284.43Z" fill="#3c9e5a"/><path d="M413.55 284.60L414.99 287.11L412.11 287.11Z" fill="#3c9e5a"/><path d="M416.51 287.12L417.95 289.63L415.07 289.63Z" fill="#3c9e5a"/><path d="M419.47 289.59L420.90 292.11L418.03 292.11Z" fill="#3c9e5a"/><path d="M422.43 291.79L423.86 294.30L420.99 294.30Z" fill="#3c9e5a"/><path d="M425.38 293.69L426.82 296.21L423.95 296.21Z" fill="#3c9e5a"/><path d="M428.34 295.40L429.78 297.91L426.90 297.91Z" fill="#3c9e5a"/><path d="M431.30 296.82L432.74 299.34L429.86 299.34Z" fill="#3c9e5a"/><path d="M434.26 298.01L435.70 300.53L432.82 300.53Z" fill="#3c9e5a"/><path d="M437.22 299.08L438.65 301.60L435.78 301.60Z" fill="#3c9e5a"/><path d="M440.18 300.06L441.61 302.57L438.74 302.57Z" fill="#3c9e5a"/><path d="M443.13 300.95L444.57 303.46L441.70 303.46Z" fill="#3c9e5a"/><path d="M446.09 301.78L447.53 304.30L444.65 304.30Z" fill="#3c9e5a"/><path d="M449.05 302.57L450.49 305.09L447.61 305.09Z" fill="#3c9e5a"/><path d="M452.01 303.33L453.45 305.84L450.57 305.84Z" fill="#3c9e5a"/><path d="M454.97 304.03L456.40 306.55L453.53 306.55Z" fill="#3c9e5a"/><path d="M457.93 304.69L459.36 307.21L456.49 307.21Z" fill="#3c9e5a"/><path d="M460.88 305.32L462.32 307.84L459.45 307.84Z" fill="#3c9e5a"/><path d="M463.84 305.93L465.28 308.45L462.40 308.45Z" fill="#3c9e5a"/><path d="M466.80 306.53L468.24 309.04L465.36 309.04Z" fill="#3c9e5a"/><path d="M469.76 307.10L471.20 309.62L468.32 309.62Z" fill="#3c9e5a"/><path d="M472.72 307.65L474.15 310.17L471.28 310.17Z" fill="#3c9e5a"/><path d="M475.68 308.19L477.11 310.70L474.24 310.70Z" fill="#3c9e5a"/><path d="M478.63 308.71L480.07 311.22L477.20 311.22Z" fill="#3c9e5a"/><path d="M481.59 309.23L483.03 311.75L480.15 311.75Z" fill="#3c9e5a"/><path d="M484.55 309.76L485.99 312.28L483.11 312.28Z" fill="#3c9e5a"/>
<polyline points="395.80,310.12 398.76,289.58 401.72,280.65 404.68,279.21 407.63,280.29 410.59,282.25 413.55,284.60 416.51,286.85 419.47,289.10 422.43,291.07 425.38,292.71 428.34,294.16 431.30,295.38 434.26,296.43 437.22,297.39 440.18,298.26 443.13,299.05 446.09,299.77 449.05,300.42 452.01,300.98 454.97,301.48 457.93,301.93 460.88,302.37 463.84,302.81 466.80,303.29 469.76,303.81 472.72,304.34 475.68,304.89 478.63,305.43 481.59,305.98 484.55,306.53" fill="none" stroke="#eb953a" stroke-width="0.7"/><path d="M395.80 308.56L397.36 310.12L395.80 311.69L394.24 310.12Z" fill="#eb953a"/><path d="M398.76 288.02L400.32 289.58L398.76 291.14L397.20 289.58Z" fill="#eb953a"/><path d="M401.72 279.09L403.28 280.65L401.72 282.22L400.15 280.65Z" fill="#eb953a"/><path d="M404.68 277.64L406.24 279.21L404.68 280.77L403.11 279.21Z" fill="#eb953a"/><path d="M407.63 278.73L409.20 280.29L407.63 281.85L406.07 280.29Z" fill="#eb953a"/><path d="M410.59 280.69L412.15 282.25L410.59 283.82L409.03 282.25Z" fill="#eb953a"/><path d="M413.55 283.04L415.11 284.60L413.55 286.16L411.99 284.60Z" fill="#eb953a"/><path d="M416.51 285.29L418.07 286.85L416.51 288.41L414.95 286.85Z" fill="#eb953a"/><path d="M419.47 287.54L421.03 289.10L419.47 290.67L417.90 289.10Z" fill="#eb953a"/><path d="M422.43 289.51L423.99 291.07L422.43 292.63L420.86 291.07Z" fill="#eb953a"/><path d="M425.38 291.15L426.95 292.71L425.38 294.27L423.82 292.71Z" fill="#eb953a"/><path d="M428.34 292.60L429.90 294.16L428.34 295.73L426.78 294.16Z" fill="#eb953a"/><path d="M431.30 293.82L432.86 295.38L431.30 296.95L429.74 295.38Z" fill="#eb953a"/><path d="M434.26 294.87L435.82 296.43L434.26 297.99L432.70 296.43Z" fill="#eb953a"/><path d="M437.22 295.82L438.78 297.39L437.22 298.95L435.65 297.39Z" fill="#eb953a"/><path d="M440.18 296.70L441.74 298.26L440.18 299.82L438.61 298.26Z" fill="#eb953a"/><path d="M443.13 297.49L444.70 299.05L443.13 300.62L441.57 299.05Z" fill="#eb953a"/><path d="M446.09 298.21L447.65 299.77L446.09 301.33L444.53 299.77Z" fill="#eb953a"/><path d="M449.05 298.85L450.61 300.42L449.05 301.98L447.49 300.42Z" fill="#eb953a"/><path d="M452.01 299.42L453.57 300.98L452.01 302.54L450.45 300.98Z" fill="#eb953a"/><path d="M454.97 299.92L456.53 301.48L454.97 303.04L453.40 301.48Z" fill="#eb953a"/><path d="M457.93 300.37L459.49 301.93L457.93 303.49L456.36 301.93Z" fill="#eb953a"/><path d="M460.88 300.80L462.45 302.37L460.88 303.93L459.32 302.37Z" fill="#eb953a"/><path d="M463.84 301.25L465.40 302.81L463.84 304.37L462.28 302.81Z" fill="#eb953a"/><path d="M466.80 301.73L468.36 303.29L466.80 304.85L465.24 303.29Z" fill="#eb953a"/><path d="M469.76 302.25L471.32 303.81L469.76 305.37L468.20 303.81Z" fill="#eb953a"/><path d="M472.72 302.78L474.28 304.34L472.72 305.90L471.15 304.34Z" fill="#eb953a"/><path d="M475.68 303.32L477.24 304.89L475.68 306.45L474.11 304.89Z" fill="#eb953a"/><path d="M478.63 303.87L480.20 305.43L478.63 307.00L477.07 305.43Z" fill="#eb953a"/><path d="M481.59 304.42L483.15 305.98L481.59 307.55L480.03 305.98Z" fill="#eb953a"/><path d="M484.55 304.97L486.11 306.53L484.55 308.09L482.99 306.53Z" fill="#eb953a"/>
<polyline points="395.80,308.32 398.76,289.22 401.72,280.30 404.68,278.49 407.63,279.21 410.59,280.97 413.55,283.16 416.51,285.06 419.47,286.90 422.43,288.55 425.38,290.05 428.34,291.41 431.30,292.51 434.26,293.37 437.22,294.14 440.18,294.82 443.13,295.43 446.09,295.97 449.05,296.46 452.01,296.87 454.97,297.21 457.93,297.51 460.88,297.82 463.84,298.17 466.80,298.62 469.76,299.22 472.72,300.00 475.68,300.88 478.63,301.82 481.59,302.77 484.55,303.65" fill="none" stroke="#8a84c0" stroke-width="0.7"/><circle cx="395.80" cy="308.32" r="1.25" fill="#8a84c0"/><circle cx="398.76" cy="289.22" r="1.25" fill="#8a84c0"/><circle cx="401.72" cy="280.30" r="1.25" fill="#8a84c0"/><circle cx="404.68" cy="278.49" r="1.25" fill="#8a84c0"/><circle cx="407.63" cy="279.21" r="1.25" fill="#8a84c0"/><circle cx="410.59" cy="280.97" r="1.25" fill="#8a84c0"/><circle cx="413.55" cy="283.16" r="1.25" fill="#8a84c0"/><circle cx="416.51" cy="285.06" r="1.25" fill="#8a84c0"/><circle cx="419.47" cy="286.90" r="1.25" fill="#8a84c0"/><circle cx="422.43" cy="288.55" r="1.25" fill="#8a84c0"/><circle cx="425.38" cy="290.05" r="1.25" fill="#8a84c0"/><circle cx="428.34" cy="291.41" r="1.25" fill="#8a84c0"/><circle cx="431.30" cy="292.51" r="1.25" fill="#8a84c0"/><circle cx="434.26" cy="293.37" r="1.25" fill="#8a84c0"/><circle cx="437.22" cy="294.14" r="1.25" fill="#8a84c0"/><circle cx="440.18" cy="294.82" r="1.25" fill="#8a84c0"/><circle cx="443.13" cy="295.43" r="1.25" fill="#8a84c0"/><circle cx="446.09" cy="295.97" r="1.25" fill="#8a84c0"/><circle cx="449.05" cy="296.46" r="1.25" fill="#8a84c0"/><circle cx="452.01" cy="296.87" r="1.25" fill="#8a84c0"/><circle cx="454.97" cy="297.21" r="1.25" fill="#8a84c0"/><circle cx="457.93" cy="297.51" r="1.25" fill="#8a84c0"/><circle cx="460.88" cy="297.82" r="1.25" fill="#8a84c0"/><circle cx="463.84" cy="298.17" r="1.25" fill="#8a84c0"/><circle cx="466.80" cy="298.62" r="1.25" fill="#8a84c0"/><circle cx="469.76" cy="299.22" r="1.25" fill="#8a84c0"/><circle cx="472.72" cy="300.00" r="1.25" fill="#8a84c0"/><circle cx="475.68" cy="300.88" r="1.25" fill="#8a84c0"/><circle cx="478.63" cy="301.82" r="1.25" fill="#8a84c0"/><circle cx="481.59" cy="302.77" r="1.25" fill="#8a84c0"/><circle cx="484.55" cy="303.65" r="1.25" fill="#8a84c0"/>
<polyline points="395.80,309.04 398.76,288.86 401.72,279.58 404.68,277.77 407.63,278.13 410.59,279.81 413.55,282.08 416.51,283.83 419.47,285.45 422.43,286.75 425.38,287.76 428.34,288.60 431.30,289.27 434.26,289.82 437.22,290.30 440.18,290.74 443.13,291.12 446.09,291.47 449.05,291.79 452.01,292.06 454.97,292.27 457.93,292.47 460.88,292.67 463.84,292.91 466.80,293.23 469.76,293.70 472.72,294.34 475.68,295.11 478.63,295.94 481.59,296.77 484.55,297.54" fill="none" stroke="#b8152f" stroke-width="0.7"/><rect x="394.55" y="307.79" width="2.50" height="2.50" fill="#b8152f"/><rect x="397.51" y="287.61" width="2.50" height="2.50" fill="#b8152f"/><rect x="400.47" y="278.33" width="2.50" height="2.50" fill="#b8152f"/><rect x="403.43" y="276.52" width="2.50" height="2.50" fill="#b8152f"/><rect x="406.38" y="276.88" width="2.50" height="2.50" fill="#b8152f"/><rect x="409.34" y="278.56" width="2.50" height="2.50" fill="#b8152f"/><rect x="412.30" y="280.83" width="2.50" height="2.50" fill="#b8152f"/><rect x="415.26" y="282.58" width="2.50" height="2.50" fill="#b8152f"/><rect x="418.22" y="284.20" width="2.50" height="2.50" fill="#b8152f"/><rect x="421.18" y="285.50" width="2.50" height="2.50" fill="#b8152f"/><rect x="424.13" y="286.51" width="2.50" height="2.50" fill="#b8152f"/><rect x="427.09" y="287.35" width="2.50" height="2.50" fill="#b8152f"/><rect x="430.05" y="288.02" width="2.50" height="2.50" fill="#b8152f"/><rect x="433.01" y="288.57" width="2.50" height="2.50" fill="#b8152f"/><rect x="435.97" y="289.05" width="2.50" height="2.50" fill="#b8152f"/><rect x="438.93" y="289.49" width="2.50" height="2.50" fill="#b8152f"/><rect x="441.88" y="289.87" width="2.50" height="2.50" fill="#b8152f"/><rect x="444.84" y="290.22" width="2.50" height="2.50" fill="#b8152f"/><rect x="447.80" y="290.54" width="2.50" height="2.50" fill="#b8152f"/><rect x="450.76" y="290.81" width="2.50" height="2.50" fill="#b8152f"/><rect x="453.72" y="291.02" width="2.50" height="2.50" fill="#b8152f"/><rect x="456.68" y="291.22" width="2.50" height="2.50" fill="#b8152f"/><rect x="459.63" y="291.42" width="2.50" height="2.50" fill="#b8152f"/><rect x="462.59" y="291.66" width="2.50" height="2.50" fill="#b8152f"/><rect x="465.55" y="291.98" width="2.50" height="2.50" fill="#b8152f"/><rect x="468.51" y="292.45" width="2.50" height="2.50" fill="#b8152f"/><rect x="471.47" y="293.09" width="2.50" height="2.50" fill="#b8152f"/><rect x="474.43" y="293.86" width="2.50" height="2.50" fill="#b8152f"/><rect x="477.38" y="294.69" width="2.50" height="2.50" fill="#b8152f"/><rect x="480.34" y="295.52" width="2.50" height="2.50" fill="#b8152f"/><rect x="483.30" y="296.29" width="2.50" height="2.50" fill="#b8152f"/>
<path d="M395.80 252.90V326.30H505.00" stroke="#000" stroke-width="0.9" fill="none"/>
<text x="391.00" y="328.55" font-size="6.3" text-anchor="end" font-weight="normal" fill="#231f20" letter-spacing="0.2">0</text>
<text x="391.00" y="310.57" font-size="6.3" text-anchor="end" font-weight="normal" fill="#231f20" letter-spacing="0.2">50000</text>
<text x="391.00" y="292.60" font-size="6.3" text-anchor="end" font-weight="normal" fill="#231f20" letter-spacing="0.2">100000</text>
<text x="391.00" y="274.62" font-size="6.3" text-anchor="end" font-weight="normal" fill="#231f20" letter-spacing="0.2">150000</text>
<text x="391.00" y="256.65" font-size="6.3" text-anchor="end" font-weight="normal" fill="#231f20" letter-spacing="0.2">200000</text>
<text x="395.85" y="338.20" font-size="6.3" text-anchor="middle" font-weight="normal" fill="#231f20" letter-spacing="0.1">0:00:00</text>
<text x="431.35" y="338.20" font-size="6.3" text-anchor="middle" font-weight="normal" fill="#231f20" letter-spacing="0.1">1:00:00</text>
<text x="466.85" y="338.20" font-size="6.3" text-anchor="middle" font-weight="normal" fill="#231f20" letter-spacing="0.1">2:00:00</text>
<text x="502.35" y="338.20" font-size="6.3" text-anchor="middle" font-weight="normal" fill="#231f20" letter-spacing="0.1">3:00:00</text>
<path d="M392.80 326.30H395.80M392.80 308.32H395.80M392.80 290.35H395.80M392.80 272.38H395.80M392.80 254.40H395.80M395.80 326.30V329.30M431.30 326.30V329.30M466.80 326.30V329.30M502.30 326.30V329.30" stroke="#000" stroke-width="0.9" fill="none"/>
<text x="0" y="0" font-size="8.4" text-anchor="middle" fill="#231f20" textLength="11.6" lengthAdjust="spacingAndGlyphs" style="stroke-width:0.18px" transform="translate(363.20 289.70) rotate(-90)">RLU</text>
<text x="451.20" y="349.60" font-size="8.4" text-anchor="middle" fill="#231f20" textLength="24.2" lengthAdjust="spacingAndGlyphs" style="stroke-width:0.18px">Time (h)</text>
<path d="M395.80 361.25H405.80" stroke="#1c355e" stroke-width="0.9"/>
<circle cx="400.80" cy="361.25" r="1.70" fill="#1c355e"/>
<text x="408.80" y="363.55" font-size="6.45" text-anchor="start" font-weight="normal" fill="#231f20" >NHS in MgEGTA on DKO</text>
<path d="M395.80 371.18H405.80" stroke="#b8152f" stroke-width="0.9"/>
<rect x="399.10" y="369.48" width="3.40" height="3.40" fill="#b8152f"/>
<text x="408.80" y="373.48" font-size="6.45" text-anchor="start" font-weight="normal" fill="#231f20" >HI NHS</text>
<path d="M395.80 381.11H405.80" stroke="#3c9e5a" stroke-width="0.9"/>
<path d="M400.80 379.16L402.75 382.58L398.85 382.58Z" fill="#3c9e5a"/>
<text x="408.80" y="383.41" font-size="6.45" text-anchor="start" font-weight="normal" fill="#231f20" >NHS + 0.15 μM FBi</text>
<path d="M395.80 391.04H405.80" stroke="#cc1f7e" stroke-width="0.9"/>
<path d="M400.80 393.00L402.75 389.57L398.85 389.57Z" fill="#cc1f7e"/>
<text x="408.80" y="393.34" font-size="6.45" text-anchor="start" font-weight="normal" fill="#231f20" >NHS + 0.3 μM FBi</text>
<path d="M395.80 400.97H405.80" stroke="#eb953a" stroke-width="0.9"/>
<path d="M400.80 398.85L402.93 400.97L400.80 403.10L398.68 400.97Z" fill="#eb953a"/>
<text x="408.80" y="403.27" font-size="6.45" text-anchor="start" font-weight="normal" fill="#231f20" >NHS + 0.75 μM FBi</text>
<path d="M395.80 410.90H405.80" stroke="#8a84c0" stroke-width="0.9"/>
<circle cx="400.80" cy="410.90" r="1.70" fill="#8a84c0"/>
<text x="408.80" y="413.20" font-size="6.45" text-anchor="start" font-weight="normal" fill="#231f20" >NHS + 1.5 μM FBi</text>
<text x="7.00" y="448.80" font-size="11" text-anchor="start" font-weight="bold" fill="#000" >G</text>
<text x="103.75" y="459.30" font-size="8.55" text-anchor="middle" font-weight="normal" fill="#231f20" style="stroke-width:0.22px">NHS in MgEGTA on DKO</text>
<path d="M49.40 517.21V519.34M48.40 517.21h2M48.40 519.34h2M52.36 491.22V493.44M51.36 491.22h2M51.36 493.44h2M55.32 486.24V488.54M54.32 486.24h2M54.32 488.54h2M58.27 489.03V491.43M57.27 489.03h2M57.27 491.43h2M61.23 492.55V495.04M60.23 492.55h2M60.23 495.04h2M64.19 496.62V499.20M63.19 496.62h2M63.19 499.20h2M67.15 500.84V503.50M66.15 500.84h2M66.15 503.50h2M70.11 504.23V506.98M69.11 504.23h2M69.11 506.98h2M73.07 506.72V509.56M72.07 506.72h2M72.07 509.56h2M76.03 508.81V511.73M75.03 508.81h2M75.03 511.73h2M78.98 510.57V513.58M77.98 510.57h2M77.98 513.58h2M81.94 512.04V515.15M80.94 512.04h2M80.94 515.15h2M84.90 513.27V516.46M83.90 513.27h2M83.90 516.46h2M87.86 514.40V517.68M86.86 514.40h2M86.86 517.68h2M90.82 515.58V518.95M89.82 515.58h2M89.82 518.95h2M93.78 516.87V520.33M92.78 516.87h2M92.78 520.33h2M96.73 518.12V521.67M95.73 518.12h2M95.73 521.67h2M99.69 519.15V522.79M98.69 519.15h2M98.69 522.79h2M102.65 519.93V523.65M101.65 519.93h2M101.65 523.65h2M105.61 520.59V524.40M104.61 520.59h2M104.61 524.40h2M108.57 521.17V525.07M107.57 521.17h2M107.57 525.07h2M111.53 521.70V525.69M110.53 521.70h2M110.53 525.69h2M114.48 522.20V526.28M113.48 522.20h2M113.48 526.28h2M117.44 522.71V526.88M116.44 522.71h2M116.44 526.88h2M120.40 523.25V527.50M119.40 523.25h2M119.40 527.50h2M123.36 523.80V528.15M122.36 523.80h2M122.36 528.15h2M126.32 524.35V528.79M125.32 524.35h2M125.32 528.79h2M129.28 524.90V529.42M128.28 524.90h2M128.28 529.42h2M132.23 525.44V530.06M131.23 525.44h2M131.23 530.06h2M135.19 525.98V530.69M134.19 525.98h2M134.19 530.69h2M138.15 526.53V531.32M137.15 526.53h2M137.15 531.32h2" stroke="#6cc482" stroke-width="0.6" fill="none"/>
<path d="M49.40 515.43V517.56M48.40 515.43h2M48.40 517.56h2M52.36 489.84V491.97M51.36 489.84h2M51.36 491.97h2M55.32 485.26V487.39M54.32 485.26h2M54.32 487.39h2M58.27 487.03V489.16M57.27 487.03h2M57.27 489.16h2M61.23 489.89V492.02M60.23 489.89h2M60.23 492.02h2M64.19 493.07V495.20M63.19 493.07h2M63.19 495.20h2M67.15 496.38V498.51M66.15 496.38h2M66.15 498.51h2M70.11 499.35V501.48M69.11 499.35h2M69.11 501.48h2M73.07 501.97V504.10M72.07 501.97h2M72.07 504.10h2M76.03 504.38V506.51M75.03 504.38h2M75.03 506.51h2M78.98 506.45V508.58M77.98 506.45h2M77.98 508.58h2M81.94 508.13V510.26M80.94 508.13h2M80.94 510.26h2M84.90 509.60V511.73M83.90 509.60h2M83.90 511.73h2M87.86 510.83V512.96M86.86 510.83h2M86.86 512.96h2M90.82 511.82V513.95M89.82 511.82h2M89.82 513.95h2M93.78 512.60V514.73M92.78 512.60h2M92.78 514.73h2M96.73 513.27V515.40M95.73 513.27h2M95.73 515.40h2M99.69 513.91V516.04M98.69 513.91h2M98.69 516.04h2M102.65 514.57V516.70M101.65 514.57h2M101.65 516.70h2M105.61 515.20V517.33M104.61 515.20h2M104.61 517.33h2M108.57 515.82V517.95M107.57 515.82h2M107.57 517.95h2M111.53 516.43V518.56M110.53 516.43h2M110.53 518.56h2M114.48 517.04V519.17M113.48 517.04h2M113.48 519.17h2M117.44 517.65V519.78M116.44 517.65h2M116.44 519.78h2M120.40 518.27V520.40M119.40 518.27h2M119.40 520.40h2M123.36 518.92V521.05M122.36 518.92h2M122.36 521.05h2M126.32 519.56V521.69M125.32 519.56h2M125.32 521.69h2M129.28 520.22V522.35M128.28 520.22h2M128.28 522.35h2M132.23 520.87V523.00M131.23 520.87h2M131.23 523.00h2M135.19 521.53V523.66M134.19 521.53h2M134.19 523.66h2M138.15 522.18V524.31M137.15 522.18h2M137.15 524.31h2" stroke="#3a5a8a" stroke-width="0.6" fill="none"/>
<path d="M49.40 514.73V516.86M48.40 514.73h2M48.40 516.86h2M52.36 489.49V491.62M51.36 489.49h2M51.36 491.62h2M55.32 484.91V487.04M54.32 484.91h2M54.32 487.04h2M58.27 486.32V488.45M57.27 486.32h2M57.27 488.45h2M61.23 488.82V490.95M60.23 488.82h2M60.23 490.95h2M64.19 491.90V494.03M63.19 491.90h2M63.19 494.03h2M67.15 495.23V497.36M66.15 495.23h2M66.15 497.36h2M70.11 498.14V500.27M69.11 498.14h2M69.11 500.27h2M73.07 500.54V502.67M72.07 500.54h2M72.07 502.67h2M76.03 502.70V504.83M75.03 502.70h2M75.03 504.83h2M78.98 504.59V506.72M77.98 504.59h2M77.98 506.72h2M81.94 506.24V508.37M80.94 506.24h2M80.94 508.37h2M84.90 507.72V509.85M83.90 507.72h2M83.90 509.85h2M87.86 509.00V511.13M86.86 509.00h2M86.86 511.13h2M90.82 510.08V512.21M89.82 510.08h2M89.82 512.21h2M93.78 510.99V513.12M92.78 510.99h2M92.78 513.12h2M96.73 511.79V513.92M95.73 511.79h2M95.73 513.92h2M99.69 512.49V514.62M98.69 512.49h2M98.69 514.62h2M102.65 513.12V515.25M101.65 513.12h2M101.65 515.25h2M105.61 513.68V515.81M104.61 513.68h2M104.61 515.81h2M108.57 514.19V516.32M107.57 514.19h2M107.57 516.32h2M111.53 514.68V516.81M110.53 514.68h2M110.53 516.81h2M114.48 515.15V517.28M113.48 515.15h2M113.48 517.28h2M117.44 515.64V517.77M116.44 515.64h2M116.44 517.77h2M120.40 516.14V518.27M119.40 516.14h2M119.40 518.27h2M123.36 516.67V518.80M122.36 516.67h2M122.36 518.80h2M126.32 517.20V519.33M125.32 517.20h2M125.32 519.33h2M129.28 517.74V519.87M128.28 517.74h2M128.28 519.87h2M132.23 518.27V520.40M131.23 518.27h2M131.23 520.40h2M135.19 518.81V520.94M134.19 518.81h2M134.19 520.94h2M138.15 519.34V521.47M137.15 519.34h2M137.15 521.47h2" stroke="#aaa4d6" stroke-width="0.6" fill="none"/>
<path d="M49.40 514.73V516.86M48.40 514.73h2M48.40 516.86h2M52.36 489.49V491.62M51.36 489.49h2M51.36 491.62h2M55.32 484.55V486.68M54.32 484.55h2M54.32 486.68h2M58.27 485.97V488.10M57.27 485.97h2M57.27 488.10h2M61.23 488.11V490.24M60.23 488.11h2M60.23 490.24h2M64.19 491.01V493.14M63.19 491.01h2M63.19 493.14h2M67.15 494.27V496.40M66.15 494.27h2M66.15 496.40h2M70.11 497.07V499.20M69.11 497.07h2M69.11 499.20h2M73.07 499.25V501.38M72.07 499.25h2M72.07 501.38h2M76.03 501.18V503.31M75.03 501.18h2M75.03 503.31h2M78.98 502.87V505.00M77.98 502.87h2M77.98 505.00h2M81.94 504.37V506.50M80.94 504.37h2M80.94 506.50h2M84.90 505.72V507.85M83.90 505.72h2M83.90 507.85h2M87.86 506.91V509.04M86.86 506.91h2M86.86 509.04h2M90.82 507.94V510.07M89.82 507.94h2M89.82 510.07h2M93.78 508.86V510.99M92.78 508.86h2M92.78 510.99h2M96.73 509.67V511.80M95.73 509.67h2M95.73 511.80h2M99.69 510.37V512.50M98.69 510.37h2M98.69 512.50h2M102.65 510.95V513.08M101.65 510.95h2M101.65 513.08h2M105.61 511.46V513.59M104.61 511.46h2M104.61 513.59h2M108.57 511.91V514.04M107.57 511.91h2M107.57 514.04h2M111.53 512.34V514.47M110.53 512.34h2M110.53 514.47h2M114.48 512.75V514.88M113.48 512.75h2M113.48 514.88h2M117.44 513.19V515.32M116.44 513.19h2M116.44 515.32h2M120.40 513.66V515.79M119.40 513.66h2M119.40 515.79h2M123.36 514.17V516.30M122.36 514.17h2M122.36 516.30h2M126.32 514.69V516.82M125.32 514.69h2M125.32 516.82h2M129.28 515.23V517.36M128.28 515.23h2M128.28 517.36h2M132.23 515.77V517.90M131.23 515.77h2M131.23 517.90h2M135.19 516.32V518.45M134.19 516.32h2M134.19 518.45h2M138.15 516.86V518.99M137.15 516.86h2M137.15 518.99h2" stroke="#e060a8" stroke-width="0.6" fill="none"/>
<path d="M49.40 518.99V521.12M48.40 518.99h2M48.40 521.12h2M52.36 489.49V491.62M51.36 489.49h2M51.36 491.62h2M55.32 484.55V486.68M54.32 484.55h2M54.32 486.68h2M58.27 485.62V487.75M57.27 485.62h2M57.27 487.75h2M61.23 487.40V489.53M60.23 487.40h2M60.23 489.53h2M64.19 490.05V492.18M63.19 490.05h2M63.19 492.18h2M67.15 493.13V495.26M66.15 493.13h2M66.15 495.26h2M70.11 495.63V497.76M69.11 495.63h2M69.11 497.76h2M73.07 497.41V499.54M72.07 497.41h2M72.07 499.54h2M76.03 498.91V501.04M75.03 498.91h2M75.03 501.04h2M78.98 500.17V502.30M77.98 500.17h2M77.98 502.30h2M81.94 501.21V503.34M80.94 501.21h2M80.94 503.34h2M84.90 502.07V504.20M83.90 502.07h2M83.90 504.20h2M87.86 502.85V504.98M86.86 502.85h2M86.86 504.98h2M90.82 503.62V505.75M89.82 503.62h2M89.82 505.75h2M93.78 504.41V506.54M92.78 504.41h2M92.78 506.54h2M96.73 505.15V507.28M95.73 505.15h2M95.73 507.28h2M99.69 505.77V507.90M98.69 505.77h2M98.69 507.90h2M102.65 506.24V508.37M101.65 506.24h2M101.65 508.37h2M105.61 506.63V508.76M104.61 506.63h2M104.61 508.76h2M108.57 506.97V509.10M107.57 506.97h2M107.57 509.10h2M111.53 507.28V509.41M110.53 507.28h2M110.53 509.41h2M114.48 507.59V509.72M113.48 507.59h2M113.48 509.72h2M117.44 507.94V510.07M116.44 507.94h2M116.44 510.07h2M120.40 508.33V510.46M119.40 508.33h2M119.40 510.46h2M123.36 508.80V510.93M122.36 508.80h2M122.36 510.93h2M126.32 509.31V511.44M125.32 509.31h2M125.32 511.44h2M129.28 509.86V511.99M128.28 509.86h2M128.28 511.99h2M132.23 510.42V512.55M131.23 510.42h2M131.23 512.55h2M135.19 510.98V513.11M134.19 510.98h2M134.19 513.11h2M138.15 511.53V513.66M137.15 511.53h2M137.15 513.66h2" stroke="#f2b062" stroke-width="0.6" fill="none"/>
<path d="M49.40 514.73V516.86M48.40 514.73h2M48.40 516.86h2M52.36 488.78V490.91M51.36 488.78h2M51.36 490.91h2M55.32 484.20V486.33M54.32 484.20h2M54.32 486.33h2M58.27 484.90V487.03M57.27 484.90h2M57.27 487.03h2M61.23 486.33V488.46M60.23 486.33h2M60.23 488.46h2M64.19 488.46V490.59M63.19 488.46h2M63.19 490.59h2M67.15 490.97V493.10M66.15 490.97h2M66.15 493.10h2M70.11 493.14V495.27M69.11 493.14h2M69.11 495.27h2M73.07 494.94V497.07M72.07 494.94h2M72.07 497.07h2M76.03 496.56V498.69M75.03 496.56h2M75.03 498.69h2M78.98 497.77V499.90M77.98 497.77h2M77.98 499.90h2M81.94 498.47V500.60M80.94 498.47h2M80.94 500.60h2M84.90 498.96V501.09M83.90 498.96h2M83.90 501.09h2M87.86 499.36V501.49M86.86 499.36h2M86.86 501.49h2M90.82 499.78V501.91M89.82 499.78h2M89.82 501.91h2M93.78 500.19V502.32M92.78 500.19h2M92.78 502.32h2M96.73 500.60V502.73M95.73 500.60h2M95.73 502.73h2M99.69 500.99V503.12M98.69 500.99h2M98.69 503.12h2M102.65 501.38V503.51M101.65 501.38h2M101.65 503.51h2M105.61 501.75V503.88M104.61 501.75h2M104.61 503.88h2M108.57 502.10V504.23M107.57 502.10h2M107.57 504.23h2M111.53 502.46V504.59M110.53 502.46h2M110.53 504.59h2M114.48 502.84V504.97M113.48 502.84h2M113.48 504.97h2M117.44 503.26V505.39M116.44 503.26h2M116.44 505.39h2M120.40 503.72V505.85M119.40 503.72h2M119.40 505.85h2M123.36 504.26V506.39M122.36 504.26h2M122.36 506.39h2M126.32 504.88V507.01M125.32 504.88h2M125.32 507.01h2M129.28 505.55V507.68M128.28 505.55h2M128.28 507.68h2M132.23 506.25V508.38M131.23 506.25h2M131.23 508.38h2M135.19 506.95V509.08M134.19 506.95h2M134.19 509.08h2M138.15 507.62V509.75M137.15 507.62h2M137.15 509.75h2" stroke="#c8384c" stroke-width="0.6" fill="none"/>
<polyline points="49.40,518.27 52.36,492.33 55.32,487.39 58.27,490.23 61.23,493.79 64.19,497.91 67.15,502.17 70.11,505.61 73.07,508.14 76.03,510.27 78.98,512.08 81.94,513.60 84.90,514.87 87.86,516.04 90.82,517.26 93.78,518.60 96.73,519.89 99.69,520.97 102.65,521.79 105.61,522.50 108.57,523.12 111.53,523.69 114.48,524.24 117.44,524.79 120.40,525.38 123.36,525.98 126.32,526.57 129.28,527.16 132.23,527.75 135.19,528.34 138.15,528.92" fill="none" stroke="#3c9e5a" stroke-width="0.7"/><path d="M49.40 516.84L50.84 519.35L47.96 519.35Z" fill="#3c9e5a"/><path d="M52.36 490.89L53.80 493.40L50.92 493.40Z" fill="#3c9e5a"/><path d="M55.32 485.95L56.75 488.47L53.88 488.47Z" fill="#3c9e5a"/><path d="M58.27 488.79L59.71 491.31L56.84 491.31Z" fill="#3c9e5a"/><path d="M61.23 492.36L62.67 494.87L59.80 494.87Z" fill="#3c9e5a"/><path d="M64.19 496.47L65.63 498.99L62.75 498.99Z" fill="#3c9e5a"/><path d="M67.15 500.73L68.59 503.25L65.71 503.25Z" fill="#3c9e5a"/><path d="M70.11 504.17L71.55 506.68L68.67 506.68Z" fill="#3c9e5a"/><path d="M73.07 506.70L74.50 509.21L71.63 509.21Z" fill="#3c9e5a"/><path d="M76.03 508.83L77.46 511.35L74.59 511.35Z" fill="#3c9e5a"/><path d="M78.98 510.64L80.42 513.15L77.55 513.15Z" fill="#3c9e5a"/><path d="M81.94 512.16L83.38 514.67L80.50 514.67Z" fill="#3c9e5a"/><path d="M84.90 513.43L86.34 515.95L83.46 515.95Z" fill="#3c9e5a"/><path d="M87.86 514.60L89.30 517.12L86.42 517.12Z" fill="#3c9e5a"/><path d="M90.82 515.82L92.25 518.34L89.38 518.34Z" fill="#3c9e5a"/><path d="M93.78 517.16L95.21 519.67L92.34 519.67Z" fill="#3c9e5a"/><path d="M96.73 518.45L98.17 520.97L95.30 520.97Z" fill="#3c9e5a"/><path d="M99.69 519.54L101.13 522.05L98.25 522.05Z" fill="#3c9e5a"/><path d="M102.65 520.35L104.09 522.87L101.21 522.87Z" fill="#3c9e5a"/><path d="M105.61 521.06L107.05 523.57L104.17 523.57Z" fill="#3c9e5a"/><path d="M108.57 521.68L110.00 524.20L107.13 524.20Z" fill="#3c9e5a"/><path d="M111.53 522.26L112.96 524.77L110.09 524.77Z" fill="#3c9e5a"/><path d="M114.48 522.80L115.92 525.32L113.05 525.32Z" fill="#3c9e5a"/><path d="M117.44 523.36L118.88 525.87L116.00 525.87Z" fill="#3c9e5a"/><path d="M120.40 523.94L121.84 526.45L118.96 526.45Z" fill="#3c9e5a"/><path d="M123.36 524.54L124.80 527.06L121.92 527.06Z" fill="#3c9e5a"/><path d="M126.32 525.13L127.75 527.65L124.88 527.65Z" fill="#3c9e5a"/><path d="M129.28 525.72L130.71 528.24L127.84 528.24Z" fill="#3c9e5a"/><path d="M132.23 526.31L133.67 528.83L130.80 528.83Z" fill="#3c9e5a"/><path d="M135.19 526.90L136.63 529.41L133.75 529.41Z" fill="#3c9e5a"/><path d="M138.15 527.49L139.59 530.00L136.71 530.00Z" fill="#3c9e5a"/>
<polyline points="49.40,516.50 52.36,490.91 55.32,486.33 58.27,488.10 61.23,490.95 64.19,494.14 67.15,497.45 70.11,500.42 73.07,503.04 76.03,505.45 78.98,507.52 81.94,509.20 84.90,510.66 87.86,511.90 90.82,512.88 93.78,513.66 96.73,514.33 99.69,514.97 102.65,515.63 105.61,516.27 108.57,516.89 111.53,517.49 114.48,518.10 117.44,518.71 120.40,519.34 123.36,519.98 126.32,520.63 129.28,521.28 132.23,521.94 135.19,522.59 138.15,523.25" fill="none" stroke="#1c355e" stroke-width="0.7"/><circle cx="49.40" cy="516.50" r="1.25" fill="#1c355e"/><circle cx="52.36" cy="490.91" r="1.25" fill="#1c355e"/><circle cx="55.32" cy="486.33" r="1.25" fill="#1c355e"/><circle cx="58.27" cy="488.10" r="1.25" fill="#1c355e"/><circle cx="61.23" cy="490.95" r="1.25" fill="#1c355e"/><circle cx="64.19" cy="494.14" r="1.25" fill="#1c355e"/><circle cx="67.15" cy="497.45" r="1.25" fill="#1c355e"/><circle cx="70.11" cy="500.42" r="1.25" fill="#1c355e"/><circle cx="73.07" cy="503.04" r="1.25" fill="#1c355e"/><circle cx="76.03" cy="505.45" r="1.25" fill="#1c355e"/><circle cx="78.98" cy="507.52" r="1.25" fill="#1c355e"/><circle cx="81.94" cy="509.20" r="1.25" fill="#1c355e"/><circle cx="84.90" cy="510.66" r="1.25" fill="#1c355e"/><circle cx="87.86" cy="511.90" r="1.25" fill="#1c355e"/><circle cx="90.82" cy="512.88" r="1.25" fill="#1c355e"/><circle cx="93.78" cy="513.66" r="1.25" fill="#1c355e"/><circle cx="96.73" cy="514.33" r="1.25" fill="#1c355e"/><circle cx="99.69" cy="514.97" r="1.25" fill="#1c355e"/><circle cx="102.65" cy="515.63" r="1.25" fill="#1c355e"/><circle cx="105.61" cy="516.27" r="1.25" fill="#1c355e"/><circle cx="108.57" cy="516.89" r="1.25" fill="#1c355e"/><circle cx="111.53" cy="517.49" r="1.25" fill="#1c355e"/><circle cx="114.48" cy="518.10" r="1.25" fill="#1c355e"/><circle cx="117.44" cy="518.71" r="1.25" fill="#1c355e"/><circle cx="120.40" cy="519.34" r="1.25" fill="#1c355e"/><circle cx="123.36" cy="519.98" r="1.25" fill="#1c355e"/><circle cx="126.32" cy="520.63" r="1.25" fill="#1c355e"/><circle cx="129.28" cy="521.28" r="1.25" fill="#1c355e"/><circle cx="132.23" cy="521.94" r="1.25" fill="#1c355e"/><circle cx="135.19" cy="522.59" r="1.25" fill="#1c355e"/><circle cx="138.15" cy="523.25" r="1.25" fill="#1c355e"/>
<polyline points="49.40,515.79 52.36,490.55 55.32,485.97 58.27,487.39 61.23,489.89 64.19,492.96 67.15,496.29 70.11,499.21 73.07,501.61 76.03,503.76 78.98,505.66 81.94,507.30 84.90,508.78 87.86,510.07 90.82,511.14 93.78,512.06 96.73,512.85 99.69,513.56 102.65,514.18 105.61,514.74 108.57,515.26 111.53,515.74 114.48,516.22 117.44,516.70 120.40,517.21 123.36,517.74 126.32,518.27 129.28,518.80 132.23,519.34 135.19,519.87 138.15,520.40" fill="none" stroke="#8a84c0" stroke-width="0.7"/><circle cx="49.40" cy="515.79" r="1.25" fill="#8a84c0"/><circle cx="52.36" cy="490.55" r="1.25" fill="#8a84c0"/><circle cx="55.32" cy="485.97" r="1.25" fill="#8a84c0"/><circle cx="58.27" cy="487.39" r="1.25" fill="#8a84c0"/><circle cx="61.23" cy="489.89" r="1.25" fill="#8a84c0"/><circle cx="64.19" cy="492.96" r="1.25" fill="#8a84c0"/><circle cx="67.15" cy="496.29" r="1.25" fill="#8a84c0"/><circle cx="70.11" cy="499.21" r="1.25" fill="#8a84c0"/><circle cx="73.07" cy="501.61" r="1.25" fill="#8a84c0"/><circle cx="76.03" cy="503.76" r="1.25" fill="#8a84c0"/><circle cx="78.98" cy="505.66" r="1.25" fill="#8a84c0"/><circle cx="81.94" cy="507.30" r="1.25" fill="#8a84c0"/><circle cx="84.90" cy="508.78" r="1.25" fill="#8a84c0"/><circle cx="87.86" cy="510.07" r="1.25" fill="#8a84c0"/><circle cx="90.82" cy="511.14" r="1.25" fill="#8a84c0"/><circle cx="93.78" cy="512.06" r="1.25" fill="#8a84c0"/><circle cx="96.73" cy="512.85" r="1.25" fill="#8a84c0"/><circle cx="99.69" cy="513.56" r="1.25" fill="#8a84c0"/><circle cx="102.65" cy="514.18" r="1.25" fill="#8a84c0"/><circle cx="105.61" cy="514.74" r="1.25" fill="#8a84c0"/><circle cx="108.57" cy="515.26" r="1.25" fill="#8a84c0"/><circle cx="111.53" cy="515.74" r="1.25" fill="#8a84c0"/><circle cx="114.48" cy="516.22" r="1.25" fill="#8a84c0"/><circle cx="117.44" cy="516.70" r="1.25" fill="#8a84c0"/><circle cx="120.40" cy="517.21" r="1.25" fill="#8a84c0"/><circle cx="123.36" cy="517.74" r="1.25" fill="#8a84c0"/><circle cx="126.32" cy="518.27" r="1.25" fill="#8a84c0"/><circle cx="129.28" cy="518.80" r="1.25" fill="#8a84c0"/><circle cx="132.23" cy="519.34" r="1.25" fill="#8a84c0"/><circle cx="135.19" cy="519.87" r="1.25" fill="#8a84c0"/><circle cx="138.15" cy="520.40" r="1.25" fill="#8a84c0"/>
<polyline points="49.40,515.79 52.36,490.55 55.32,485.62 58.27,487.03 61.23,489.17 64.19,492.07 67.15,495.33 70.11,498.13 73.07,500.32 76.03,502.24 78.98,503.93 81.94,505.43 84.90,506.78 87.86,507.97 90.82,509.00 93.78,509.92 96.73,510.73 99.69,511.43 102.65,512.01 105.61,512.52 108.57,512.98 111.53,513.40 114.48,513.82 117.44,514.25 120.40,514.73 123.36,515.23 126.32,515.76 129.28,516.30 132.23,516.84 135.19,517.38 138.15,517.92" fill="none" stroke="#cc1f7e" stroke-width="0.7"/><path d="M49.40 517.23L50.84 514.71L47.96 514.71Z" fill="#cc1f7e"/><path d="M52.36 491.99L53.80 489.47L50.92 489.47Z" fill="#cc1f7e"/><path d="M55.32 487.05L56.75 484.54L53.88 484.54Z" fill="#cc1f7e"/><path d="M58.27 488.47L59.71 485.96L56.84 485.96Z" fill="#cc1f7e"/><path d="M61.23 490.61L62.67 488.10L59.80 488.10Z" fill="#cc1f7e"/><path d="M64.19 493.51L65.63 490.99L62.75 490.99Z" fill="#cc1f7e"/><path d="M67.15 496.77L68.59 494.26L65.71 494.26Z" fill="#cc1f7e"/><path d="M70.11 499.57L71.55 497.06L68.67 497.06Z" fill="#cc1f7e"/><path d="M73.07 501.76L74.50 499.24L71.63 499.24Z" fill="#cc1f7e"/><path d="M76.03 503.68L77.46 501.16L74.59 501.16Z" fill="#cc1f7e"/><path d="M78.98 505.37L80.42 502.85L77.55 502.85Z" fill="#cc1f7e"/><path d="M81.94 506.87L83.38 504.35L80.50 504.35Z" fill="#cc1f7e"/><path d="M84.90 508.22L86.34 505.70L83.46 505.70Z" fill="#cc1f7e"/><path d="M87.86 509.41L89.30 506.90L86.42 506.90Z" fill="#cc1f7e"/><path d="M90.82 510.44L92.25 507.93L89.38 507.93Z" fill="#cc1f7e"/><path d="M93.78 511.36L95.21 508.84L92.34 508.84Z" fill="#cc1f7e"/><path d="M96.73 512.17L98.17 509.66L95.30 509.66Z" fill="#cc1f7e"/><path d="M99.69 512.87L101.13 510.35L98.25 510.35Z" fill="#cc1f7e"/><path d="M102.65 513.45L104.09 510.94L101.21 510.94Z" fill="#cc1f7e"/><path d="M105.61 513.96L107.05 511.44L104.17 511.44Z" fill="#cc1f7e"/><path d="M108.57 514.41L110.00 511.90L107.13 511.90Z" fill="#cc1f7e"/><path d="M111.53 514.84L112.96 512.32L110.09 512.32Z" fill="#cc1f7e"/><path d="M114.48 515.26L115.92 512.74L113.05 512.74Z" fill="#cc1f7e"/><path d="M117.44 515.69L118.88 513.18L116.00 513.18Z" fill="#cc1f7e"/><path d="M120.40 516.16L121.84 513.65L118.96 513.65Z" fill="#cc1f7e"/><path d="M123.36 516.67L124.80 514.16L121.92 514.16Z" fill="#cc1f7e"/><path d="M126.32 517.20L127.75 514.68L124.88 514.68Z" fill="#cc1f7e"/><path d="M129.28 517.73L130.71 515.22L127.84 515.22Z" fill="#cc1f7e"/><path d="M132.23 518.28L133.67 515.76L130.80 515.76Z" fill="#cc1f7e"/><path d="M135.19 518.82L136.63 516.30L133.75 516.30Z" fill="#cc1f7e"/><path d="M138.15 519.36L139.59 516.84L136.71 516.84Z" fill="#cc1f7e"/>
<polyline points="49.40,520.05 52.36,490.55 55.32,485.62 58.27,486.68 61.23,488.46 64.19,491.11 67.15,494.19 70.11,496.70 73.07,498.47 76.03,499.98 78.98,501.23 81.94,502.27 84.90,503.14 87.86,503.91 90.82,504.68 93.78,505.47 96.73,506.21 99.69,506.83 102.65,507.30 105.61,507.69 108.57,508.03 111.53,508.34 114.48,508.66 117.44,509.00 120.40,509.40 123.36,509.86 126.32,510.38 129.28,510.92 132.23,511.49 135.19,512.05 138.15,512.60" fill="none" stroke="#eb953a" stroke-width="0.7"/><path d="M49.40 518.49L50.96 520.05L49.40 521.61L47.84 520.05Z" fill="#eb953a"/><path d="M52.36 488.99L53.92 490.55L52.36 492.11L50.80 490.55Z" fill="#eb953a"/><path d="M55.32 484.05L56.88 485.62L55.32 487.18L53.75 485.62Z" fill="#eb953a"/><path d="M58.27 485.12L59.84 486.68L58.27 488.24L56.71 486.68Z" fill="#eb953a"/><path d="M61.23 486.90L62.80 488.46L61.23 490.03L59.67 488.46Z" fill="#eb953a"/><path d="M64.19 489.55L65.75 491.11L64.19 492.68L62.63 491.11Z" fill="#eb953a"/><path d="M67.15 492.63L68.71 494.19L67.15 495.76L65.59 494.19Z" fill="#eb953a"/><path d="M70.11 495.13L71.67 496.70L70.11 498.26L68.55 496.70Z" fill="#eb953a"/><path d="M73.07 496.91L74.63 498.47L73.07 500.04L71.50 498.47Z" fill="#eb953a"/><path d="M76.03 498.42L77.59 499.98L76.03 501.54L74.46 499.98Z" fill="#eb953a"/><path d="M78.98 499.67L80.55 501.23L78.98 502.80L77.42 501.23Z" fill="#eb953a"/><path d="M81.94 500.71L83.50 502.27L81.94 503.83L80.38 502.27Z" fill="#eb953a"/><path d="M84.90 501.57L86.46 503.14L84.90 504.70L83.34 503.14Z" fill="#eb953a"/><path d="M87.86 502.35L89.42 503.91L87.86 505.47L86.30 503.91Z" fill="#eb953a"/><path d="M90.82 503.12L92.38 504.68L90.82 506.24L89.25 504.68Z" fill="#eb953a"/><path d="M93.78 503.91L95.34 505.47L93.78 507.03L92.21 505.47Z" fill="#eb953a"/><path d="M96.73 504.65L98.30 506.21L96.73 507.78L95.17 506.21Z" fill="#eb953a"/><path d="M99.69 505.27L101.25 506.83L99.69 508.39L98.13 506.83Z" fill="#eb953a"/><path d="M102.65 505.74L104.21 507.30L102.65 508.86L101.09 507.30Z" fill="#eb953a"/><path d="M105.61 506.13L107.17 507.69L105.61 509.25L104.05 507.69Z" fill="#eb953a"/><path d="M108.57 506.47L110.13 508.03L108.57 509.59L107.00 508.03Z" fill="#eb953a"/><path d="M111.53 506.78L113.09 508.34L111.53 509.91L109.96 508.34Z" fill="#eb953a"/><path d="M114.48 507.10L116.05 508.66L114.48 510.22L112.92 508.66Z" fill="#eb953a"/><path d="M117.44 507.44L119.00 509.00L117.44 510.56L115.88 509.00Z" fill="#eb953a"/><path d="M120.40 507.84L121.96 509.40L120.40 510.96L118.84 509.40Z" fill="#eb953a"/><path d="M123.36 508.30L124.92 509.86L123.36 511.43L121.80 509.86Z" fill="#eb953a"/><path d="M126.32 508.81L127.88 510.38L126.32 511.94L124.75 510.38Z" fill="#eb953a"/><path d="M129.28 509.36L130.84 510.92L129.28 512.49L127.71 510.92Z" fill="#eb953a"/><path d="M132.23 509.92L133.80 511.49L132.23 513.05L130.67 511.49Z" fill="#eb953a"/><path d="M135.19 510.49L136.75 512.05L135.19 513.61L133.63 512.05Z" fill="#eb953a"/><path d="M138.15 511.03L139.71 512.60L138.15 514.16L136.59 512.60Z" fill="#eb953a"/>
<polyline points="49.40,515.79 52.36,489.84 55.32,485.26 58.27,485.97 61.23,487.40 64.19,489.52 67.15,492.04 70.11,494.21 73.07,496.00 76.03,497.62 78.98,498.84 81.94,499.54 84.90,500.02 87.86,500.42 90.82,500.84 93.78,501.26 96.73,501.66 99.69,502.06 102.65,502.45 105.61,502.81 108.57,503.17 111.53,503.53 114.48,503.91 117.44,504.32 120.40,504.78 123.36,505.32 126.32,505.94 129.28,506.62 132.23,507.32 135.19,508.02 138.15,508.69" fill="none" stroke="#b8152f" stroke-width="0.7"/><rect x="48.15" y="514.54" width="2.50" height="2.50" fill="#b8152f"/><rect x="51.11" y="488.59" width="2.50" height="2.50" fill="#b8152f"/><rect x="54.07" y="484.01" width="2.50" height="2.50" fill="#b8152f"/><rect x="57.02" y="484.72" width="2.50" height="2.50" fill="#b8152f"/><rect x="59.98" y="486.15" width="2.50" height="2.50" fill="#b8152f"/><rect x="62.94" y="488.27" width="2.50" height="2.50" fill="#b8152f"/><rect x="65.90" y="490.79" width="2.50" height="2.50" fill="#b8152f"/><rect x="68.86" y="492.96" width="2.50" height="2.50" fill="#b8152f"/><rect x="71.82" y="494.75" width="2.50" height="2.50" fill="#b8152f"/><rect x="74.78" y="496.37" width="2.50" height="2.50" fill="#b8152f"/><rect x="77.73" y="497.59" width="2.50" height="2.50" fill="#b8152f"/><rect x="80.69" y="498.29" width="2.50" height="2.50" fill="#b8152f"/><rect x="83.65" y="498.77" width="2.50" height="2.50" fill="#b8152f"/><rect x="86.61" y="499.17" width="2.50" height="2.50" fill="#b8152f"/><rect x="89.57" y="499.59" width="2.50" height="2.50" fill="#b8152f"/><rect x="92.53" y="500.01" width="2.50" height="2.50" fill="#b8152f"/><rect x="95.48" y="500.41" width="2.50" height="2.50" fill="#b8152f"/><rect x="98.44" y="500.81" width="2.50" height="2.50" fill="#b8152f"/><rect x="101.40" y="501.20" width="2.50" height="2.50" fill="#b8152f"/><rect x="104.36" y="501.56" width="2.50" height="2.50" fill="#b8152f"/><rect x="107.32" y="501.92" width="2.50" height="2.50" fill="#b8152f"/><rect x="110.28" y="502.28" width="2.50" height="2.50" fill="#b8152f"/><rect x="113.23" y="502.66" width="2.50" height="2.50" fill="#b8152f"/><rect x="116.19" y="503.07" width="2.50" height="2.50" fill="#b8152f"/><rect x="119.15" y="503.53" width="2.50" height="2.50" fill="#b8152f"/><rect x="122.11" y="504.07" width="2.50" height="2.50" fill="#b8152f"/><rect x="125.07" y="504.69" width="2.50" height="2.50" fill="#b8152f"/><rect x="128.03" y="505.37" width="2.50" height="2.50" fill="#b8152f"/><rect x="130.98" y="506.07" width="2.50" height="2.50" fill="#b8152f"/><rect x="133.94" y="506.77" width="2.50" height="2.50" fill="#b8152f"/><rect x="136.90" y="507.44" width="2.50" height="2.50" fill="#b8152f"/>
<path d="M49.40 465.30V537.80H158.70" stroke="#000" stroke-width="0.9" fill="none"/>
<text x="44.60" y="540.05" font-size="6.3" text-anchor="end" font-weight="normal" fill="#231f20" letter-spacing="0.2">0</text>
<text x="44.60" y="522.30" font-size="6.3" text-anchor="end" font-weight="normal" fill="#231f20" letter-spacing="0.2">50000</text>
<text x="44.60" y="504.55" font-size="6.3" text-anchor="end" font-weight="normal" fill="#231f20" letter-spacing="0.2">100000</text>
<text x="44.60" y="486.80" font-size="6.3" text-anchor="end" font-weight="normal" fill="#231f20" letter-spacing="0.2">150000</text>
<text x="44.60" y="469.05" font-size="6.3" text-anchor="end" font-weight="normal" fill="#231f20" letter-spacing="0.2">200000</text>
<text x="49.45" y="549.70" font-size="6.3" text-anchor="middle" font-weight="normal" fill="#231f20" letter-spacing="0.1">0:00:00</text>
<text x="84.95" y="549.70" font-size="6.3" text-anchor="middle" font-weight="normal" fill="#231f20" letter-spacing="0.1">1:00:00</text>
<text x="120.45" y="549.70" font-size="6.3" text-anchor="middle" font-weight="normal" fill="#231f20" letter-spacing="0.1">2:00:00</text>
<text x="155.95" y="549.70" font-size="6.3" text-anchor="middle" font-weight="normal" fill="#231f20" letter-spacing="0.1">3:00:00</text>
<path d="M46.40 537.80H49.40M46.40 520.05H49.40M46.40 502.30H49.40M46.40 484.55H49.40M46.40 466.80H49.40M49.40 537.80V540.80M84.90 537.80V540.80M120.40 537.80V540.80M155.90 537.80V540.80" stroke="#000" stroke-width="0.9" fill="none"/>
<text x="0" y="0" font-size="8.4" text-anchor="middle" fill="#231f20" textLength="11.6" lengthAdjust="spacingAndGlyphs" style="stroke-width:0.18px" transform="translate(17.00 501.00) rotate(-90)">RLU</text>
<text x="104.20" y="561.40" font-size="8.4" text-anchor="middle" fill="#231f20" textLength="24.2" lengthAdjust="spacingAndGlyphs" style="stroke-width:0.18px">Time (h)</text>
<path d="M173.80 476.05H184.00" stroke="#1c355e" stroke-width="0.9"/>
<circle cx="178.90" cy="476.05" r="1.70" fill="#1c355e"/>
<text x="187.00" y="478.35" font-size="6.45" text-anchor="start" font-weight="normal" fill="#231f20" >NHS MgEGTA on DKO</text>
<path d="M173.80 486.05H184.00" stroke="#b8152f" stroke-width="0.9"/>
<rect x="177.20" y="484.35" width="3.40" height="3.40" fill="#b8152f"/>
<text x="187.00" y="488.35" font-size="6.45" text-anchor="start" font-weight="normal" fill="#231f20" >HI NHS</text>
<path d="M173.80 496.05H184.00" stroke="#3c9e5a" stroke-width="0.9"/>
<path d="M178.90 494.10L180.86 497.52L176.94 497.52Z" fill="#3c9e5a"/>
<text x="187.00" y="498.35" font-size="6.45" text-anchor="start" font-weight="normal" fill="#231f20" >NHS + 0.5 μM cp40</text>
<path d="M173.80 506.05H184.00" stroke="#cc1f7e" stroke-width="0.9"/>
<path d="M178.90 508.00L180.86 504.58L176.94 504.58Z" fill="#cc1f7e"/>
<text x="187.00" y="508.35" font-size="6.45" text-anchor="start" font-weight="normal" fill="#231f20" >NHS + 1 μM cp40</text>
<path d="M173.80 516.05H184.00" stroke="#eb953a" stroke-width="0.9"/>
<path d="M178.90 513.92L181.03 516.05L178.90 518.17L176.78 516.05Z" fill="#eb953a"/>
<text x="187.00" y="518.35" font-size="6.45" text-anchor="start" font-weight="normal" fill="#231f20" >NHS + 5 μM cp40</text>
<path d="M173.80 526.05H184.00" stroke="#8a84c0" stroke-width="0.9"/>
<circle cx="178.90" cy="526.05" r="1.70" fill="#8a84c0"/>
<text x="187.00" y="528.35" font-size="6.45" text-anchor="start" font-weight="normal" fill="#231f20" >NHS + 10 μM cp40</text>
<rect x="0.5" y="0.5" width="519" height="569" fill="none" stroke="#555" stroke-width="1"/>
</svg>
</body></html>
